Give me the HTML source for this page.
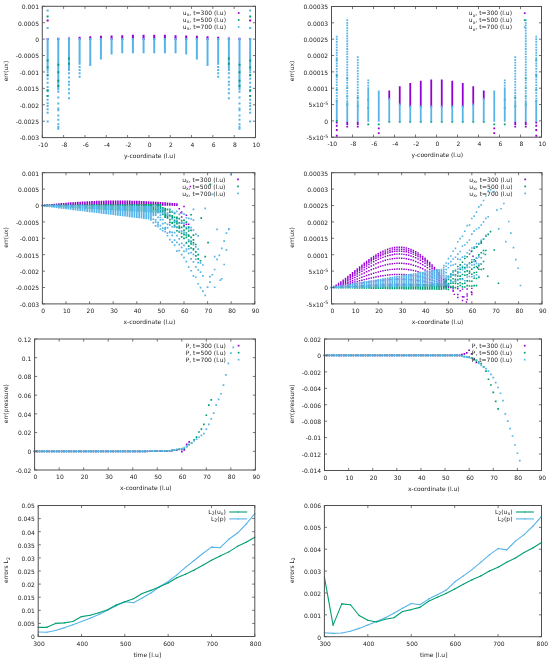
<!DOCTYPE html>
<html><head><meta charset="utf-8"><style>
html,body{margin:0;padding:0;background:#fff;}
svg{display:block;}
text{font-family:"DejaVu Sans","Liberation Sans",sans-serif;fill:#222;}
</style></head><body>
<svg width="550" height="659" viewBox="0 0 550 659">
<rect width="550" height="659" fill="#fff"/>
<path d="M38.20 632.05 L46.86 632.31 L55.53 630.47 L64.19 627.85 L72.86 624.71 L81.52 621.57 L90.18 618.16 L98.85 614.49 L107.51 610.30 L116.18 605.85 L124.84 601.65 L133.50 602.70 L142.17 597.99 L150.83 593.01 L159.50 586.72 L168.16 581.48 L176.82 574.93 L185.49 567.33 L194.15 560.52 L202.82 553.45 L211.48 547.16 L220.14 547.68 L228.81 539.30 L237.47 533.01 L246.14 524.10 L254.80 513.62" stroke="#56b4e9" stroke-width="1.1" fill="none" stroke-linejoin="round"/>
<path d="M37.65 631.50h1.10v1.10h-1.10zM46.31 631.76h1.10v1.10h-1.10zM54.98 629.92h1.10v1.10h-1.10zM63.64 627.30h1.10v1.10h-1.10zM72.31 624.16h1.10v1.10h-1.10zM80.97 621.02h1.10v1.10h-1.10zM89.63 617.61h1.10v1.10h-1.10zM98.30 613.94h1.10v1.10h-1.10zM106.96 609.75h1.10v1.10h-1.10zM115.63 605.30h1.10v1.10h-1.10zM124.29 601.10h1.10v1.10h-1.10zM132.95 602.15h1.10v1.10h-1.10zM141.62 597.44h1.10v1.10h-1.10zM150.28 592.46h1.10v1.10h-1.10zM158.95 586.17h1.10v1.10h-1.10zM167.61 580.93h1.10v1.10h-1.10zM176.27 574.38h1.10v1.10h-1.10zM184.94 566.78h1.10v1.10h-1.10zM193.60 559.97h1.10v1.10h-1.10zM202.27 552.90h1.10v1.10h-1.10zM210.93 546.61h1.10v1.10h-1.10zM219.59 547.13h1.10v1.10h-1.10zM228.26 538.75h1.10v1.10h-1.10zM236.92 532.46h1.10v1.10h-1.10zM245.59 523.55h1.10v1.10h-1.10zM254.25 513.07h1.10v1.10h-1.10z" fill="#56b4e9"/>
<path d="M38.20 627.33 L46.86 627.33 L55.53 623.40 L64.19 622.88 L72.86 621.57 L81.52 616.59 L90.18 615.28 L98.85 612.66 L107.51 609.78 L116.18 605.06 L124.84 601.65 L133.50 598.77 L142.17 593.53 L150.83 590.39 L159.50 586.72 L168.16 583.05 L176.82 577.81 L185.49 574.14 L194.15 569.95 L202.82 565.24 L211.48 560.26 L220.14 556.07 L228.81 551.87 L237.47 546.37 L246.14 542.18 L254.80 537.20" stroke="#009e73" stroke-width="1.1" fill="none" stroke-linejoin="round"/>
<path d="M37.65 626.78h1.10v1.10h-1.10zM46.31 626.78h1.10v1.10h-1.10zM54.98 622.85h1.10v1.10h-1.10zM63.64 622.33h1.10v1.10h-1.10zM72.31 621.02h1.10v1.10h-1.10zM80.97 616.04h1.10v1.10h-1.10zM89.63 614.73h1.10v1.10h-1.10zM98.30 612.11h1.10v1.10h-1.10zM106.96 609.23h1.10v1.10h-1.10zM115.63 604.51h1.10v1.10h-1.10zM124.29 601.10h1.10v1.10h-1.10zM132.95 598.22h1.10v1.10h-1.10zM141.62 592.98h1.10v1.10h-1.10zM150.28 589.84h1.10v1.10h-1.10zM158.95 586.17h1.10v1.10h-1.10zM167.61 582.50h1.10v1.10h-1.10zM176.27 577.26h1.10v1.10h-1.10zM184.94 573.59h1.10v1.10h-1.10zM193.60 569.40h1.10v1.10h-1.10zM202.27 564.69h1.10v1.10h-1.10zM210.93 559.71h1.10v1.10h-1.10zM219.59 555.52h1.10v1.10h-1.10zM228.26 551.32h1.10v1.10h-1.10zM236.92 545.82h1.10v1.10h-1.10zM245.59 541.63h1.10v1.10h-1.10zM254.25 536.65h1.10v1.10h-1.10z" fill="#009e73"/>
<path d="M324.40 632.76 L333.08 633.42 L341.77 632.98 L350.45 631.23 L359.14 628.39 L367.82 625.11 L376.50 621.39 L385.19 617.68 L393.87 613.30 L402.56 608.27 L411.24 603.46 L419.92 604.77 L428.61 599.09 L437.29 594.72 L445.98 590.34 L454.66 582.03 L463.34 575.91 L472.03 569.57 L480.71 562.35 L489.40 554.92 L498.08 548.58 L506.76 549.89 L515.45 541.14 L524.13 534.58 L532.82 526.27 L541.50 516.43" stroke="#56b4e9" stroke-width="1.1" fill="none" stroke-linejoin="round"/>
<path d="M323.85 632.21h1.10v1.10h-1.10zM332.53 632.87h1.10v1.10h-1.10zM341.22 632.43h1.10v1.10h-1.10zM349.90 630.68h1.10v1.10h-1.10zM358.59 627.84h1.10v1.10h-1.10zM367.27 624.56h1.10v1.10h-1.10zM375.95 620.84h1.10v1.10h-1.10zM384.64 617.13h1.10v1.10h-1.10zM393.32 612.75h1.10v1.10h-1.10zM402.01 607.72h1.10v1.10h-1.10zM410.69 602.91h1.10v1.10h-1.10zM419.37 604.22h1.10v1.10h-1.10zM428.06 598.54h1.10v1.10h-1.10zM436.74 594.17h1.10v1.10h-1.10zM445.43 589.79h1.10v1.10h-1.10zM454.11 581.48h1.10v1.10h-1.10zM462.79 575.36h1.10v1.10h-1.10zM471.48 569.02h1.10v1.10h-1.10zM480.16 561.80h1.10v1.10h-1.10zM488.85 554.37h1.10v1.10h-1.10zM497.53 548.03h1.10v1.10h-1.10zM506.21 549.34h1.10v1.10h-1.10zM514.90 540.59h1.10v1.10h-1.10zM523.58 534.03h1.10v1.10h-1.10zM532.27 525.72h1.10v1.10h-1.10zM540.95 515.88h1.10v1.10h-1.10z" fill="#56b4e9"/>
<path d="M324.40 577.22 L333.08 625.11 L341.77 603.90 L350.45 604.77 L359.14 615.49 L367.82 620.30 L376.50 622.05 L385.19 619.21 L393.87 617.68 L402.56 611.55 L411.24 609.59 L419.92 607.40 L428.61 601.28 L437.29 597.34 L445.98 593.40 L454.66 589.03 L463.34 584.22 L472.03 579.85 L480.71 575.91 L489.40 571.10 L498.08 567.16 L506.76 562.35 L515.45 557.98 L524.13 552.51 L532.82 547.92 L541.50 542.45" stroke="#009e73" stroke-width="1.1" fill="none" stroke-linejoin="round"/>
<path d="M323.85 576.67h1.10v1.10h-1.10zM332.53 624.56h1.10v1.10h-1.10zM341.22 603.35h1.10v1.10h-1.10zM349.90 604.22h1.10v1.10h-1.10zM358.59 614.94h1.10v1.10h-1.10zM367.27 619.75h1.10v1.10h-1.10zM375.95 621.50h1.10v1.10h-1.10zM384.64 618.66h1.10v1.10h-1.10zM393.32 617.13h1.10v1.10h-1.10zM402.01 611.00h1.10v1.10h-1.10zM410.69 609.04h1.10v1.10h-1.10zM419.37 606.85h1.10v1.10h-1.10zM428.06 600.73h1.10v1.10h-1.10zM436.74 596.79h1.10v1.10h-1.10zM445.43 592.85h1.10v1.10h-1.10zM454.11 588.48h1.10v1.10h-1.10zM462.79 583.67h1.10v1.10h-1.10zM471.48 579.30h1.10v1.10h-1.10zM480.16 575.36h1.10v1.10h-1.10zM488.85 570.55h1.10v1.10h-1.10zM497.53 566.61h1.10v1.10h-1.10zM506.21 561.80h1.10v1.10h-1.10zM514.90 557.43h1.10v1.10h-1.10zM523.58 551.96h1.10v1.10h-1.10zM532.27 547.37h1.10v1.10h-1.10zM540.95 541.90h1.10v1.10h-1.10z" fill="#009e73"/>
<path d="M33.75 450.44h1.70v1.70h-1.70zM36.20 450.44h1.70v1.70h-1.70zM38.66 450.44h1.70v1.70h-1.70zM41.11 450.44h1.70v1.70h-1.70zM43.56 450.44h1.70v1.70h-1.70zM46.02 450.44h1.70v1.70h-1.70zM48.47 450.44h1.70v1.70h-1.70zM50.92 450.44h1.70v1.70h-1.70zM53.38 450.44h1.70v1.70h-1.70zM55.83 450.44h1.70v1.70h-1.70zM58.28 450.44h1.70v1.70h-1.70zM60.74 450.44h1.70v1.70h-1.70zM63.19 450.44h1.70v1.70h-1.70zM65.64 450.44h1.70v1.70h-1.70zM68.10 450.44h1.70v1.70h-1.70zM70.55 450.44h1.70v1.70h-1.70zM73.00 450.44h1.70v1.70h-1.70zM75.46 450.44h1.70v1.70h-1.70zM77.91 450.44h1.70v1.70h-1.70zM80.36 450.44h1.70v1.70h-1.70zM82.82 450.44h1.70v1.70h-1.70zM85.27 450.44h1.70v1.70h-1.70zM87.72 450.44h1.70v1.70h-1.70zM90.18 450.44h1.70v1.70h-1.70zM92.63 450.44h1.70v1.70h-1.70zM95.08 450.44h1.70v1.70h-1.70zM97.54 450.44h1.70v1.70h-1.70zM99.99 450.44h1.70v1.70h-1.70zM102.44 450.44h1.70v1.70h-1.70zM104.90 450.44h1.70v1.70h-1.70zM107.35 450.44h1.70v1.70h-1.70zM109.80 450.44h1.70v1.70h-1.70zM112.26 450.44h1.70v1.70h-1.70zM114.71 450.44h1.70v1.70h-1.70zM117.16 450.44h1.70v1.70h-1.70zM119.62 450.44h1.70v1.70h-1.70zM122.07 450.44h1.70v1.70h-1.70zM124.52 450.44h1.70v1.70h-1.70zM126.98 450.44h1.70v1.70h-1.70zM129.43 450.44h1.70v1.70h-1.70zM131.88 450.44h1.70v1.70h-1.70zM134.34 450.44h1.70v1.70h-1.70zM136.79 450.44h1.70v1.70h-1.70zM139.24 450.44h1.70v1.70h-1.70zM141.70 450.44h1.70v1.70h-1.70zM144.15 450.44h1.70v1.70h-1.70zM146.60 450.43h1.70v1.70h-1.70zM149.06 450.41h1.70v1.70h-1.70zM151.51 450.39h1.70v1.70h-1.70zM153.96 450.36h1.70v1.70h-1.70zM156.42 450.33h1.70v1.70h-1.70zM158.87 450.30h1.70v1.70h-1.70zM161.32 450.26h1.70v1.70h-1.70zM163.78 450.22h1.70v1.70h-1.70zM166.23 450.18h1.70v1.70h-1.70zM168.68 450.14h1.70v1.70h-1.70zM171.14 449.76h1.70v1.70h-1.70zM173.59 449.39h1.70v1.70h-1.70zM176.04 449.01h1.70v1.70h-1.70zM178.50 448.64h1.70v1.70h-1.70zM180.95 450.72h1.70v1.70h-1.70zM183.40 448.94h1.70v1.70h-1.70zM185.86 443.51h1.70v1.70h-1.70zM188.31 441.08h1.70v1.70h-1.70z" fill="#9400d3"/>
<path d="M33.75 450.44h1.70v1.70h-1.70zM36.20 450.44h1.70v1.70h-1.70zM38.66 450.44h1.70v1.70h-1.70zM41.11 450.44h1.70v1.70h-1.70zM43.56 450.44h1.70v1.70h-1.70zM46.02 450.44h1.70v1.70h-1.70zM48.47 450.44h1.70v1.70h-1.70zM50.92 450.44h1.70v1.70h-1.70zM53.38 450.44h1.70v1.70h-1.70zM55.83 450.44h1.70v1.70h-1.70zM58.28 450.44h1.70v1.70h-1.70zM60.74 450.44h1.70v1.70h-1.70zM63.19 450.44h1.70v1.70h-1.70zM65.64 450.44h1.70v1.70h-1.70zM68.10 450.44h1.70v1.70h-1.70zM70.55 450.44h1.70v1.70h-1.70zM73.00 450.44h1.70v1.70h-1.70zM75.46 450.44h1.70v1.70h-1.70zM77.91 450.44h1.70v1.70h-1.70zM80.36 450.44h1.70v1.70h-1.70zM82.82 450.44h1.70v1.70h-1.70zM85.27 450.44h1.70v1.70h-1.70zM87.72 450.44h1.70v1.70h-1.70zM90.18 450.44h1.70v1.70h-1.70zM92.63 450.44h1.70v1.70h-1.70zM95.08 450.44h1.70v1.70h-1.70zM97.54 450.44h1.70v1.70h-1.70zM99.99 450.44h1.70v1.70h-1.70zM102.44 450.44h1.70v1.70h-1.70zM104.90 450.44h1.70v1.70h-1.70zM107.35 450.44h1.70v1.70h-1.70zM109.80 450.44h1.70v1.70h-1.70zM112.26 450.44h1.70v1.70h-1.70zM114.71 450.44h1.70v1.70h-1.70zM117.16 450.44h1.70v1.70h-1.70zM119.62 450.44h1.70v1.70h-1.70zM122.07 450.44h1.70v1.70h-1.70zM124.52 450.44h1.70v1.70h-1.70zM126.98 450.44h1.70v1.70h-1.70zM129.43 450.44h1.70v1.70h-1.70zM131.88 450.44h1.70v1.70h-1.70zM134.34 450.44h1.70v1.70h-1.70zM136.79 450.44h1.70v1.70h-1.70zM139.24 450.44h1.70v1.70h-1.70zM141.70 450.44h1.70v1.70h-1.70zM144.15 450.44h1.70v1.70h-1.70zM146.60 450.42h1.70v1.70h-1.70zM149.06 450.40h1.70v1.70h-1.70zM151.51 450.37h1.70v1.70h-1.70zM153.96 450.34h1.70v1.70h-1.70zM156.42 450.30h1.70v1.70h-1.70zM158.87 450.26h1.70v1.70h-1.70zM161.32 450.22h1.70v1.70h-1.70zM163.78 450.17h1.70v1.70h-1.70zM166.23 450.12h1.70v1.70h-1.70zM168.68 450.06h1.70v1.70h-1.70zM171.14 449.59h1.70v1.70h-1.70zM173.59 449.13h1.70v1.70h-1.70zM176.04 448.66h1.70v1.70h-1.70zM178.50 448.19h1.70v1.70h-1.70zM180.95 448.56h1.70v1.70h-1.70zM183.40 447.63h1.70v1.70h-1.70zM185.86 445.76h1.70v1.70h-1.70zM188.31 443.89h1.70v1.70h-1.70zM190.76 442.01h1.70v1.70h-1.70zM193.22 439.11h1.70v1.70h-1.70zM195.67 436.21h1.70v1.70h-1.70zM198.12 431.16h1.70v1.70h-1.70zM200.58 428.26h1.70v1.70h-1.70zM203.03 423.58h1.70v1.70h-1.70zM205.48 414.41h1.70v1.70h-1.70zM207.94 404.21h1.70v1.70h-1.70zM210.39 398.97h1.70v1.70h-1.70z" fill="#009e73"/>
<path d="M33.75 450.44h1.70v1.70h-1.70zM36.20 450.44h1.70v1.70h-1.70zM38.66 450.44h1.70v1.70h-1.70zM41.11 450.44h1.70v1.70h-1.70zM43.56 450.44h1.70v1.70h-1.70zM46.02 450.44h1.70v1.70h-1.70zM48.47 450.44h1.70v1.70h-1.70zM50.92 450.44h1.70v1.70h-1.70zM53.38 450.44h1.70v1.70h-1.70zM55.83 450.44h1.70v1.70h-1.70zM58.28 450.44h1.70v1.70h-1.70zM60.74 450.44h1.70v1.70h-1.70zM63.19 450.44h1.70v1.70h-1.70zM65.64 450.44h1.70v1.70h-1.70zM68.10 450.44h1.70v1.70h-1.70zM70.55 450.44h1.70v1.70h-1.70zM73.00 450.44h1.70v1.70h-1.70zM75.46 450.44h1.70v1.70h-1.70zM77.91 450.44h1.70v1.70h-1.70zM80.36 450.44h1.70v1.70h-1.70zM82.82 450.44h1.70v1.70h-1.70zM85.27 450.44h1.70v1.70h-1.70zM87.72 450.44h1.70v1.70h-1.70zM90.18 450.44h1.70v1.70h-1.70zM92.63 450.44h1.70v1.70h-1.70zM95.08 450.44h1.70v1.70h-1.70zM97.54 450.44h1.70v1.70h-1.70zM99.99 450.44h1.70v1.70h-1.70zM102.44 450.44h1.70v1.70h-1.70zM104.90 450.44h1.70v1.70h-1.70zM107.35 450.44h1.70v1.70h-1.70zM109.80 450.44h1.70v1.70h-1.70zM112.26 450.44h1.70v1.70h-1.70zM114.71 450.44h1.70v1.70h-1.70zM117.16 450.44h1.70v1.70h-1.70zM119.62 450.44h1.70v1.70h-1.70zM122.07 450.44h1.70v1.70h-1.70zM124.52 450.44h1.70v1.70h-1.70zM126.98 450.44h1.70v1.70h-1.70zM129.43 450.44h1.70v1.70h-1.70zM131.88 450.44h1.70v1.70h-1.70zM134.34 450.44h1.70v1.70h-1.70zM136.79 450.44h1.70v1.70h-1.70zM139.24 450.44h1.70v1.70h-1.70zM141.70 450.44h1.70v1.70h-1.70zM144.15 450.44h1.70v1.70h-1.70zM146.60 450.42h1.70v1.70h-1.70zM149.06 450.40h1.70v1.70h-1.70zM151.51 450.37h1.70v1.70h-1.70zM153.96 450.34h1.70v1.70h-1.70zM156.42 450.30h1.70v1.70h-1.70zM158.87 450.26h1.70v1.70h-1.70zM161.32 450.22h1.70v1.70h-1.70zM163.78 450.17h1.70v1.70h-1.70zM166.23 450.12h1.70v1.70h-1.70zM168.68 450.06h1.70v1.70h-1.70zM171.14 449.59h1.70v1.70h-1.70zM173.59 449.13h1.70v1.70h-1.70zM176.04 448.66h1.70v1.70h-1.70zM178.50 448.19h1.70v1.70h-1.70zM180.95 447.82h1.70v1.70h-1.70zM183.40 446.69h1.70v1.70h-1.70zM185.86 445.29h1.70v1.70h-1.70zM188.31 443.51h1.70v1.70h-1.70zM190.76 442.01h1.70v1.70h-1.70zM193.22 440.14h1.70v1.70h-1.70zM195.67 438.18h1.70v1.70h-1.70zM198.12 436.40h1.70v1.70h-1.70zM200.58 434.53h1.70v1.70h-1.70zM203.03 432.84h1.70v1.70h-1.70zM205.48 428.26h1.70v1.70h-1.70zM207.94 423.58h1.70v1.70h-1.70zM210.39 418.06h1.70v1.70h-1.70zM212.84 412.26h1.70v1.70h-1.70zM215.30 404.21h1.70v1.70h-1.70zM217.75 398.60h1.70v1.70h-1.70zM220.20 392.89h1.70v1.70h-1.70zM222.66 384.28h1.70v1.70h-1.70zM225.11 373.99h1.70v1.70h-1.70zM227.56 362.48h1.70v1.70h-1.70zM230.02 352.19h1.70v1.70h-1.70zM232.47 346.57h1.70v1.70h-1.70z" fill="#56b4e9"/>
<path d="M323.65 354.59h1.70v1.70h-1.70zM326.06 354.59h1.70v1.70h-1.70zM328.47 354.59h1.70v1.70h-1.70zM330.88 354.59h1.70v1.70h-1.70zM333.29 354.59h1.70v1.70h-1.70zM335.71 354.59h1.70v1.70h-1.70zM338.12 354.59h1.70v1.70h-1.70zM340.53 354.59h1.70v1.70h-1.70zM342.94 354.59h1.70v1.70h-1.70zM345.35 354.59h1.70v1.70h-1.70zM347.76 354.59h1.70v1.70h-1.70zM350.17 354.59h1.70v1.70h-1.70zM352.58 354.59h1.70v1.70h-1.70zM354.99 354.59h1.70v1.70h-1.70zM357.41 354.59h1.70v1.70h-1.70zM359.82 354.59h1.70v1.70h-1.70zM362.23 354.59h1.70v1.70h-1.70zM364.64 354.59h1.70v1.70h-1.70zM367.05 354.59h1.70v1.70h-1.70zM369.46 354.59h1.70v1.70h-1.70zM371.87 354.59h1.70v1.70h-1.70zM374.28 354.59h1.70v1.70h-1.70zM376.69 354.59h1.70v1.70h-1.70zM379.11 354.59h1.70v1.70h-1.70zM381.52 354.59h1.70v1.70h-1.70zM383.93 354.59h1.70v1.70h-1.70zM386.34 354.59h1.70v1.70h-1.70zM388.75 354.59h1.70v1.70h-1.70zM391.16 354.59h1.70v1.70h-1.70zM393.57 354.59h1.70v1.70h-1.70zM395.98 354.59h1.70v1.70h-1.70zM398.39 354.59h1.70v1.70h-1.70zM400.81 354.59h1.70v1.70h-1.70zM403.22 354.59h1.70v1.70h-1.70zM405.63 354.59h1.70v1.70h-1.70zM408.04 354.59h1.70v1.70h-1.70zM410.45 354.59h1.70v1.70h-1.70zM412.86 354.59h1.70v1.70h-1.70zM415.27 354.59h1.70v1.70h-1.70zM417.68 354.59h1.70v1.70h-1.70zM420.09 354.59h1.70v1.70h-1.70zM422.51 354.59h1.70v1.70h-1.70zM424.92 354.59h1.70v1.70h-1.70zM427.33 354.59h1.70v1.70h-1.70zM429.74 354.59h1.70v1.70h-1.70zM432.15 354.59h1.70v1.70h-1.70zM434.56 354.59h1.70v1.70h-1.70zM436.97 354.59h1.70v1.70h-1.70zM439.38 354.59h1.70v1.70h-1.70zM441.79 354.59h1.70v1.70h-1.70zM444.21 354.59h1.70v1.70h-1.70zM446.62 354.59h1.70v1.70h-1.70zM449.03 354.59h1.70v1.70h-1.70zM451.44 354.59h1.70v1.70h-1.70zM453.85 354.59h1.70v1.70h-1.70zM456.26 354.59h1.70v1.70h-1.70zM458.67 354.59h1.70v1.70h-1.70zM461.08 353.77h1.70v1.70h-1.70zM463.49 352.94h1.70v1.70h-1.70zM465.91 352.12h1.70v1.70h-1.70zM468.32 349.41h1.70v1.70h-1.70zM470.73 352.94h1.70v1.70h-1.70zM473.14 357.88h1.70v1.70h-1.70zM475.55 361.66h1.70v1.70h-1.70z" fill="#9400d3"/>
<path d="M323.65 354.59h1.70v1.70h-1.70zM326.06 354.59h1.70v1.70h-1.70zM328.47 354.59h1.70v1.70h-1.70zM330.88 354.59h1.70v1.70h-1.70zM333.29 354.59h1.70v1.70h-1.70zM335.71 354.59h1.70v1.70h-1.70zM338.12 354.59h1.70v1.70h-1.70zM340.53 354.59h1.70v1.70h-1.70zM342.94 354.59h1.70v1.70h-1.70zM345.35 354.59h1.70v1.70h-1.70zM347.76 354.59h1.70v1.70h-1.70zM350.17 354.59h1.70v1.70h-1.70zM352.58 354.59h1.70v1.70h-1.70zM354.99 354.59h1.70v1.70h-1.70zM357.41 354.59h1.70v1.70h-1.70zM359.82 354.59h1.70v1.70h-1.70zM362.23 354.59h1.70v1.70h-1.70zM364.64 354.59h1.70v1.70h-1.70zM367.05 354.59h1.70v1.70h-1.70zM369.46 354.59h1.70v1.70h-1.70zM371.87 354.59h1.70v1.70h-1.70zM374.28 354.59h1.70v1.70h-1.70zM376.69 354.59h1.70v1.70h-1.70zM379.11 354.59h1.70v1.70h-1.70zM381.52 354.59h1.70v1.70h-1.70zM383.93 354.59h1.70v1.70h-1.70zM386.34 354.59h1.70v1.70h-1.70zM388.75 354.59h1.70v1.70h-1.70zM391.16 354.59h1.70v1.70h-1.70zM393.57 354.59h1.70v1.70h-1.70zM395.98 354.59h1.70v1.70h-1.70zM398.39 354.59h1.70v1.70h-1.70zM400.81 354.59h1.70v1.70h-1.70zM403.22 354.59h1.70v1.70h-1.70zM405.63 354.59h1.70v1.70h-1.70zM408.04 354.59h1.70v1.70h-1.70zM410.45 354.59h1.70v1.70h-1.70zM412.86 354.59h1.70v1.70h-1.70zM415.27 354.59h1.70v1.70h-1.70zM417.68 354.59h1.70v1.70h-1.70zM420.09 354.59h1.70v1.70h-1.70zM422.51 354.59h1.70v1.70h-1.70zM424.92 354.59h1.70v1.70h-1.70zM427.33 354.59h1.70v1.70h-1.70zM429.74 354.59h1.70v1.70h-1.70zM432.15 354.59h1.70v1.70h-1.70zM434.56 354.59h1.70v1.70h-1.70zM436.97 354.59h1.70v1.70h-1.70zM439.38 354.59h1.70v1.70h-1.70zM441.79 354.59h1.70v1.70h-1.70zM444.21 354.59h1.70v1.70h-1.70zM446.62 354.59h1.70v1.70h-1.70zM449.03 354.59h1.70v1.70h-1.70zM451.44 354.59h1.70v1.70h-1.70zM453.85 354.59h1.70v1.70h-1.70zM456.26 354.59h1.70v1.70h-1.70zM458.67 354.59h1.70v1.70h-1.70zM461.08 355.16h1.70v1.70h-1.70zM463.49 355.74h1.70v1.70h-1.70zM465.91 356.31h1.70v1.70h-1.70zM468.32 356.23h1.70v1.70h-1.70zM470.73 357.05h1.70v1.70h-1.70zM473.14 358.70h1.70v1.70h-1.70zM475.55 359.52h1.70v1.70h-1.70zM477.96 361.16h1.70v1.70h-1.70zM480.37 362.81h1.70v1.70h-1.70zM482.78 366.09h1.70v1.70h-1.70zM485.19 370.20h1.70v1.70h-1.70zM487.61 378.42h1.70v1.70h-1.70zM490.02 384.17h1.70v1.70h-1.70zM492.43 391.57h1.70v1.70h-1.70zM494.84 400.61h1.70v1.70h-1.70zM497.25 408.01h1.70v1.70h-1.70z" fill="#009e73"/>
<path d="M323.65 354.59h1.70v1.70h-1.70zM326.06 354.59h1.70v1.70h-1.70zM328.47 354.59h1.70v1.70h-1.70zM330.88 354.59h1.70v1.70h-1.70zM333.29 354.59h1.70v1.70h-1.70zM335.71 354.59h1.70v1.70h-1.70zM338.12 354.59h1.70v1.70h-1.70zM340.53 354.59h1.70v1.70h-1.70zM342.94 354.59h1.70v1.70h-1.70zM345.35 354.59h1.70v1.70h-1.70zM347.76 354.59h1.70v1.70h-1.70zM350.17 354.59h1.70v1.70h-1.70zM352.58 354.59h1.70v1.70h-1.70zM354.99 354.59h1.70v1.70h-1.70zM357.41 354.59h1.70v1.70h-1.70zM359.82 354.59h1.70v1.70h-1.70zM362.23 354.59h1.70v1.70h-1.70zM364.64 354.59h1.70v1.70h-1.70zM367.05 354.59h1.70v1.70h-1.70zM369.46 354.59h1.70v1.70h-1.70zM371.87 354.59h1.70v1.70h-1.70zM374.28 354.59h1.70v1.70h-1.70zM376.69 354.59h1.70v1.70h-1.70zM379.11 354.59h1.70v1.70h-1.70zM381.52 354.59h1.70v1.70h-1.70zM383.93 354.59h1.70v1.70h-1.70zM386.34 354.59h1.70v1.70h-1.70zM388.75 354.59h1.70v1.70h-1.70zM391.16 354.59h1.70v1.70h-1.70zM393.57 354.59h1.70v1.70h-1.70zM395.98 354.59h1.70v1.70h-1.70zM398.39 354.59h1.70v1.70h-1.70zM400.81 354.59h1.70v1.70h-1.70zM403.22 354.59h1.70v1.70h-1.70zM405.63 354.59h1.70v1.70h-1.70zM408.04 354.59h1.70v1.70h-1.70zM410.45 354.59h1.70v1.70h-1.70zM412.86 354.59h1.70v1.70h-1.70zM415.27 354.59h1.70v1.70h-1.70zM417.68 354.59h1.70v1.70h-1.70zM420.09 354.59h1.70v1.70h-1.70zM422.51 354.59h1.70v1.70h-1.70zM424.92 354.59h1.70v1.70h-1.70zM427.33 354.59h1.70v1.70h-1.70zM429.74 354.59h1.70v1.70h-1.70zM432.15 354.59h1.70v1.70h-1.70zM434.56 354.59h1.70v1.70h-1.70zM436.97 354.59h1.70v1.70h-1.70zM439.38 354.59h1.70v1.70h-1.70zM441.79 354.59h1.70v1.70h-1.70zM444.21 354.59h1.70v1.70h-1.70zM446.62 354.59h1.70v1.70h-1.70zM449.03 354.59h1.70v1.70h-1.70zM451.44 354.59h1.70v1.70h-1.70zM453.85 354.59h1.70v1.70h-1.70zM456.26 354.59h1.70v1.70h-1.70zM458.67 354.59h1.70v1.70h-1.70zM461.08 355.16h1.70v1.70h-1.70zM463.49 355.74h1.70v1.70h-1.70zM465.91 356.31h1.70v1.70h-1.70zM468.32 356.89h1.70v1.70h-1.70zM470.73 357.46h1.70v1.70h-1.70zM473.14 357.88h1.70v1.70h-1.70zM475.55 359.52h1.70v1.70h-1.70zM477.96 362.48h1.70v1.70h-1.70zM480.37 364.45h1.70v1.70h-1.70zM482.78 366.09h1.70v1.70h-1.70zM485.19 367.74h1.70v1.70h-1.70zM487.61 370.20h1.70v1.70h-1.70zM490.02 373.49h1.70v1.70h-1.70zM492.43 376.78h1.70v1.70h-1.70zM494.84 381.71h1.70v1.70h-1.70zM497.25 386.64h1.70v1.70h-1.70zM499.66 392.39h1.70v1.70h-1.70zM502.07 399.79h1.70v1.70h-1.70zM504.48 412.94h1.70v1.70h-1.70zM506.89 420.34h1.70v1.70h-1.70zM509.31 427.73h1.70v1.70h-1.70zM511.72 435.13h1.70v1.70h-1.70zM514.13 444.17h1.70v1.70h-1.70zM516.54 452.39h1.70v1.70h-1.70zM518.95 459.79h1.70v1.70h-1.70z" fill="#56b4e9"/>
<path d="M41.62 204.72h1.56v1.56h-1.56zM43.98 204.51h1.56v1.56h-1.56zM46.34 204.30h1.56v1.56h-1.56zM48.70 204.09h1.56v1.56h-1.56zM51.06 203.89h1.56v1.56h-1.56zM53.42 203.68h1.56v1.56h-1.56zM55.78 203.48h1.56v1.56h-1.56zM58.14 203.28h1.56v1.56h-1.56zM60.50 203.09h1.56v1.56h-1.56zM62.86 202.90h1.56v1.56h-1.56zM65.22 202.71h1.56v1.56h-1.56zM67.58 202.53h1.56v1.56h-1.56zM69.94 202.35h1.56v1.56h-1.56zM72.30 202.18h1.56v1.56h-1.56zM74.66 202.01h1.56v1.56h-1.56zM77.02 201.86h1.56v1.56h-1.56zM79.38 201.70h1.56v1.56h-1.56zM81.74 201.56h1.56v1.56h-1.56zM84.10 201.42h1.56v1.56h-1.56zM86.46 201.30h1.56v1.56h-1.56zM88.82 201.17h1.56v1.56h-1.56zM91.18 201.06h1.56v1.56h-1.56zM93.54 200.96h1.56v1.56h-1.56zM95.90 200.87h1.56v1.56h-1.56zM98.26 200.78h1.56v1.56h-1.56zM100.62 200.71h1.56v1.56h-1.56zM102.98 200.64h1.56v1.56h-1.56zM105.34 200.58h1.56v1.56h-1.56zM107.70 200.54h1.56v1.56h-1.56zM110.06 200.50h1.56v1.56h-1.56zM112.42 200.48h1.56v1.56h-1.56zM114.78 200.46h1.56v1.56h-1.56zM117.14 200.46h1.56v1.56h-1.56zM119.50 200.46h1.56v1.56h-1.56zM121.86 200.48h1.56v1.56h-1.56zM124.22 200.50h1.56v1.56h-1.56zM126.58 200.54h1.56v1.56h-1.56zM128.94 200.58h1.56v1.56h-1.56zM131.30 200.64h1.56v1.56h-1.56zM133.66 200.71h1.56v1.56h-1.56zM136.02 200.78h1.56v1.56h-1.56zM138.38 200.87h1.56v1.56h-1.56zM140.74 200.96h1.56v1.56h-1.56zM143.10 201.06h1.56v1.56h-1.56zM145.46 201.17h1.56v1.56h-1.56zM147.82 201.30h1.56v1.56h-1.56zM150.18 201.42h1.56v1.56h-1.56zM152.54 201.56h1.56v1.56h-1.56zM154.90 201.70h1.56v1.56h-1.56zM157.26 201.86h1.56v1.56h-1.56zM159.62 202.01h1.56v1.56h-1.56zM161.98 202.18h1.56v1.56h-1.56zM164.34 202.35h1.56v1.56h-1.56zM166.70 202.53h1.56v1.56h-1.56zM169.06 202.71h1.56v1.56h-1.56zM171.42 202.90h1.56v1.56h-1.56zM173.78 203.09h1.56v1.56h-1.56zM176.14 203.28h1.56v1.56h-1.56zM41.62 204.72h1.56v1.56h-1.56zM43.98 204.52h1.56v1.56h-1.56zM46.34 204.33h1.56v1.56h-1.56zM48.70 204.13h1.56v1.56h-1.56zM51.06 203.94h1.56v1.56h-1.56zM53.42 203.75h1.56v1.56h-1.56zM55.78 203.56h1.56v1.56h-1.56zM58.14 203.37h1.56v1.56h-1.56zM60.50 203.19h1.56v1.56h-1.56zM62.86 203.01h1.56v1.56h-1.56zM65.22 202.83h1.56v1.56h-1.56zM67.58 202.66h1.56v1.56h-1.56zM69.94 202.50h1.56v1.56h-1.56zM72.30 202.34h1.56v1.56h-1.56zM74.66 202.18h1.56v1.56h-1.56zM77.02 202.03h1.56v1.56h-1.56zM79.38 201.89h1.56v1.56h-1.56zM81.74 201.76h1.56v1.56h-1.56zM84.10 201.63h1.56v1.56h-1.56zM86.46 201.51h1.56v1.56h-1.56zM88.82 201.39h1.56v1.56h-1.56zM91.18 201.29h1.56v1.56h-1.56zM93.54 201.19h1.56v1.56h-1.56zM95.90 201.10h1.56v1.56h-1.56zM98.26 201.02h1.56v1.56h-1.56zM100.62 200.95h1.56v1.56h-1.56zM102.98 200.89h1.56v1.56h-1.56zM105.34 200.84h1.56v1.56h-1.56zM107.70 200.80h1.56v1.56h-1.56zM110.06 200.76h1.56v1.56h-1.56zM112.42 200.74h1.56v1.56h-1.56zM114.78 200.72h1.56v1.56h-1.56zM117.14 200.72h1.56v1.56h-1.56zM119.50 200.72h1.56v1.56h-1.56zM121.86 200.74h1.56v1.56h-1.56zM124.22 200.76h1.56v1.56h-1.56zM126.58 200.80h1.56v1.56h-1.56zM128.94 200.84h1.56v1.56h-1.56zM131.30 200.89h1.56v1.56h-1.56zM133.66 200.95h1.56v1.56h-1.56zM136.02 201.02h1.56v1.56h-1.56zM138.38 201.10h1.56v1.56h-1.56zM140.74 201.19h1.56v1.56h-1.56zM143.10 201.29h1.56v1.56h-1.56zM145.46 201.39h1.56v1.56h-1.56zM147.82 201.51h1.56v1.56h-1.56zM150.18 201.63h1.56v1.56h-1.56zM152.54 201.76h1.56v1.56h-1.56zM154.90 201.89h1.56v1.56h-1.56zM157.26 202.03h1.56v1.56h-1.56zM159.62 202.18h1.56v1.56h-1.56zM161.98 202.34h1.56v1.56h-1.56zM164.34 202.50h1.56v1.56h-1.56zM166.70 202.66h1.56v1.56h-1.56zM169.06 202.83h1.56v1.56h-1.56zM171.42 203.01h1.56v1.56h-1.56zM173.78 203.19h1.56v1.56h-1.56zM176.14 203.37h1.56v1.56h-1.56zM41.62 204.72h1.56v1.56h-1.56zM43.98 204.54h1.56v1.56h-1.56zM46.34 204.35h1.56v1.56h-1.56zM48.70 204.17h1.56v1.56h-1.56zM51.06 203.99h1.56v1.56h-1.56zM53.42 203.81h1.56v1.56h-1.56zM55.78 203.63h1.56v1.56h-1.56zM58.14 203.46h1.56v1.56h-1.56zM60.50 203.29h1.56v1.56h-1.56zM62.86 203.12h1.56v1.56h-1.56zM65.22 202.96h1.56v1.56h-1.56zM67.58 202.80h1.56v1.56h-1.56zM69.94 202.64h1.56v1.56h-1.56zM72.30 202.49h1.56v1.56h-1.56zM74.66 202.35h1.56v1.56h-1.56zM77.02 202.21h1.56v1.56h-1.56zM79.38 202.08h1.56v1.56h-1.56zM81.74 201.95h1.56v1.56h-1.56zM84.10 201.83h1.56v1.56h-1.56zM86.46 201.72h1.56v1.56h-1.56zM88.82 201.61h1.56v1.56h-1.56zM91.18 201.51h1.56v1.56h-1.56zM93.54 201.42h1.56v1.56h-1.56zM95.90 201.34h1.56v1.56h-1.56zM98.26 201.27h1.56v1.56h-1.56zM100.62 201.20h1.56v1.56h-1.56zM102.98 201.14h1.56v1.56h-1.56zM105.34 201.09h1.56v1.56h-1.56zM107.70 201.05h1.56v1.56h-1.56zM110.06 201.02h1.56v1.56h-1.56zM112.42 201.00h1.56v1.56h-1.56zM114.78 200.99h1.56v1.56h-1.56zM117.14 200.98h1.56v1.56h-1.56zM119.50 200.99h1.56v1.56h-1.56zM121.86 201.00h1.56v1.56h-1.56zM124.22 201.02h1.56v1.56h-1.56zM126.58 201.05h1.56v1.56h-1.56zM128.94 201.09h1.56v1.56h-1.56zM131.30 201.14h1.56v1.56h-1.56zM133.66 201.20h1.56v1.56h-1.56zM136.02 201.27h1.56v1.56h-1.56zM138.38 201.34h1.56v1.56h-1.56zM140.74 201.42h1.56v1.56h-1.56zM143.10 201.51h1.56v1.56h-1.56zM145.46 201.61h1.56v1.56h-1.56zM147.82 201.72h1.56v1.56h-1.56zM150.18 201.83h1.56v1.56h-1.56zM152.54 201.95h1.56v1.56h-1.56zM154.90 202.08h1.56v1.56h-1.56zM157.26 202.21h1.56v1.56h-1.56zM159.62 202.35h1.56v1.56h-1.56zM161.98 202.49h1.56v1.56h-1.56zM164.34 202.64h1.56v1.56h-1.56zM166.70 202.80h1.56v1.56h-1.56zM169.06 202.96h1.56v1.56h-1.56zM171.42 203.12h1.56v1.56h-1.56zM173.78 203.29h1.56v1.56h-1.56zM176.14 203.46h1.56v1.56h-1.56zM41.62 204.72h1.56v1.56h-1.56zM43.98 204.55h1.56v1.56h-1.56zM46.34 204.38h1.56v1.56h-1.56zM48.70 204.21h1.56v1.56h-1.56zM51.06 204.05h1.56v1.56h-1.56zM53.42 203.88h1.56v1.56h-1.56zM55.78 203.72h1.56v1.56h-1.56zM58.14 203.56h1.56v1.56h-1.56zM60.50 203.40h1.56v1.56h-1.56zM62.86 203.25h1.56v1.56h-1.56zM65.22 203.10h1.56v1.56h-1.56zM67.58 202.95h1.56v1.56h-1.56zM69.94 202.81h1.56v1.56h-1.56zM72.30 202.67h1.56v1.56h-1.56zM74.66 202.54h1.56v1.56h-1.56zM77.02 202.41h1.56v1.56h-1.56zM79.38 202.28h1.56v1.56h-1.56zM81.74 202.17h1.56v1.56h-1.56zM84.10 202.06h1.56v1.56h-1.56zM86.46 201.95h1.56v1.56h-1.56zM88.82 201.86h1.56v1.56h-1.56zM91.18 201.77h1.56v1.56h-1.56zM93.54 201.68h1.56v1.56h-1.56zM95.90 201.61h1.56v1.56h-1.56zM98.26 201.54h1.56v1.56h-1.56zM100.62 201.48h1.56v1.56h-1.56zM102.98 201.42h1.56v1.56h-1.56zM105.34 201.38h1.56v1.56h-1.56zM107.70 201.34h1.56v1.56h-1.56zM110.06 201.31h1.56v1.56h-1.56zM112.42 201.29h1.56v1.56h-1.56zM114.78 201.28h1.56v1.56h-1.56zM117.14 201.28h1.56v1.56h-1.56zM119.50 201.28h1.56v1.56h-1.56zM121.86 201.29h1.56v1.56h-1.56zM124.22 201.31h1.56v1.56h-1.56zM126.58 201.34h1.56v1.56h-1.56zM128.94 201.38h1.56v1.56h-1.56zM131.30 201.42h1.56v1.56h-1.56zM133.66 201.48h1.56v1.56h-1.56zM136.02 201.54h1.56v1.56h-1.56zM138.38 201.61h1.56v1.56h-1.56zM140.74 201.68h1.56v1.56h-1.56zM143.10 201.77h1.56v1.56h-1.56zM145.46 201.86h1.56v1.56h-1.56zM147.82 201.95h1.56v1.56h-1.56zM150.18 202.06h1.56v1.56h-1.56zM152.54 202.17h1.56v1.56h-1.56zM154.90 202.28h1.56v1.56h-1.56zM157.26 202.41h1.56v1.56h-1.56zM159.62 202.54h1.56v1.56h-1.56zM161.98 202.67h1.56v1.56h-1.56zM164.34 202.81h1.56v1.56h-1.56zM166.70 202.95h1.56v1.56h-1.56zM169.06 203.10h1.56v1.56h-1.56zM171.42 203.25h1.56v1.56h-1.56zM173.78 203.40h1.56v1.56h-1.56zM176.14 203.56h1.56v1.56h-1.56zM41.62 204.72h1.56v1.56h-1.56zM43.98 204.57h1.56v1.56h-1.56zM46.34 204.41h1.56v1.56h-1.56zM48.70 204.26h1.56v1.56h-1.56zM51.06 204.11h1.56v1.56h-1.56zM53.42 203.96h1.56v1.56h-1.56zM55.78 203.82h1.56v1.56h-1.56zM58.14 203.67h1.56v1.56h-1.56zM60.50 203.53h1.56v1.56h-1.56zM62.86 203.39h1.56v1.56h-1.56zM65.22 203.25h1.56v1.56h-1.56zM67.58 203.12h1.56v1.56h-1.56zM69.94 202.99h1.56v1.56h-1.56zM72.30 202.86h1.56v1.56h-1.56zM74.66 202.74h1.56v1.56h-1.56zM77.02 202.63h1.56v1.56h-1.56zM79.38 202.52h1.56v1.56h-1.56zM81.74 202.41h1.56v1.56h-1.56zM84.10 202.31h1.56v1.56h-1.56zM86.46 202.22h1.56v1.56h-1.56zM88.82 202.13h1.56v1.56h-1.56zM91.18 202.05h1.56v1.56h-1.56zM93.54 201.97h1.56v1.56h-1.56zM95.90 201.90h1.56v1.56h-1.56zM98.26 201.84h1.56v1.56h-1.56zM100.62 201.79h1.56v1.56h-1.56zM102.98 201.74h1.56v1.56h-1.56zM105.34 201.70h1.56v1.56h-1.56zM107.70 201.66h1.56v1.56h-1.56zM110.06 201.64h1.56v1.56h-1.56zM112.42 201.62h1.56v1.56h-1.56zM114.78 201.61h1.56v1.56h-1.56zM117.14 201.60h1.56v1.56h-1.56zM119.50 201.61h1.56v1.56h-1.56zM121.86 201.62h1.56v1.56h-1.56zM124.22 201.64h1.56v1.56h-1.56zM126.58 201.66h1.56v1.56h-1.56zM128.94 201.70h1.56v1.56h-1.56zM131.30 201.74h1.56v1.56h-1.56zM133.66 201.79h1.56v1.56h-1.56zM136.02 201.84h1.56v1.56h-1.56zM138.38 201.90h1.56v1.56h-1.56zM140.74 201.97h1.56v1.56h-1.56zM143.10 202.05h1.56v1.56h-1.56zM145.46 202.13h1.56v1.56h-1.56zM147.82 202.22h1.56v1.56h-1.56zM150.18 202.31h1.56v1.56h-1.56zM152.54 202.41h1.56v1.56h-1.56zM154.90 202.52h1.56v1.56h-1.56zM157.26 202.63h1.56v1.56h-1.56zM159.62 202.74h1.56v1.56h-1.56zM161.98 202.86h1.56v1.56h-1.56zM164.34 202.99h1.56v1.56h-1.56zM166.70 203.12h1.56v1.56h-1.56zM169.06 203.25h1.56v1.56h-1.56zM171.42 203.39h1.56v1.56h-1.56zM173.78 203.53h1.56v1.56h-1.56zM176.14 203.67h1.56v1.56h-1.56zM41.62 204.72h1.56v1.56h-1.56zM43.98 204.58h1.56v1.56h-1.56zM46.34 204.45h1.56v1.56h-1.56zM48.70 204.31h1.56v1.56h-1.56zM51.06 204.18h1.56v1.56h-1.56zM53.42 204.04h1.56v1.56h-1.56zM55.78 203.91h1.56v1.56h-1.56zM58.14 203.78h1.56v1.56h-1.56zM60.50 203.65h1.56v1.56h-1.56zM62.86 203.53h1.56v1.56h-1.56zM65.22 203.41h1.56v1.56h-1.56zM67.58 203.29h1.56v1.56h-1.56zM69.94 203.17h1.56v1.56h-1.56zM72.30 203.06h1.56v1.56h-1.56zM74.66 202.95h1.56v1.56h-1.56zM77.02 202.85h1.56v1.56h-1.56zM79.38 202.75h1.56v1.56h-1.56zM81.74 202.65h1.56v1.56h-1.56zM84.10 202.56h1.56v1.56h-1.56zM86.46 202.48h1.56v1.56h-1.56zM88.82 202.40h1.56v1.56h-1.56zM91.18 202.33h1.56v1.56h-1.56zM93.54 202.26h1.56v1.56h-1.56zM95.90 202.20h1.56v1.56h-1.56zM98.26 202.14h1.56v1.56h-1.56zM100.62 202.09h1.56v1.56h-1.56zM102.98 202.05h1.56v1.56h-1.56zM105.34 202.02h1.56v1.56h-1.56zM107.70 201.99h1.56v1.56h-1.56zM110.06 201.96h1.56v1.56h-1.56zM112.42 201.95h1.56v1.56h-1.56zM114.78 201.94h1.56v1.56h-1.56zM117.14 201.93h1.56v1.56h-1.56zM119.50 201.94h1.56v1.56h-1.56zM121.86 201.95h1.56v1.56h-1.56zM124.22 201.96h1.56v1.56h-1.56zM126.58 201.99h1.56v1.56h-1.56zM128.94 202.02h1.56v1.56h-1.56zM131.30 202.05h1.56v1.56h-1.56zM133.66 202.09h1.56v1.56h-1.56zM136.02 202.14h1.56v1.56h-1.56zM138.38 202.20h1.56v1.56h-1.56zM140.74 202.26h1.56v1.56h-1.56zM143.10 202.33h1.56v1.56h-1.56zM145.46 202.40h1.56v1.56h-1.56zM147.82 202.48h1.56v1.56h-1.56zM150.18 202.56h1.56v1.56h-1.56zM152.54 202.65h1.56v1.56h-1.56zM154.90 202.75h1.56v1.56h-1.56zM157.26 202.85h1.56v1.56h-1.56zM159.62 202.95h1.56v1.56h-1.56zM161.98 203.06h1.56v1.56h-1.56zM164.34 203.17h1.56v1.56h-1.56zM166.70 203.29h1.56v1.56h-1.56zM169.06 203.41h1.56v1.56h-1.56zM171.42 203.53h1.56v1.56h-1.56zM173.78 203.65h1.56v1.56h-1.56zM176.14 203.78h1.56v1.56h-1.56zM41.62 204.72h1.56v1.56h-1.56zM43.98 204.60h1.56v1.56h-1.56zM46.34 204.49h1.56v1.56h-1.56zM48.70 204.37h1.56v1.56h-1.56zM51.06 204.26h1.56v1.56h-1.56zM53.42 204.15h1.56v1.56h-1.56zM55.78 204.03h1.56v1.56h-1.56zM58.14 203.92h1.56v1.56h-1.56zM60.50 203.82h1.56v1.56h-1.56zM62.86 203.71h1.56v1.56h-1.56zM65.22 203.61h1.56v1.56h-1.56zM67.58 203.51h1.56v1.56h-1.56zM69.94 203.41h1.56v1.56h-1.56zM72.30 203.31h1.56v1.56h-1.56zM74.66 203.22h1.56v1.56h-1.56zM77.02 203.13h1.56v1.56h-1.56zM79.38 203.05h1.56v1.56h-1.56zM81.74 202.97h1.56v1.56h-1.56zM84.10 202.89h1.56v1.56h-1.56zM86.46 202.82h1.56v1.56h-1.56zM88.82 202.76h1.56v1.56h-1.56zM91.18 202.69h1.56v1.56h-1.56zM93.54 202.64h1.56v1.56h-1.56zM95.90 202.59h1.56v1.56h-1.56zM98.26 202.54h1.56v1.56h-1.56zM100.62 202.50h1.56v1.56h-1.56zM102.98 202.46h1.56v1.56h-1.56zM105.34 202.43h1.56v1.56h-1.56zM107.70 202.40h1.56v1.56h-1.56zM110.06 202.38h1.56v1.56h-1.56zM112.42 202.37h1.56v1.56h-1.56zM114.78 202.36h1.56v1.56h-1.56zM117.14 202.36h1.56v1.56h-1.56zM119.50 202.36h1.56v1.56h-1.56zM121.86 202.37h1.56v1.56h-1.56zM124.22 202.38h1.56v1.56h-1.56zM126.58 202.40h1.56v1.56h-1.56zM128.94 202.43h1.56v1.56h-1.56zM131.30 202.46h1.56v1.56h-1.56zM133.66 202.50h1.56v1.56h-1.56zM136.02 202.54h1.56v1.56h-1.56zM138.38 202.59h1.56v1.56h-1.56zM140.74 202.64h1.56v1.56h-1.56zM143.10 202.69h1.56v1.56h-1.56zM145.46 202.76h1.56v1.56h-1.56zM147.82 202.82h1.56v1.56h-1.56zM150.18 202.89h1.56v1.56h-1.56zM152.54 202.97h1.56v1.56h-1.56zM154.90 203.05h1.56v1.56h-1.56zM157.26 203.13h1.56v1.56h-1.56zM159.62 203.22h1.56v1.56h-1.56zM161.98 203.31h1.56v1.56h-1.56zM164.34 203.41h1.56v1.56h-1.56zM166.70 203.51h1.56v1.56h-1.56zM169.06 203.61h1.56v1.56h-1.56zM171.42 203.71h1.56v1.56h-1.56zM173.78 203.82h1.56v1.56h-1.56zM176.14 203.92h1.56v1.56h-1.56zM41.62 204.72h1.56v1.56h-1.56zM43.98 204.62h1.56v1.56h-1.56zM46.34 204.53h1.56v1.56h-1.56zM48.70 204.43h1.56v1.56h-1.56zM51.06 204.34h1.56v1.56h-1.56zM53.42 204.24h1.56v1.56h-1.56zM55.78 204.15h1.56v1.56h-1.56zM58.14 204.06h1.56v1.56h-1.56zM60.50 203.97h1.56v1.56h-1.56zM62.86 203.88h1.56v1.56h-1.56zM65.22 203.79h1.56v1.56h-1.56zM67.58 203.71h1.56v1.56h-1.56zM69.94 203.63h1.56v1.56h-1.56zM72.30 203.55h1.56v1.56h-1.56zM74.66 203.47h1.56v1.56h-1.56zM77.02 203.40h1.56v1.56h-1.56zM79.38 203.33h1.56v1.56h-1.56zM81.74 203.26h1.56v1.56h-1.56zM84.10 203.20h1.56v1.56h-1.56zM86.46 203.14h1.56v1.56h-1.56zM88.82 203.08h1.56v1.56h-1.56zM91.18 203.03h1.56v1.56h-1.56zM93.54 202.98h1.56v1.56h-1.56zM95.90 202.94h1.56v1.56h-1.56zM98.26 202.90h1.56v1.56h-1.56zM100.62 202.87h1.56v1.56h-1.56zM102.98 202.84h1.56v1.56h-1.56zM105.34 202.81h1.56v1.56h-1.56zM107.70 202.79h1.56v1.56h-1.56zM110.06 202.77h1.56v1.56h-1.56zM112.42 202.76h1.56v1.56h-1.56zM114.78 202.75h1.56v1.56h-1.56zM117.14 202.75h1.56v1.56h-1.56zM119.50 202.75h1.56v1.56h-1.56zM121.86 202.76h1.56v1.56h-1.56zM124.22 202.77h1.56v1.56h-1.56zM126.58 202.79h1.56v1.56h-1.56zM128.94 202.81h1.56v1.56h-1.56zM131.30 202.84h1.56v1.56h-1.56zM133.66 202.87h1.56v1.56h-1.56zM136.02 202.90h1.56v1.56h-1.56zM138.38 202.94h1.56v1.56h-1.56zM140.74 202.98h1.56v1.56h-1.56zM143.10 203.03h1.56v1.56h-1.56zM145.46 203.08h1.56v1.56h-1.56zM147.82 203.14h1.56v1.56h-1.56zM150.18 203.20h1.56v1.56h-1.56zM152.54 203.26h1.56v1.56h-1.56zM154.90 203.33h1.56v1.56h-1.56zM157.26 203.40h1.56v1.56h-1.56zM159.62 203.47h1.56v1.56h-1.56zM161.98 203.55h1.56v1.56h-1.56zM164.34 203.63h1.56v1.56h-1.56zM166.70 203.71h1.56v1.56h-1.56zM169.06 203.79h1.56v1.56h-1.56zM171.42 203.88h1.56v1.56h-1.56zM173.78 203.97h1.56v1.56h-1.56zM176.14 204.06h1.56v1.56h-1.56zM41.62 204.72h1.56v1.56h-1.56zM43.98 204.65h1.56v1.56h-1.56zM46.34 204.58h1.56v1.56h-1.56zM48.70 204.50h1.56v1.56h-1.56zM51.06 204.43h1.56v1.56h-1.56zM53.42 204.36h1.56v1.56h-1.56zM55.78 204.29h1.56v1.56h-1.56zM58.14 204.22h1.56v1.56h-1.56zM60.50 204.16h1.56v1.56h-1.56zM62.86 204.09h1.56v1.56h-1.56zM65.22 204.02h1.56v1.56h-1.56zM67.58 203.96h1.56v1.56h-1.56zM69.94 203.90h1.56v1.56h-1.56zM72.30 203.84h1.56v1.56h-1.56zM74.66 203.78h1.56v1.56h-1.56zM77.02 203.73h1.56v1.56h-1.56zM79.38 203.68h1.56v1.56h-1.56zM81.74 203.63h1.56v1.56h-1.56zM84.10 203.58h1.56v1.56h-1.56zM86.46 203.53h1.56v1.56h-1.56zM88.82 203.49h1.56v1.56h-1.56zM91.18 203.45h1.56v1.56h-1.56zM93.54 203.42h1.56v1.56h-1.56zM95.90 203.39h1.56v1.56h-1.56zM98.26 203.36h1.56v1.56h-1.56zM100.62 203.33h1.56v1.56h-1.56zM102.98 203.31h1.56v1.56h-1.56zM105.34 203.29h1.56v1.56h-1.56zM107.70 203.27h1.56v1.56h-1.56zM110.06 203.26h1.56v1.56h-1.56zM112.42 203.25h1.56v1.56h-1.56zM114.78 203.25h1.56v1.56h-1.56zM117.14 203.24h1.56v1.56h-1.56zM119.50 203.25h1.56v1.56h-1.56zM121.86 203.25h1.56v1.56h-1.56zM124.22 203.26h1.56v1.56h-1.56zM126.58 203.27h1.56v1.56h-1.56zM128.94 203.29h1.56v1.56h-1.56zM131.30 203.31h1.56v1.56h-1.56zM133.66 203.33h1.56v1.56h-1.56zM136.02 203.36h1.56v1.56h-1.56zM138.38 203.39h1.56v1.56h-1.56zM140.74 203.42h1.56v1.56h-1.56zM143.10 203.45h1.56v1.56h-1.56zM145.46 203.49h1.56v1.56h-1.56zM147.82 203.53h1.56v1.56h-1.56zM150.18 203.58h1.56v1.56h-1.56zM152.54 203.63h1.56v1.56h-1.56zM154.90 203.68h1.56v1.56h-1.56zM157.26 203.73h1.56v1.56h-1.56zM159.62 203.78h1.56v1.56h-1.56zM161.98 203.84h1.56v1.56h-1.56zM164.34 203.90h1.56v1.56h-1.56zM166.70 203.96h1.56v1.56h-1.56zM169.06 204.02h1.56v1.56h-1.56zM171.42 204.09h1.56v1.56h-1.56zM173.78 204.16h1.56v1.56h-1.56zM176.14 204.22h1.56v1.56h-1.56zM41.62 204.72h1.56v1.56h-1.56zM43.98 204.67h1.56v1.56h-1.56zM46.34 204.62h1.56v1.56h-1.56zM48.70 204.58h1.56v1.56h-1.56zM51.06 204.53h1.56v1.56h-1.56zM53.42 204.48h1.56v1.56h-1.56zM55.78 204.43h1.56v1.56h-1.56zM58.14 204.39h1.56v1.56h-1.56zM60.50 204.34h1.56v1.56h-1.56zM62.86 204.30h1.56v1.56h-1.56zM65.22 204.26h1.56v1.56h-1.56zM67.58 204.21h1.56v1.56h-1.56zM69.94 204.17h1.56v1.56h-1.56zM72.30 204.13h1.56v1.56h-1.56zM74.66 204.10h1.56v1.56h-1.56zM77.02 204.06h1.56v1.56h-1.56zM79.38 204.02h1.56v1.56h-1.56zM81.74 203.99h1.56v1.56h-1.56zM84.10 203.96h1.56v1.56h-1.56zM86.46 203.93h1.56v1.56h-1.56zM88.82 203.90h1.56v1.56h-1.56zM91.18 203.88h1.56v1.56h-1.56zM93.54 203.85h1.56v1.56h-1.56zM95.90 203.83h1.56v1.56h-1.56zM98.26 203.81h1.56v1.56h-1.56zM100.62 203.79h1.56v1.56h-1.56zM102.98 203.78h1.56v1.56h-1.56zM105.34 203.77h1.56v1.56h-1.56zM107.70 203.75h1.56v1.56h-1.56zM110.06 203.75h1.56v1.56h-1.56zM112.42 203.74h1.56v1.56h-1.56zM114.78 203.74h1.56v1.56h-1.56zM117.14 203.74h1.56v1.56h-1.56zM119.50 203.74h1.56v1.56h-1.56zM121.86 203.74h1.56v1.56h-1.56zM124.22 203.75h1.56v1.56h-1.56zM126.58 203.75h1.56v1.56h-1.56zM128.94 203.77h1.56v1.56h-1.56zM131.30 203.78h1.56v1.56h-1.56zM133.66 203.79h1.56v1.56h-1.56zM136.02 203.81h1.56v1.56h-1.56zM138.38 203.83h1.56v1.56h-1.56zM140.74 203.85h1.56v1.56h-1.56zM143.10 203.88h1.56v1.56h-1.56zM145.46 203.90h1.56v1.56h-1.56zM147.82 203.93h1.56v1.56h-1.56zM150.18 203.96h1.56v1.56h-1.56zM152.54 203.99h1.56v1.56h-1.56zM154.90 204.02h1.56v1.56h-1.56zM157.26 204.06h1.56v1.56h-1.56zM159.62 204.10h1.56v1.56h-1.56zM161.98 204.13h1.56v1.56h-1.56zM164.34 204.17h1.56v1.56h-1.56zM166.70 204.21h1.56v1.56h-1.56zM169.06 204.26h1.56v1.56h-1.56zM171.42 204.30h1.56v1.56h-1.56zM173.78 204.34h1.56v1.56h-1.56zM176.14 204.39h1.56v1.56h-1.56zM178.50 208.00h1.56v1.56h-1.56zM180.86 211.28h1.56v1.56h-1.56zM180.15 211.94h1.56v1.56h-1.56zM183.22 224.40h1.56v1.56h-1.56zM185.58 223.42h1.56v1.56h-1.56zM187.94 223.42h1.56v1.56h-1.56zM183.22 205.70h1.56v1.56h-1.56zM189.59 185.70h1.56v1.56h-1.56zM180.86 216.20h1.56v1.56h-1.56zM185.58 214.56h1.56v1.56h-1.56z" fill="#9400d3"/>
<path d="M41.55 204.65h1.70v1.70h-1.70zM43.91 204.64h1.70v1.70h-1.70zM46.27 204.62h1.70v1.70h-1.70zM48.63 204.61h1.70v1.70h-1.70zM50.99 204.60h1.70v1.70h-1.70zM53.35 204.58h1.70v1.70h-1.70zM55.71 204.57h1.70v1.70h-1.70zM58.07 204.56h1.70v1.70h-1.70zM60.43 204.55h1.70v1.70h-1.70zM62.79 204.53h1.70v1.70h-1.70zM65.15 204.52h1.70v1.70h-1.70zM67.51 204.51h1.70v1.70h-1.70zM69.87 204.49h1.70v1.70h-1.70zM72.23 204.48h1.70v1.70h-1.70zM74.59 204.47h1.70v1.70h-1.70zM76.95 204.45h1.70v1.70h-1.70zM79.31 204.44h1.70v1.70h-1.70zM81.67 204.43h1.70v1.70h-1.70zM84.03 204.41h1.70v1.70h-1.70zM86.39 204.40h1.70v1.70h-1.70zM88.75 204.39h1.70v1.70h-1.70zM91.11 204.37h1.70v1.70h-1.70zM93.47 204.36h1.70v1.70h-1.70zM95.83 204.35h1.70v1.70h-1.70zM98.19 204.34h1.70v1.70h-1.70zM100.55 204.32h1.70v1.70h-1.70zM102.91 204.31h1.70v1.70h-1.70zM105.27 204.30h1.70v1.70h-1.70zM107.63 204.28h1.70v1.70h-1.70zM109.99 204.27h1.70v1.70h-1.70zM112.35 204.26h1.70v1.70h-1.70zM114.71 204.24h1.70v1.70h-1.70zM117.07 204.23h1.70v1.70h-1.70zM119.43 204.22h1.70v1.70h-1.70zM121.79 204.20h1.70v1.70h-1.70zM124.15 204.19h1.70v1.70h-1.70zM126.51 204.18h1.70v1.70h-1.70zM128.87 204.16h1.70v1.70h-1.70zM131.23 204.15h1.70v1.70h-1.70zM133.59 204.14h1.70v1.70h-1.70zM135.95 204.13h1.70v1.70h-1.70zM138.31 204.11h1.70v1.70h-1.70zM140.67 204.10h1.70v1.70h-1.70zM143.03 204.09h1.70v1.70h-1.70zM145.39 204.07h1.70v1.70h-1.70zM147.75 204.06h1.70v1.70h-1.70zM150.11 204.05h1.70v1.70h-1.70zM152.47 204.03h1.70v1.70h-1.70zM154.83 204.02h1.70v1.70h-1.70zM157.19 204.01h1.70v1.70h-1.70zM159.55 203.99h1.70v1.70h-1.70zM41.55 204.65h1.70v1.70h-1.70zM43.91 204.65h1.70v1.70h-1.70zM46.27 204.65h1.70v1.70h-1.70zM48.63 204.65h1.70v1.70h-1.70zM50.99 204.65h1.70v1.70h-1.70zM53.35 204.65h1.70v1.70h-1.70zM55.71 204.65h1.70v1.70h-1.70zM58.07 204.65h1.70v1.70h-1.70zM60.43 204.65h1.70v1.70h-1.70zM62.79 204.65h1.70v1.70h-1.70zM65.15 204.65h1.70v1.70h-1.70zM67.51 204.65h1.70v1.70h-1.70zM69.87 204.65h1.70v1.70h-1.70zM72.23 204.65h1.70v1.70h-1.70zM74.59 204.65h1.70v1.70h-1.70zM76.95 204.65h1.70v1.70h-1.70zM79.31 204.65h1.70v1.70h-1.70zM81.67 204.65h1.70v1.70h-1.70zM84.03 204.65h1.70v1.70h-1.70zM86.39 204.65h1.70v1.70h-1.70zM88.75 204.65h1.70v1.70h-1.70zM91.11 204.65h1.70v1.70h-1.70zM93.47 204.65h1.70v1.70h-1.70zM95.83 204.65h1.70v1.70h-1.70zM98.19 204.65h1.70v1.70h-1.70zM100.55 204.65h1.70v1.70h-1.70zM102.91 204.65h1.70v1.70h-1.70zM105.27 204.65h1.70v1.70h-1.70zM107.63 204.65h1.70v1.70h-1.70zM109.99 204.65h1.70v1.70h-1.70zM112.35 204.65h1.70v1.70h-1.70zM114.71 204.65h1.70v1.70h-1.70zM117.07 204.65h1.70v1.70h-1.70zM119.43 204.65h1.70v1.70h-1.70zM121.79 204.65h1.70v1.70h-1.70zM124.15 204.65h1.70v1.70h-1.70zM126.51 204.65h1.70v1.70h-1.70zM128.87 204.65h1.70v1.70h-1.70zM131.23 204.65h1.70v1.70h-1.70zM133.59 204.65h1.70v1.70h-1.70zM135.95 204.65h1.70v1.70h-1.70zM138.31 204.65h1.70v1.70h-1.70zM140.67 204.65h1.70v1.70h-1.70zM143.03 204.65h1.70v1.70h-1.70zM145.39 204.65h1.70v1.70h-1.70zM147.75 204.65h1.70v1.70h-1.70zM150.11 204.65h1.70v1.70h-1.70zM152.47 204.65h1.70v1.70h-1.70zM154.83 204.65h1.70v1.70h-1.70zM157.19 204.65h1.70v1.70h-1.70zM159.55 204.65h1.70v1.70h-1.70zM41.55 204.65h1.70v1.70h-1.70zM43.91 204.66h1.70v1.70h-1.70zM46.27 204.68h1.70v1.70h-1.70zM48.63 204.69h1.70v1.70h-1.70zM50.99 204.70h1.70v1.70h-1.70zM53.35 204.72h1.70v1.70h-1.70zM55.71 204.73h1.70v1.70h-1.70zM58.07 204.74h1.70v1.70h-1.70zM60.43 204.75h1.70v1.70h-1.70zM62.79 204.77h1.70v1.70h-1.70zM65.15 204.78h1.70v1.70h-1.70zM67.51 204.79h1.70v1.70h-1.70zM69.87 204.81h1.70v1.70h-1.70zM72.23 204.82h1.70v1.70h-1.70zM74.59 204.83h1.70v1.70h-1.70zM76.95 204.85h1.70v1.70h-1.70zM79.31 204.86h1.70v1.70h-1.70zM81.67 204.87h1.70v1.70h-1.70zM84.03 204.89h1.70v1.70h-1.70zM86.39 204.90h1.70v1.70h-1.70zM88.75 204.91h1.70v1.70h-1.70zM91.11 204.93h1.70v1.70h-1.70zM93.47 204.94h1.70v1.70h-1.70zM95.83 204.95h1.70v1.70h-1.70zM98.19 204.96h1.70v1.70h-1.70zM100.55 204.98h1.70v1.70h-1.70zM102.91 204.99h1.70v1.70h-1.70zM105.27 205.00h1.70v1.70h-1.70zM107.63 205.02h1.70v1.70h-1.70zM109.99 205.03h1.70v1.70h-1.70zM112.35 205.04h1.70v1.70h-1.70zM114.71 205.06h1.70v1.70h-1.70zM117.07 205.07h1.70v1.70h-1.70zM119.43 205.08h1.70v1.70h-1.70zM121.79 205.10h1.70v1.70h-1.70zM124.15 205.11h1.70v1.70h-1.70zM126.51 205.12h1.70v1.70h-1.70zM128.87 205.14h1.70v1.70h-1.70zM131.23 205.15h1.70v1.70h-1.70zM133.59 205.16h1.70v1.70h-1.70zM135.95 205.17h1.70v1.70h-1.70zM138.31 205.19h1.70v1.70h-1.70zM140.67 205.20h1.70v1.70h-1.70zM143.03 205.21h1.70v1.70h-1.70zM145.39 205.23h1.70v1.70h-1.70zM147.75 205.24h1.70v1.70h-1.70zM150.11 205.25h1.70v1.70h-1.70zM152.47 205.27h1.70v1.70h-1.70zM154.83 205.28h1.70v1.70h-1.70zM157.19 205.29h1.70v1.70h-1.70zM159.55 205.31h1.70v1.70h-1.70zM41.55 204.65h1.70v1.70h-1.70zM43.91 204.68h1.70v1.70h-1.70zM46.27 204.70h1.70v1.70h-1.70zM48.63 204.73h1.70v1.70h-1.70zM50.99 204.75h1.70v1.70h-1.70zM53.35 204.78h1.70v1.70h-1.70zM55.71 204.81h1.70v1.70h-1.70zM58.07 204.83h1.70v1.70h-1.70zM60.43 204.86h1.70v1.70h-1.70zM62.79 204.89h1.70v1.70h-1.70zM65.15 204.91h1.70v1.70h-1.70zM67.51 204.94h1.70v1.70h-1.70zM69.87 204.96h1.70v1.70h-1.70zM72.23 204.99h1.70v1.70h-1.70zM74.59 205.02h1.70v1.70h-1.70zM76.95 205.04h1.70v1.70h-1.70zM79.31 205.07h1.70v1.70h-1.70zM81.67 205.10h1.70v1.70h-1.70zM84.03 205.12h1.70v1.70h-1.70zM86.39 205.15h1.70v1.70h-1.70zM88.75 205.17h1.70v1.70h-1.70zM91.11 205.20h1.70v1.70h-1.70zM93.47 205.23h1.70v1.70h-1.70zM95.83 205.25h1.70v1.70h-1.70zM98.19 205.28h1.70v1.70h-1.70zM100.55 205.31h1.70v1.70h-1.70zM102.91 205.33h1.70v1.70h-1.70zM105.27 205.36h1.70v1.70h-1.70zM107.63 205.38h1.70v1.70h-1.70zM109.99 205.41h1.70v1.70h-1.70zM112.35 205.44h1.70v1.70h-1.70zM114.71 205.46h1.70v1.70h-1.70zM117.07 205.49h1.70v1.70h-1.70zM119.43 205.52h1.70v1.70h-1.70zM121.79 205.54h1.70v1.70h-1.70zM124.15 205.57h1.70v1.70h-1.70zM126.51 205.59h1.70v1.70h-1.70zM128.87 205.62h1.70v1.70h-1.70zM131.23 205.65h1.70v1.70h-1.70zM133.59 205.67h1.70v1.70h-1.70zM135.95 205.70h1.70v1.70h-1.70zM138.31 205.73h1.70v1.70h-1.70zM140.67 205.75h1.70v1.70h-1.70zM143.03 205.78h1.70v1.70h-1.70zM145.39 205.80h1.70v1.70h-1.70zM147.75 205.83h1.70v1.70h-1.70zM150.11 205.86h1.70v1.70h-1.70zM152.47 205.88h1.70v1.70h-1.70zM154.83 205.91h1.70v1.70h-1.70zM157.19 205.94h1.70v1.70h-1.70zM159.55 205.96h1.70v1.70h-1.70zM41.55 204.65h1.70v1.70h-1.70zM43.91 204.69h1.70v1.70h-1.70zM46.27 204.73h1.70v1.70h-1.70zM48.63 204.77h1.70v1.70h-1.70zM50.99 204.81h1.70v1.70h-1.70zM53.35 204.85h1.70v1.70h-1.70zM55.71 204.89h1.70v1.70h-1.70zM58.07 204.93h1.70v1.70h-1.70zM60.43 204.96h1.70v1.70h-1.70zM62.79 205.00h1.70v1.70h-1.70zM65.15 205.04h1.70v1.70h-1.70zM67.51 205.08h1.70v1.70h-1.70zM69.87 205.12h1.70v1.70h-1.70zM72.23 205.16h1.70v1.70h-1.70zM74.59 205.20h1.70v1.70h-1.70zM76.95 205.24h1.70v1.70h-1.70zM79.31 205.28h1.70v1.70h-1.70zM81.67 205.32h1.70v1.70h-1.70zM84.03 205.36h1.70v1.70h-1.70zM86.39 205.40h1.70v1.70h-1.70zM88.75 205.44h1.70v1.70h-1.70zM91.11 205.48h1.70v1.70h-1.70zM93.47 205.52h1.70v1.70h-1.70zM95.83 205.56h1.70v1.70h-1.70zM98.19 205.59h1.70v1.70h-1.70zM100.55 205.63h1.70v1.70h-1.70zM102.91 205.67h1.70v1.70h-1.70zM105.27 205.71h1.70v1.70h-1.70zM107.63 205.75h1.70v1.70h-1.70zM109.99 205.79h1.70v1.70h-1.70zM112.35 205.83h1.70v1.70h-1.70zM114.71 205.87h1.70v1.70h-1.70zM117.07 205.91h1.70v1.70h-1.70zM119.43 205.95h1.70v1.70h-1.70zM121.79 205.99h1.70v1.70h-1.70zM124.15 206.03h1.70v1.70h-1.70zM126.51 206.07h1.70v1.70h-1.70zM128.87 206.11h1.70v1.70h-1.70zM131.23 206.15h1.70v1.70h-1.70zM133.59 206.19h1.70v1.70h-1.70zM135.95 206.22h1.70v1.70h-1.70zM138.31 206.26h1.70v1.70h-1.70zM140.67 206.30h1.70v1.70h-1.70zM143.03 206.34h1.70v1.70h-1.70zM145.39 206.38h1.70v1.70h-1.70zM147.75 206.42h1.70v1.70h-1.70zM150.11 206.46h1.70v1.70h-1.70zM152.47 206.50h1.70v1.70h-1.70zM154.83 206.54h1.70v1.70h-1.70zM157.19 206.58h1.70v1.70h-1.70zM159.55 206.62h1.70v1.70h-1.70zM41.55 204.65h1.70v1.70h-1.70zM43.91 204.70h1.70v1.70h-1.70zM46.27 204.75h1.70v1.70h-1.70zM48.63 204.81h1.70v1.70h-1.70zM50.99 204.86h1.70v1.70h-1.70zM53.35 204.91h1.70v1.70h-1.70zM55.71 204.96h1.70v1.70h-1.70zM58.07 205.02h1.70v1.70h-1.70zM60.43 205.07h1.70v1.70h-1.70zM62.79 205.12h1.70v1.70h-1.70zM65.15 205.17h1.70v1.70h-1.70zM67.51 205.23h1.70v1.70h-1.70zM69.87 205.28h1.70v1.70h-1.70zM72.23 205.33h1.70v1.70h-1.70zM74.59 205.38h1.70v1.70h-1.70zM76.95 205.44h1.70v1.70h-1.70zM79.31 205.49h1.70v1.70h-1.70zM81.67 205.54h1.70v1.70h-1.70zM84.03 205.59h1.70v1.70h-1.70zM86.39 205.65h1.70v1.70h-1.70zM88.75 205.70h1.70v1.70h-1.70zM91.11 205.75h1.70v1.70h-1.70zM93.47 205.80h1.70v1.70h-1.70zM95.83 205.86h1.70v1.70h-1.70zM98.19 205.91h1.70v1.70h-1.70zM100.55 205.96h1.70v1.70h-1.70zM102.91 206.01h1.70v1.70h-1.70zM105.27 206.07h1.70v1.70h-1.70zM107.63 206.12h1.70v1.70h-1.70zM109.99 206.17h1.70v1.70h-1.70zM112.35 206.22h1.70v1.70h-1.70zM114.71 206.28h1.70v1.70h-1.70zM117.07 206.33h1.70v1.70h-1.70zM119.43 206.38h1.70v1.70h-1.70zM121.79 206.43h1.70v1.70h-1.70zM124.15 206.49h1.70v1.70h-1.70zM126.51 206.54h1.70v1.70h-1.70zM128.87 206.59h1.70v1.70h-1.70zM131.23 206.64h1.70v1.70h-1.70zM133.59 206.70h1.70v1.70h-1.70zM135.95 206.75h1.70v1.70h-1.70zM138.31 206.80h1.70v1.70h-1.70zM140.67 206.85h1.70v1.70h-1.70zM143.03 206.91h1.70v1.70h-1.70zM145.39 206.96h1.70v1.70h-1.70zM147.75 207.01h1.70v1.70h-1.70zM150.11 207.06h1.70v1.70h-1.70zM152.47 207.12h1.70v1.70h-1.70zM154.83 207.17h1.70v1.70h-1.70zM157.19 207.22h1.70v1.70h-1.70zM159.55 207.27h1.70v1.70h-1.70zM41.55 204.65h1.70v1.70h-1.70zM43.91 204.72h1.70v1.70h-1.70zM46.27 204.78h1.70v1.70h-1.70zM48.63 204.85h1.70v1.70h-1.70zM50.99 204.91h1.70v1.70h-1.70zM53.35 204.98h1.70v1.70h-1.70zM55.71 205.04h1.70v1.70h-1.70zM58.07 205.11h1.70v1.70h-1.70zM60.43 205.17h1.70v1.70h-1.70zM62.79 205.24h1.70v1.70h-1.70zM65.15 205.31h1.70v1.70h-1.70zM67.51 205.37h1.70v1.70h-1.70zM69.87 205.44h1.70v1.70h-1.70zM72.23 205.50h1.70v1.70h-1.70zM74.59 205.57h1.70v1.70h-1.70zM76.95 205.63h1.70v1.70h-1.70zM79.31 205.70h1.70v1.70h-1.70zM81.67 205.77h1.70v1.70h-1.70zM84.03 205.83h1.70v1.70h-1.70zM86.39 205.90h1.70v1.70h-1.70zM88.75 205.96h1.70v1.70h-1.70zM91.11 206.03h1.70v1.70h-1.70zM93.47 206.09h1.70v1.70h-1.70zM95.83 206.16h1.70v1.70h-1.70zM98.19 206.22h1.70v1.70h-1.70zM100.55 206.29h1.70v1.70h-1.70zM102.91 206.36h1.70v1.70h-1.70zM105.27 206.42h1.70v1.70h-1.70zM107.63 206.49h1.70v1.70h-1.70zM109.99 206.55h1.70v1.70h-1.70zM112.35 206.62h1.70v1.70h-1.70zM114.71 206.68h1.70v1.70h-1.70zM117.07 206.75h1.70v1.70h-1.70zM119.43 206.81h1.70v1.70h-1.70zM121.79 206.88h1.70v1.70h-1.70zM124.15 206.95h1.70v1.70h-1.70zM126.51 207.01h1.70v1.70h-1.70zM128.87 207.08h1.70v1.70h-1.70zM131.23 207.14h1.70v1.70h-1.70zM133.59 207.21h1.70v1.70h-1.70zM135.95 207.27h1.70v1.70h-1.70zM138.31 207.34h1.70v1.70h-1.70zM140.67 207.41h1.70v1.70h-1.70zM143.03 207.47h1.70v1.70h-1.70zM145.39 207.54h1.70v1.70h-1.70zM147.75 207.60h1.70v1.70h-1.70zM150.11 207.67h1.70v1.70h-1.70zM152.47 207.73h1.70v1.70h-1.70zM154.83 207.80h1.70v1.70h-1.70zM157.19 207.86h1.70v1.70h-1.70zM159.55 207.93h1.70v1.70h-1.70zM41.55 204.65h1.70v1.70h-1.70zM43.91 204.74h1.70v1.70h-1.70zM46.27 204.82h1.70v1.70h-1.70zM48.63 204.91h1.70v1.70h-1.70zM50.99 204.99h1.70v1.70h-1.70zM53.35 205.08h1.70v1.70h-1.70zM55.71 205.16h1.70v1.70h-1.70zM58.07 205.25h1.70v1.70h-1.70zM60.43 205.33h1.70v1.70h-1.70zM62.79 205.42h1.70v1.70h-1.70zM65.15 205.50h1.70v1.70h-1.70zM67.51 205.59h1.70v1.70h-1.70zM69.87 205.67h1.70v1.70h-1.70zM72.23 205.76h1.70v1.70h-1.70zM74.59 205.84h1.70v1.70h-1.70zM76.95 205.93h1.70v1.70h-1.70zM79.31 206.01h1.70v1.70h-1.70zM81.67 206.10h1.70v1.70h-1.70zM84.03 206.19h1.70v1.70h-1.70zM86.39 206.27h1.70v1.70h-1.70zM88.75 206.36h1.70v1.70h-1.70zM91.11 206.44h1.70v1.70h-1.70zM93.47 206.53h1.70v1.70h-1.70zM95.83 206.61h1.70v1.70h-1.70zM98.19 206.70h1.70v1.70h-1.70zM100.55 206.78h1.70v1.70h-1.70zM102.91 206.87h1.70v1.70h-1.70zM105.27 206.95h1.70v1.70h-1.70zM107.63 207.04h1.70v1.70h-1.70zM109.99 207.12h1.70v1.70h-1.70zM112.35 207.21h1.70v1.70h-1.70zM114.71 207.29h1.70v1.70h-1.70zM117.07 207.38h1.70v1.70h-1.70zM119.43 207.46h1.70v1.70h-1.70zM121.79 207.55h1.70v1.70h-1.70zM124.15 207.63h1.70v1.70h-1.70zM126.51 207.72h1.70v1.70h-1.70zM128.87 207.81h1.70v1.70h-1.70zM131.23 207.89h1.70v1.70h-1.70zM133.59 207.98h1.70v1.70h-1.70zM135.95 208.06h1.70v1.70h-1.70zM138.31 208.15h1.70v1.70h-1.70zM140.67 208.23h1.70v1.70h-1.70zM143.03 208.32h1.70v1.70h-1.70zM145.39 208.40h1.70v1.70h-1.70zM147.75 208.49h1.70v1.70h-1.70zM150.11 208.57h1.70v1.70h-1.70zM152.47 208.66h1.70v1.70h-1.70zM154.83 208.74h1.70v1.70h-1.70zM157.19 208.83h1.70v1.70h-1.70zM159.55 208.91h1.70v1.70h-1.70zM41.55 204.65h1.70v1.70h-1.70zM43.91 204.75h1.70v1.70h-1.70zM46.27 204.86h1.70v1.70h-1.70zM48.63 204.96h1.70v1.70h-1.70zM50.99 205.07h1.70v1.70h-1.70zM53.35 205.17h1.70v1.70h-1.70zM55.71 205.28h1.70v1.70h-1.70zM58.07 205.38h1.70v1.70h-1.70zM60.43 205.49h1.70v1.70h-1.70zM62.79 205.59h1.70v1.70h-1.70zM65.15 205.70h1.70v1.70h-1.70zM67.51 205.80h1.70v1.70h-1.70zM69.87 205.91h1.70v1.70h-1.70zM72.23 206.01h1.70v1.70h-1.70zM74.59 206.12h1.70v1.70h-1.70zM76.95 206.22h1.70v1.70h-1.70zM79.31 206.33h1.70v1.70h-1.70zM81.67 206.43h1.70v1.70h-1.70zM84.03 206.54h1.70v1.70h-1.70zM86.39 206.64h1.70v1.70h-1.70zM88.75 206.75h1.70v1.70h-1.70zM91.11 206.85h1.70v1.70h-1.70zM93.47 206.96h1.70v1.70h-1.70zM95.83 207.06h1.70v1.70h-1.70zM98.19 207.17h1.70v1.70h-1.70zM100.55 207.27h1.70v1.70h-1.70zM102.91 207.38h1.70v1.70h-1.70zM105.27 207.48h1.70v1.70h-1.70zM107.63 207.59h1.70v1.70h-1.70zM109.99 207.69h1.70v1.70h-1.70zM112.35 207.80h1.70v1.70h-1.70zM114.71 207.90h1.70v1.70h-1.70zM117.07 208.01h1.70v1.70h-1.70zM119.43 208.11h1.70v1.70h-1.70zM121.79 208.22h1.70v1.70h-1.70zM124.15 208.32h1.70v1.70h-1.70zM126.51 208.43h1.70v1.70h-1.70zM128.87 208.53h1.70v1.70h-1.70zM131.23 208.64h1.70v1.70h-1.70zM133.59 208.74h1.70v1.70h-1.70zM135.95 208.85h1.70v1.70h-1.70zM138.31 208.95h1.70v1.70h-1.70zM140.67 209.06h1.70v1.70h-1.70zM143.03 209.16h1.70v1.70h-1.70zM145.39 209.27h1.70v1.70h-1.70zM147.75 209.37h1.70v1.70h-1.70zM150.11 209.48h1.70v1.70h-1.70zM152.47 209.58h1.70v1.70h-1.70zM154.83 209.69h1.70v1.70h-1.70zM157.19 209.79h1.70v1.70h-1.70zM159.55 209.90h1.70v1.70h-1.70zM41.55 204.65h1.70v1.70h-1.70zM43.91 204.78h1.70v1.70h-1.70zM46.27 204.91h1.70v1.70h-1.70zM48.63 205.04h1.70v1.70h-1.70zM50.99 205.17h1.70v1.70h-1.70zM53.35 205.31h1.70v1.70h-1.70zM55.71 205.44h1.70v1.70h-1.70zM58.07 205.57h1.70v1.70h-1.70zM60.43 205.70h1.70v1.70h-1.70zM62.79 205.83h1.70v1.70h-1.70zM65.15 205.96h1.70v1.70h-1.70zM67.51 206.09h1.70v1.70h-1.70zM69.87 206.22h1.70v1.70h-1.70zM72.23 206.36h1.70v1.70h-1.70zM74.59 206.49h1.70v1.70h-1.70zM76.95 206.62h1.70v1.70h-1.70zM79.31 206.75h1.70v1.70h-1.70zM81.67 206.88h1.70v1.70h-1.70zM84.03 207.01h1.70v1.70h-1.70zM86.39 207.14h1.70v1.70h-1.70zM88.75 207.27h1.70v1.70h-1.70zM91.11 207.41h1.70v1.70h-1.70zM93.47 207.54h1.70v1.70h-1.70zM95.83 207.67h1.70v1.70h-1.70zM98.19 207.80h1.70v1.70h-1.70zM100.55 207.93h1.70v1.70h-1.70zM102.91 208.06h1.70v1.70h-1.70zM105.27 208.19h1.70v1.70h-1.70zM107.63 208.32h1.70v1.70h-1.70zM109.99 208.45h1.70v1.70h-1.70zM112.35 208.59h1.70v1.70h-1.70zM114.71 208.72h1.70v1.70h-1.70zM117.07 208.85h1.70v1.70h-1.70zM119.43 208.98h1.70v1.70h-1.70zM121.79 209.11h1.70v1.70h-1.70zM124.15 209.24h1.70v1.70h-1.70zM126.51 209.37h1.70v1.70h-1.70zM128.87 209.50h1.70v1.70h-1.70zM131.23 209.64h1.70v1.70h-1.70zM133.59 209.77h1.70v1.70h-1.70zM135.95 209.90h1.70v1.70h-1.70zM138.31 210.03h1.70v1.70h-1.70zM140.67 210.16h1.70v1.70h-1.70zM143.03 210.29h1.70v1.70h-1.70zM145.39 210.42h1.70v1.70h-1.70zM147.75 210.55h1.70v1.70h-1.70zM150.11 210.69h1.70v1.70h-1.70zM152.47 210.82h1.70v1.70h-1.70zM154.83 210.95h1.70v1.70h-1.70zM157.19 211.08h1.70v1.70h-1.70zM159.55 211.21h1.70v1.70h-1.70zM161.91 213.55h1.70v1.70h-1.70zM164.27 216.36h1.70v1.70h-1.70zM166.63 216.75h1.70v1.70h-1.70zM168.99 221.56h1.70v1.70h-1.70zM171.35 222.40h1.70v1.70h-1.70zM173.71 225.84h1.70v1.70h-1.70zM176.07 229.91h1.70v1.70h-1.70zM178.43 231.09h1.70v1.70h-1.70zM180.79 235.97h1.70v1.70h-1.70zM183.15 237.50h1.70v1.70h-1.70zM185.51 242.08h1.70v1.70h-1.70zM187.87 245.21h1.70v1.70h-1.70zM190.23 247.17h1.70v1.70h-1.70zM192.59 248.90h1.70v1.70h-1.70zM194.95 255.03h1.70v1.70h-1.70zM197.31 258.05h1.70v1.70h-1.70zM199.67 259.91h1.70v1.70h-1.70zM161.91 210.44h1.70v1.70h-1.70zM164.27 214.04h1.70v1.70h-1.70zM166.63 217.12h1.70v1.70h-1.70zM161.91 209.55h1.70v1.70h-1.70zM164.27 215.20h1.70v1.70h-1.70zM166.63 214.21h1.70v1.70h-1.70zM168.99 218.80h1.70v1.70h-1.70zM171.35 221.86h1.70v1.70h-1.70zM173.71 224.54h1.70v1.70h-1.70zM176.07 226.46h1.70v1.70h-1.70zM178.43 227.21h1.70v1.70h-1.70zM180.79 232.53h1.70v1.70h-1.70zM183.15 233.84h1.70v1.70h-1.70zM185.51 236.55h1.70v1.70h-1.70zM187.87 240.59h1.70v1.70h-1.70zM190.23 242.95h1.70v1.70h-1.70zM192.59 247.95h1.70v1.70h-1.70zM194.95 251.09h1.70v1.70h-1.70zM197.31 253.70h1.70v1.70h-1.70zM161.91 209.94h1.70v1.70h-1.70zM164.27 212.77h1.70v1.70h-1.70zM166.63 215.25h1.70v1.70h-1.70zM161.91 209.65h1.70v1.70h-1.70zM164.27 211.99h1.70v1.70h-1.70zM166.63 214.60h1.70v1.70h-1.70zM168.99 214.81h1.70v1.70h-1.70zM171.35 217.46h1.70v1.70h-1.70zM173.71 221.61h1.70v1.70h-1.70zM176.07 222.75h1.70v1.70h-1.70zM178.43 225.46h1.70v1.70h-1.70zM180.79 226.66h1.70v1.70h-1.70zM183.15 229.86h1.70v1.70h-1.70zM185.51 234.29h1.70v1.70h-1.70zM187.87 234.30h1.70v1.70h-1.70zM190.23 240.48h1.70v1.70h-1.70zM192.59 242.12h1.70v1.70h-1.70zM194.95 243.65h1.70v1.70h-1.70zM161.91 210.68h1.70v1.70h-1.70zM164.27 211.15h1.70v1.70h-1.70zM166.63 214.91h1.70v1.70h-1.70zM168.99 214.56h1.70v1.70h-1.70zM171.35 216.42h1.70v1.70h-1.70zM173.71 219.51h1.70v1.70h-1.70zM176.07 220.73h1.70v1.70h-1.70zM178.43 225.42h1.70v1.70h-1.70zM180.79 226.46h1.70v1.70h-1.70zM183.15 229.46h1.70v1.70h-1.70zM185.51 232.17h1.70v1.70h-1.70zM187.87 235.36h1.70v1.70h-1.70zM190.23 236.60h1.70v1.70h-1.70zM192.59 238.98h1.70v1.70h-1.70zM161.91 208.62h1.70v1.70h-1.70zM164.27 209.49h1.70v1.70h-1.70zM166.63 213.65h1.70v1.70h-1.70zM161.91 206.93h1.70v1.70h-1.70zM164.27 208.58h1.70v1.70h-1.70zM166.63 208.81h1.70v1.70h-1.70zM168.99 211.19h1.70v1.70h-1.70zM171.35 215.09h1.70v1.70h-1.70zM173.71 216.56h1.70v1.70h-1.70zM176.07 217.38h1.70v1.70h-1.70zM178.43 221.90h1.70v1.70h-1.70zM180.79 222.21h1.70v1.70h-1.70zM183.15 225.45h1.70v1.70h-1.70zM185.51 227.77h1.70v1.70h-1.70zM187.87 230.16h1.70v1.70h-1.70zM190.23 229.57h1.70v1.70h-1.70zM192.59 234.32h1.70v1.70h-1.70zM161.91 208.01h1.70v1.70h-1.70zM164.27 208.82h1.70v1.70h-1.70zM166.63 208.45h1.70v1.70h-1.70zM161.91 207.95h1.70v1.70h-1.70zM164.27 207.80h1.70v1.70h-1.70zM166.63 208.84h1.70v1.70h-1.70zM168.99 209.06h1.70v1.70h-1.70zM171.35 210.93h1.70v1.70h-1.70zM173.71 212.44h1.70v1.70h-1.70zM176.07 216.48h1.70v1.70h-1.70zM178.43 217.74h1.70v1.70h-1.70zM180.79 219.80h1.70v1.70h-1.70zM183.15 219.61h1.70v1.70h-1.70zM185.51 221.23h1.70v1.70h-1.70zM187.87 226.36h1.70v1.70h-1.70zM209.58 183.62h1.70v1.70h-1.70zM207.22 241.79h1.70v1.70h-1.70zM200.38 217.18h1.70v1.70h-1.70zM190.23 213.89h1.70v1.70h-1.70zM204.39 255.80h1.70v1.70h-1.70z" fill="#009e73"/>
<path d="M41.55 204.65h1.70v1.70h-1.70zM43.91 204.94h1.70v1.70h-1.70zM46.27 205.23h1.70v1.70h-1.70zM48.63 205.52h1.70v1.70h-1.70zM50.99 205.82h1.70v1.70h-1.70zM53.35 206.11h1.70v1.70h-1.70zM55.71 206.40h1.70v1.70h-1.70zM58.07 206.69h1.70v1.70h-1.70zM60.43 206.98h1.70v1.70h-1.70zM62.79 207.27h1.70v1.70h-1.70zM65.15 207.57h1.70v1.70h-1.70zM67.51 207.86h1.70v1.70h-1.70zM69.87 208.15h1.70v1.70h-1.70zM72.23 208.44h1.70v1.70h-1.70zM74.59 208.73h1.70v1.70h-1.70zM76.95 209.02h1.70v1.70h-1.70zM79.31 209.31h1.70v1.70h-1.70zM81.67 209.61h1.70v1.70h-1.70zM84.03 209.90h1.70v1.70h-1.70zM86.39 210.19h1.70v1.70h-1.70zM88.75 210.48h1.70v1.70h-1.70zM91.11 210.77h1.70v1.70h-1.70zM93.47 211.06h1.70v1.70h-1.70zM95.83 211.36h1.70v1.70h-1.70zM98.19 211.65h1.70v1.70h-1.70zM100.55 211.94h1.70v1.70h-1.70zM102.91 212.23h1.70v1.70h-1.70zM105.27 212.52h1.70v1.70h-1.70zM107.63 212.81h1.70v1.70h-1.70zM109.99 213.11h1.70v1.70h-1.70zM112.35 213.40h1.70v1.70h-1.70zM114.71 213.69h1.70v1.70h-1.70zM117.07 213.98h1.70v1.70h-1.70zM119.43 214.27h1.70v1.70h-1.70zM121.79 214.56h1.70v1.70h-1.70zM124.15 214.85h1.70v1.70h-1.70zM126.51 215.15h1.70v1.70h-1.70zM128.87 215.44h1.70v1.70h-1.70zM131.23 215.73h1.70v1.70h-1.70zM133.59 216.02h1.70v1.70h-1.70zM135.95 216.31h1.70v1.70h-1.70zM138.31 216.60h1.70v1.70h-1.70zM140.67 216.90h1.70v1.70h-1.70zM143.03 217.19h1.70v1.70h-1.70zM145.39 217.48h1.70v1.70h-1.70zM147.75 217.77h1.70v1.70h-1.70zM41.55 204.65h1.70v1.70h-1.70zM43.91 204.91h1.70v1.70h-1.70zM46.27 205.17h1.70v1.70h-1.70zM48.63 205.44h1.70v1.70h-1.70zM50.99 205.70h1.70v1.70h-1.70zM53.35 205.96h1.70v1.70h-1.70zM55.71 206.22h1.70v1.70h-1.70zM58.07 206.49h1.70v1.70h-1.70zM60.43 206.75h1.70v1.70h-1.70zM62.79 207.01h1.70v1.70h-1.70zM65.15 207.27h1.70v1.70h-1.70zM67.51 207.54h1.70v1.70h-1.70zM69.87 207.80h1.70v1.70h-1.70zM72.23 208.06h1.70v1.70h-1.70zM74.59 208.32h1.70v1.70h-1.70zM76.95 208.59h1.70v1.70h-1.70zM79.31 208.85h1.70v1.70h-1.70zM81.67 209.11h1.70v1.70h-1.70zM84.03 209.37h1.70v1.70h-1.70zM86.39 209.64h1.70v1.70h-1.70zM88.75 209.90h1.70v1.70h-1.70zM91.11 210.16h1.70v1.70h-1.70zM93.47 210.42h1.70v1.70h-1.70zM95.83 210.69h1.70v1.70h-1.70zM98.19 210.95h1.70v1.70h-1.70zM100.55 211.21h1.70v1.70h-1.70zM102.91 211.47h1.70v1.70h-1.70zM105.27 211.73h1.70v1.70h-1.70zM107.63 212.00h1.70v1.70h-1.70zM109.99 212.26h1.70v1.70h-1.70zM112.35 212.52h1.70v1.70h-1.70zM114.71 212.78h1.70v1.70h-1.70zM117.07 213.05h1.70v1.70h-1.70zM119.43 213.31h1.70v1.70h-1.70zM121.79 213.57h1.70v1.70h-1.70zM124.15 213.83h1.70v1.70h-1.70zM126.51 214.10h1.70v1.70h-1.70zM128.87 214.36h1.70v1.70h-1.70zM131.23 214.62h1.70v1.70h-1.70zM133.59 214.88h1.70v1.70h-1.70zM135.95 215.15h1.70v1.70h-1.70zM138.31 215.41h1.70v1.70h-1.70zM140.67 215.67h1.70v1.70h-1.70zM143.03 215.93h1.70v1.70h-1.70zM145.39 216.20h1.70v1.70h-1.70zM147.75 216.46h1.70v1.70h-1.70zM41.55 204.65h1.70v1.70h-1.70zM43.91 204.88h1.70v1.70h-1.70zM46.27 205.12h1.70v1.70h-1.70zM48.63 205.35h1.70v1.70h-1.70zM50.99 205.58h1.70v1.70h-1.70zM53.35 205.82h1.70v1.70h-1.70zM55.71 206.05h1.70v1.70h-1.70zM58.07 206.28h1.70v1.70h-1.70zM60.43 206.52h1.70v1.70h-1.70zM62.79 206.75h1.70v1.70h-1.70zM65.15 206.98h1.70v1.70h-1.70zM67.51 207.22h1.70v1.70h-1.70zM69.87 207.45h1.70v1.70h-1.70zM72.23 207.68h1.70v1.70h-1.70zM74.59 207.92h1.70v1.70h-1.70zM76.95 208.15h1.70v1.70h-1.70zM79.31 208.38h1.70v1.70h-1.70zM81.67 208.62h1.70v1.70h-1.70zM84.03 208.85h1.70v1.70h-1.70zM86.39 209.08h1.70v1.70h-1.70zM88.75 209.31h1.70v1.70h-1.70zM91.11 209.55h1.70v1.70h-1.70zM93.47 209.78h1.70v1.70h-1.70zM95.83 210.01h1.70v1.70h-1.70zM98.19 210.25h1.70v1.70h-1.70zM100.55 210.48h1.70v1.70h-1.70zM102.91 210.71h1.70v1.70h-1.70zM105.27 210.95h1.70v1.70h-1.70zM107.63 211.18h1.70v1.70h-1.70zM109.99 211.41h1.70v1.70h-1.70zM112.35 211.65h1.70v1.70h-1.70zM114.71 211.88h1.70v1.70h-1.70zM117.07 212.11h1.70v1.70h-1.70zM119.43 212.35h1.70v1.70h-1.70zM121.79 212.58h1.70v1.70h-1.70zM124.15 212.81h1.70v1.70h-1.70zM126.51 213.05h1.70v1.70h-1.70zM128.87 213.28h1.70v1.70h-1.70zM131.23 213.51h1.70v1.70h-1.70zM133.59 213.75h1.70v1.70h-1.70zM135.95 213.98h1.70v1.70h-1.70zM138.31 214.21h1.70v1.70h-1.70zM140.67 214.45h1.70v1.70h-1.70zM143.03 214.68h1.70v1.70h-1.70zM145.39 214.91h1.70v1.70h-1.70zM147.75 215.15h1.70v1.70h-1.70zM41.55 204.65h1.70v1.70h-1.70zM43.91 204.85h1.70v1.70h-1.70zM46.27 205.06h1.70v1.70h-1.70zM48.63 205.26h1.70v1.70h-1.70zM50.99 205.47h1.70v1.70h-1.70zM53.35 205.67h1.70v1.70h-1.70zM55.71 205.87h1.70v1.70h-1.70zM58.07 206.08h1.70v1.70h-1.70zM60.43 206.28h1.70v1.70h-1.70zM62.79 206.49h1.70v1.70h-1.70zM65.15 206.69h1.70v1.70h-1.70zM67.51 206.89h1.70v1.70h-1.70zM69.87 207.10h1.70v1.70h-1.70zM72.23 207.30h1.70v1.70h-1.70zM74.59 207.51h1.70v1.70h-1.70zM76.95 207.71h1.70v1.70h-1.70zM79.31 207.92h1.70v1.70h-1.70zM81.67 208.12h1.70v1.70h-1.70zM84.03 208.32h1.70v1.70h-1.70zM86.39 208.53h1.70v1.70h-1.70zM88.75 208.73h1.70v1.70h-1.70zM91.11 208.94h1.70v1.70h-1.70zM93.47 209.14h1.70v1.70h-1.70zM95.83 209.34h1.70v1.70h-1.70zM98.19 209.55h1.70v1.70h-1.70zM100.55 209.75h1.70v1.70h-1.70zM102.91 209.96h1.70v1.70h-1.70zM105.27 210.16h1.70v1.70h-1.70zM107.63 210.36h1.70v1.70h-1.70zM109.99 210.57h1.70v1.70h-1.70zM112.35 210.77h1.70v1.70h-1.70zM114.71 210.98h1.70v1.70h-1.70zM117.07 211.18h1.70v1.70h-1.70zM119.43 211.38h1.70v1.70h-1.70zM121.79 211.59h1.70v1.70h-1.70zM124.15 211.79h1.70v1.70h-1.70zM126.51 212.00h1.70v1.70h-1.70zM128.87 212.20h1.70v1.70h-1.70zM131.23 212.41h1.70v1.70h-1.70zM133.59 212.61h1.70v1.70h-1.70zM135.95 212.81h1.70v1.70h-1.70zM138.31 213.02h1.70v1.70h-1.70zM140.67 213.22h1.70v1.70h-1.70zM143.03 213.43h1.70v1.70h-1.70zM145.39 213.63h1.70v1.70h-1.70zM147.75 213.83h1.70v1.70h-1.70zM41.55 204.65h1.70v1.70h-1.70zM43.91 204.82h1.70v1.70h-1.70zM46.27 205.00h1.70v1.70h-1.70zM48.63 205.17h1.70v1.70h-1.70zM50.99 205.35h1.70v1.70h-1.70zM53.35 205.52h1.70v1.70h-1.70zM55.71 205.70h1.70v1.70h-1.70zM58.07 205.87h1.70v1.70h-1.70zM60.43 206.05h1.70v1.70h-1.70zM62.79 206.22h1.70v1.70h-1.70zM65.15 206.40h1.70v1.70h-1.70zM67.51 206.57h1.70v1.70h-1.70zM69.87 206.75h1.70v1.70h-1.70zM72.23 206.92h1.70v1.70h-1.70zM74.59 207.10h1.70v1.70h-1.70zM76.95 207.27h1.70v1.70h-1.70zM79.31 207.45h1.70v1.70h-1.70zM81.67 207.62h1.70v1.70h-1.70zM84.03 207.80h1.70v1.70h-1.70zM86.39 207.97h1.70v1.70h-1.70zM88.75 208.15h1.70v1.70h-1.70zM91.11 208.32h1.70v1.70h-1.70zM93.47 208.50h1.70v1.70h-1.70zM95.83 208.67h1.70v1.70h-1.70zM98.19 208.85h1.70v1.70h-1.70zM100.55 209.02h1.70v1.70h-1.70zM102.91 209.20h1.70v1.70h-1.70zM105.27 209.37h1.70v1.70h-1.70zM107.63 209.55h1.70v1.70h-1.70zM109.99 209.72h1.70v1.70h-1.70zM112.35 209.90h1.70v1.70h-1.70zM114.71 210.07h1.70v1.70h-1.70zM117.07 210.25h1.70v1.70h-1.70zM119.43 210.42h1.70v1.70h-1.70zM121.79 210.60h1.70v1.70h-1.70zM124.15 210.77h1.70v1.70h-1.70zM126.51 210.95h1.70v1.70h-1.70zM128.87 211.12h1.70v1.70h-1.70zM131.23 211.30h1.70v1.70h-1.70zM133.59 211.47h1.70v1.70h-1.70zM135.95 211.65h1.70v1.70h-1.70zM138.31 211.82h1.70v1.70h-1.70zM140.67 212.00h1.70v1.70h-1.70zM143.03 212.17h1.70v1.70h-1.70zM145.39 212.35h1.70v1.70h-1.70zM147.75 212.52h1.70v1.70h-1.70zM41.55 204.65h1.70v1.70h-1.70zM43.91 204.80h1.70v1.70h-1.70zM46.27 204.94h1.70v1.70h-1.70zM48.63 205.09h1.70v1.70h-1.70zM50.99 205.23h1.70v1.70h-1.70zM53.35 205.38h1.70v1.70h-1.70zM55.71 205.52h1.70v1.70h-1.70zM58.07 205.67h1.70v1.70h-1.70zM60.43 205.82h1.70v1.70h-1.70zM62.79 205.96h1.70v1.70h-1.70zM65.15 206.11h1.70v1.70h-1.70zM67.51 206.25h1.70v1.70h-1.70zM69.87 206.40h1.70v1.70h-1.70zM72.23 206.55h1.70v1.70h-1.70zM74.59 206.69h1.70v1.70h-1.70zM76.95 206.84h1.70v1.70h-1.70zM79.31 206.98h1.70v1.70h-1.70zM81.67 207.13h1.70v1.70h-1.70zM84.03 207.27h1.70v1.70h-1.70zM86.39 207.42h1.70v1.70h-1.70zM88.75 207.57h1.70v1.70h-1.70zM91.11 207.71h1.70v1.70h-1.70zM93.47 207.86h1.70v1.70h-1.70zM95.83 208.00h1.70v1.70h-1.70zM98.19 208.15h1.70v1.70h-1.70zM100.55 208.29h1.70v1.70h-1.70zM102.91 208.44h1.70v1.70h-1.70zM105.27 208.59h1.70v1.70h-1.70zM107.63 208.73h1.70v1.70h-1.70zM109.99 208.88h1.70v1.70h-1.70zM112.35 209.02h1.70v1.70h-1.70zM114.71 209.17h1.70v1.70h-1.70zM117.07 209.31h1.70v1.70h-1.70zM119.43 209.46h1.70v1.70h-1.70zM121.79 209.61h1.70v1.70h-1.70zM124.15 209.75h1.70v1.70h-1.70zM126.51 209.90h1.70v1.70h-1.70zM128.87 210.04h1.70v1.70h-1.70zM131.23 210.19h1.70v1.70h-1.70zM133.59 210.34h1.70v1.70h-1.70zM135.95 210.48h1.70v1.70h-1.70zM138.31 210.63h1.70v1.70h-1.70zM140.67 210.77h1.70v1.70h-1.70zM143.03 210.92h1.70v1.70h-1.70zM145.39 211.06h1.70v1.70h-1.70zM147.75 211.21h1.70v1.70h-1.70zM41.55 204.65h1.70v1.70h-1.70zM43.91 204.77h1.70v1.70h-1.70zM46.27 204.88h1.70v1.70h-1.70zM48.63 205.00h1.70v1.70h-1.70zM50.99 205.12h1.70v1.70h-1.70zM53.35 205.23h1.70v1.70h-1.70zM55.71 205.35h1.70v1.70h-1.70zM58.07 205.47h1.70v1.70h-1.70zM60.43 205.58h1.70v1.70h-1.70zM62.79 205.70h1.70v1.70h-1.70zM65.15 205.82h1.70v1.70h-1.70zM67.51 205.93h1.70v1.70h-1.70zM69.87 206.05h1.70v1.70h-1.70zM72.23 206.17h1.70v1.70h-1.70zM74.59 206.28h1.70v1.70h-1.70zM76.95 206.40h1.70v1.70h-1.70zM79.31 206.52h1.70v1.70h-1.70zM81.67 206.63h1.70v1.70h-1.70zM84.03 206.75h1.70v1.70h-1.70zM86.39 206.87h1.70v1.70h-1.70zM88.75 206.98h1.70v1.70h-1.70zM91.11 207.10h1.70v1.70h-1.70zM93.47 207.22h1.70v1.70h-1.70zM95.83 207.33h1.70v1.70h-1.70zM98.19 207.45h1.70v1.70h-1.70zM100.55 207.57h1.70v1.70h-1.70zM102.91 207.68h1.70v1.70h-1.70zM105.27 207.80h1.70v1.70h-1.70zM107.63 207.92h1.70v1.70h-1.70zM109.99 208.03h1.70v1.70h-1.70zM112.35 208.15h1.70v1.70h-1.70zM114.71 208.27h1.70v1.70h-1.70zM117.07 208.38h1.70v1.70h-1.70zM119.43 208.50h1.70v1.70h-1.70zM121.79 208.62h1.70v1.70h-1.70zM124.15 208.73h1.70v1.70h-1.70zM126.51 208.85h1.70v1.70h-1.70zM128.87 208.97h1.70v1.70h-1.70zM131.23 209.08h1.70v1.70h-1.70zM133.59 209.20h1.70v1.70h-1.70zM135.95 209.31h1.70v1.70h-1.70zM138.31 209.43h1.70v1.70h-1.70zM140.67 209.55h1.70v1.70h-1.70zM143.03 209.66h1.70v1.70h-1.70zM145.39 209.78h1.70v1.70h-1.70zM147.75 209.90h1.70v1.70h-1.70zM41.55 204.65h1.70v1.70h-1.70zM43.91 204.74h1.70v1.70h-1.70zM46.27 204.82h1.70v1.70h-1.70zM48.63 204.91h1.70v1.70h-1.70zM50.99 205.00h1.70v1.70h-1.70zM53.35 205.09h1.70v1.70h-1.70zM55.71 205.17h1.70v1.70h-1.70zM58.07 205.26h1.70v1.70h-1.70zM60.43 205.35h1.70v1.70h-1.70zM62.79 205.44h1.70v1.70h-1.70zM65.15 205.52h1.70v1.70h-1.70zM67.51 205.61h1.70v1.70h-1.70zM69.87 205.70h1.70v1.70h-1.70zM72.23 205.79h1.70v1.70h-1.70zM74.59 205.87h1.70v1.70h-1.70zM76.95 205.96h1.70v1.70h-1.70zM79.31 206.05h1.70v1.70h-1.70zM81.67 206.14h1.70v1.70h-1.70zM84.03 206.22h1.70v1.70h-1.70zM86.39 206.31h1.70v1.70h-1.70zM88.75 206.40h1.70v1.70h-1.70zM91.11 206.49h1.70v1.70h-1.70zM93.47 206.57h1.70v1.70h-1.70zM95.83 206.66h1.70v1.70h-1.70zM98.19 206.75h1.70v1.70h-1.70zM100.55 206.84h1.70v1.70h-1.70zM102.91 206.92h1.70v1.70h-1.70zM105.27 207.01h1.70v1.70h-1.70zM107.63 207.10h1.70v1.70h-1.70zM109.99 207.19h1.70v1.70h-1.70zM112.35 207.27h1.70v1.70h-1.70zM114.71 207.36h1.70v1.70h-1.70zM117.07 207.45h1.70v1.70h-1.70zM119.43 207.54h1.70v1.70h-1.70zM121.79 207.62h1.70v1.70h-1.70zM124.15 207.71h1.70v1.70h-1.70zM126.51 207.80h1.70v1.70h-1.70zM128.87 207.89h1.70v1.70h-1.70zM131.23 207.97h1.70v1.70h-1.70zM133.59 208.06h1.70v1.70h-1.70zM135.95 208.15h1.70v1.70h-1.70zM138.31 208.24h1.70v1.70h-1.70zM140.67 208.32h1.70v1.70h-1.70zM143.03 208.41h1.70v1.70h-1.70zM145.39 208.50h1.70v1.70h-1.70zM147.75 208.59h1.70v1.70h-1.70zM41.55 204.65h1.70v1.70h-1.70zM43.91 204.71h1.70v1.70h-1.70zM46.27 204.77h1.70v1.70h-1.70zM48.63 204.82h1.70v1.70h-1.70zM50.99 204.88h1.70v1.70h-1.70zM53.35 204.94h1.70v1.70h-1.70zM55.71 205.00h1.70v1.70h-1.70zM58.07 205.06h1.70v1.70h-1.70zM60.43 205.12h1.70v1.70h-1.70zM62.79 205.17h1.70v1.70h-1.70zM65.15 205.23h1.70v1.70h-1.70zM67.51 205.29h1.70v1.70h-1.70zM69.87 205.35h1.70v1.70h-1.70zM72.23 205.41h1.70v1.70h-1.70zM74.59 205.47h1.70v1.70h-1.70zM76.95 205.52h1.70v1.70h-1.70zM79.31 205.58h1.70v1.70h-1.70zM81.67 205.64h1.70v1.70h-1.70zM84.03 205.70h1.70v1.70h-1.70zM86.39 205.76h1.70v1.70h-1.70zM88.75 205.82h1.70v1.70h-1.70zM91.11 205.87h1.70v1.70h-1.70zM93.47 205.93h1.70v1.70h-1.70zM95.83 205.99h1.70v1.70h-1.70zM98.19 206.05h1.70v1.70h-1.70zM100.55 206.11h1.70v1.70h-1.70zM102.91 206.17h1.70v1.70h-1.70zM105.27 206.22h1.70v1.70h-1.70zM107.63 206.28h1.70v1.70h-1.70zM109.99 206.34h1.70v1.70h-1.70zM112.35 206.40h1.70v1.70h-1.70zM114.71 206.46h1.70v1.70h-1.70zM117.07 206.52h1.70v1.70h-1.70zM119.43 206.57h1.70v1.70h-1.70zM121.79 206.63h1.70v1.70h-1.70zM124.15 206.69h1.70v1.70h-1.70zM126.51 206.75h1.70v1.70h-1.70zM128.87 206.81h1.70v1.70h-1.70zM131.23 206.87h1.70v1.70h-1.70zM133.59 206.92h1.70v1.70h-1.70zM135.95 206.98h1.70v1.70h-1.70zM138.31 207.04h1.70v1.70h-1.70zM140.67 207.10h1.70v1.70h-1.70zM143.03 207.16h1.70v1.70h-1.70zM145.39 207.22h1.70v1.70h-1.70zM147.75 207.27h1.70v1.70h-1.70zM41.55 204.65h1.70v1.70h-1.70zM43.91 204.68h1.70v1.70h-1.70zM46.27 204.71h1.70v1.70h-1.70zM48.63 204.74h1.70v1.70h-1.70zM50.99 204.77h1.70v1.70h-1.70zM53.35 204.80h1.70v1.70h-1.70zM55.71 204.82h1.70v1.70h-1.70zM58.07 204.85h1.70v1.70h-1.70zM60.43 204.88h1.70v1.70h-1.70zM62.79 204.91h1.70v1.70h-1.70zM65.15 204.94h1.70v1.70h-1.70zM67.51 204.97h1.70v1.70h-1.70zM69.87 205.00h1.70v1.70h-1.70zM72.23 205.03h1.70v1.70h-1.70zM74.59 205.06h1.70v1.70h-1.70zM76.95 205.09h1.70v1.70h-1.70zM79.31 205.12h1.70v1.70h-1.70zM81.67 205.15h1.70v1.70h-1.70zM84.03 205.17h1.70v1.70h-1.70zM86.39 205.20h1.70v1.70h-1.70zM88.75 205.23h1.70v1.70h-1.70zM91.11 205.26h1.70v1.70h-1.70zM93.47 205.29h1.70v1.70h-1.70zM95.83 205.32h1.70v1.70h-1.70zM98.19 205.35h1.70v1.70h-1.70zM100.55 205.38h1.70v1.70h-1.70zM102.91 205.41h1.70v1.70h-1.70zM105.27 205.44h1.70v1.70h-1.70zM107.63 205.47h1.70v1.70h-1.70zM109.99 205.50h1.70v1.70h-1.70zM112.35 205.52h1.70v1.70h-1.70zM114.71 205.55h1.70v1.70h-1.70zM117.07 205.58h1.70v1.70h-1.70zM119.43 205.61h1.70v1.70h-1.70zM121.79 205.64h1.70v1.70h-1.70zM124.15 205.67h1.70v1.70h-1.70zM126.51 205.70h1.70v1.70h-1.70zM128.87 205.73h1.70v1.70h-1.70zM131.23 205.76h1.70v1.70h-1.70zM133.59 205.79h1.70v1.70h-1.70zM135.95 205.82h1.70v1.70h-1.70zM138.31 205.85h1.70v1.70h-1.70zM140.67 205.87h1.70v1.70h-1.70zM143.03 205.90h1.70v1.70h-1.70zM145.39 205.93h1.70v1.70h-1.70zM147.75 205.96h1.70v1.70h-1.70zM150.11 218.98h1.70v1.70h-1.70zM152.47 221.83h1.70v1.70h-1.70zM154.83 225.08h1.70v1.70h-1.70zM157.19 225.46h1.70v1.70h-1.70zM159.55 228.14h1.70v1.70h-1.70zM161.91 229.85h1.70v1.70h-1.70zM164.27 230.83h1.70v1.70h-1.70zM166.63 234.90h1.70v1.70h-1.70zM168.99 238.69h1.70v1.70h-1.70zM171.35 241.30h1.70v1.70h-1.70zM173.71 244.20h1.70v1.70h-1.70zM176.07 250.32h1.70v1.70h-1.70zM178.43 249.79h1.70v1.70h-1.70zM180.79 253.76h1.70v1.70h-1.70zM183.15 256.82h1.70v1.70h-1.70zM185.51 260.74h1.70v1.70h-1.70zM187.87 266.24h1.70v1.70h-1.70zM190.23 269.91h1.70v1.70h-1.70zM192.59 275.03h1.70v1.70h-1.70zM194.95 276.41h1.70v1.70h-1.70zM197.31 282.92h1.70v1.70h-1.70zM199.67 286.84h1.70v1.70h-1.70zM202.03 290.18h1.70v1.70h-1.70zM204.39 294.43h1.70v1.70h-1.70zM150.11 217.56h1.70v1.70h-1.70zM150.11 216.14h1.70v1.70h-1.70zM152.47 218.33h1.70v1.70h-1.70zM154.83 221.36h1.70v1.70h-1.70zM157.19 223.48h1.70v1.70h-1.70zM159.55 224.82h1.70v1.70h-1.70zM161.91 227.21h1.70v1.70h-1.70zM164.27 228.28h1.70v1.70h-1.70zM166.63 232.20h1.70v1.70h-1.70zM168.99 230.76h1.70v1.70h-1.70zM171.35 234.50h1.70v1.70h-1.70zM173.71 239.26h1.70v1.70h-1.70zM176.07 241.48h1.70v1.70h-1.70zM178.43 243.81h1.70v1.70h-1.70zM180.79 246.56h1.70v1.70h-1.70zM183.15 250.55h1.70v1.70h-1.70zM185.51 250.17h1.70v1.70h-1.70zM187.87 252.51h1.70v1.70h-1.70zM190.23 257.99h1.70v1.70h-1.70zM192.59 261.01h1.70v1.70h-1.70zM194.95 266.00h1.70v1.70h-1.70zM197.31 269.13h1.70v1.70h-1.70zM199.67 271.28h1.70v1.70h-1.70zM202.03 274.93h1.70v1.70h-1.70zM150.11 214.73h1.70v1.70h-1.70zM152.47 214.52h1.70v1.70h-1.70zM154.83 219.11h1.70v1.70h-1.70zM157.19 221.43h1.70v1.70h-1.70zM159.55 218.99h1.70v1.70h-1.70zM161.91 222.86h1.70v1.70h-1.70zM164.27 226.64h1.70v1.70h-1.70zM166.63 226.94h1.70v1.70h-1.70zM168.99 231.52h1.70v1.70h-1.70zM171.35 231.49h1.70v1.70h-1.70zM173.71 231.77h1.70v1.70h-1.70zM176.07 234.71h1.70v1.70h-1.70zM178.43 237.95h1.70v1.70h-1.70zM180.79 242.48h1.70v1.70h-1.70zM183.15 244.58h1.70v1.70h-1.70zM185.51 248.13h1.70v1.70h-1.70zM187.87 248.04h1.70v1.70h-1.70zM190.23 251.87h1.70v1.70h-1.70zM192.59 253.52h1.70v1.70h-1.70zM194.95 258.41h1.70v1.70h-1.70zM197.31 261.77h1.70v1.70h-1.70zM199.67 261.97h1.70v1.70h-1.70zM202.03 264.13h1.70v1.70h-1.70zM150.11 213.31h1.70v1.70h-1.70zM152.47 212.84h1.70v1.70h-1.70zM154.83 214.40h1.70v1.70h-1.70zM150.11 211.89h1.70v1.70h-1.70zM152.47 211.43h1.70v1.70h-1.70zM154.83 212.95h1.70v1.70h-1.70zM157.19 216.60h1.70v1.70h-1.70zM159.55 216.65h1.70v1.70h-1.70zM161.91 218.87h1.70v1.70h-1.70zM164.27 221.93h1.70v1.70h-1.70zM166.63 223.55h1.70v1.70h-1.70zM168.99 224.08h1.70v1.70h-1.70zM171.35 225.91h1.70v1.70h-1.70zM173.71 225.72h1.70v1.70h-1.70zM176.07 226.35h1.70v1.70h-1.70zM178.43 230.58h1.70v1.70h-1.70zM180.79 230.26h1.70v1.70h-1.70zM183.15 232.00h1.70v1.70h-1.70zM185.51 234.17h1.70v1.70h-1.70zM187.87 238.94h1.70v1.70h-1.70zM190.23 241.69h1.70v1.70h-1.70zM192.59 243.79h1.70v1.70h-1.70zM194.95 246.09h1.70v1.70h-1.70zM197.31 248.24h1.70v1.70h-1.70zM150.11 210.47h1.70v1.70h-1.70zM152.47 210.75h1.70v1.70h-1.70zM154.83 210.46h1.70v1.70h-1.70zM157.19 211.83h1.70v1.70h-1.70zM150.11 209.06h1.70v1.70h-1.70zM152.47 209.84h1.70v1.70h-1.70zM154.83 209.85h1.70v1.70h-1.70zM157.19 210.07h1.70v1.70h-1.70zM159.55 214.31h1.70v1.70h-1.70zM161.91 212.69h1.70v1.70h-1.70zM164.27 212.62h1.70v1.70h-1.70zM166.63 214.33h1.70v1.70h-1.70zM168.99 215.64h1.70v1.70h-1.70zM171.35 218.10h1.70v1.70h-1.70zM173.71 220.71h1.70v1.70h-1.70zM176.07 219.19h1.70v1.70h-1.70zM178.43 222.59h1.70v1.70h-1.70zM180.79 221.78h1.70v1.70h-1.70zM183.15 222.36h1.70v1.70h-1.70zM185.51 226.40h1.70v1.70h-1.70zM187.87 227.80h1.70v1.70h-1.70zM190.23 226.74h1.70v1.70h-1.70zM192.59 229.23h1.70v1.70h-1.70zM194.95 233.27h1.70v1.70h-1.70zM197.31 234.99h1.70v1.70h-1.70zM150.11 207.64h1.70v1.70h-1.70zM152.47 209.78h1.70v1.70h-1.70zM154.83 206.94h1.70v1.70h-1.70zM157.19 208.09h1.70v1.70h-1.70zM159.55 211.87h1.70v1.70h-1.70zM150.11 206.22h1.70v1.70h-1.70zM152.47 205.11h1.70v1.70h-1.70zM154.83 204.85h1.70v1.70h-1.70zM157.19 206.83h1.70v1.70h-1.70zM159.55 208.77h1.70v1.70h-1.70zM161.91 208.43h1.70v1.70h-1.70zM164.27 210.94h1.70v1.70h-1.70zM166.63 212.10h1.70v1.70h-1.70zM168.99 208.35h1.70v1.70h-1.70zM171.35 210.50h1.70v1.70h-1.70zM173.71 211.75h1.70v1.70h-1.70zM176.07 210.59h1.70v1.70h-1.70zM178.43 213.61h1.70v1.70h-1.70zM180.79 212.34h1.70v1.70h-1.70zM183.15 213.31h1.70v1.70h-1.70zM185.51 216.91h1.70v1.70h-1.70zM187.87 217.51h1.70v1.70h-1.70zM190.23 218.13h1.70v1.70h-1.70zM192.59 219.18h1.70v1.70h-1.70zM206.75 286.25h1.70v1.70h-1.70zM209.11 281.19h1.70v1.70h-1.70zM211.47 273.90h1.70v1.70h-1.70zM213.83 268.66h1.70v1.70h-1.70zM216.19 258.53h1.70v1.70h-1.70zM218.55 254.52h1.70v1.70h-1.70zM220.91 247.48h1.70v1.70h-1.70zM223.27 240.35h1.70v1.70h-1.70zM225.63 232.31h1.70v1.70h-1.70zM227.99 227.97h1.70v1.70h-1.70zM230.35 173.87h1.70v1.70h-1.70zM211.47 193.49h1.70v1.70h-1.70zM192.59 208.44h1.70v1.70h-1.70zM204.39 207.49h1.70v1.70h-1.70zM216.19 228.51h1.70v1.70h-1.70zM227.99 228.54h1.70v1.70h-1.70zM225.63 249.07h1.70v1.70h-1.70zM213.83 255.80h1.70v1.70h-1.70zM223.27 263.63h1.70v1.70h-1.70zM219.49 279.30h1.70v1.70h-1.70zM220.91 277.92h1.70v1.70h-1.70zM209.11 275.78h1.70v1.70h-1.70zM213.83 286.39h1.70v1.70h-1.70z" fill="#56b4e9"/>
<path d="M142.57 34.84h2.00v2.00h-2.00zM142.57 35.94h2.00v2.00h-2.00zM142.57 37.03h2.00v2.00h-2.00zM142.57 38.12h2.00v2.00h-2.00zM153.23 34.84h2.00v2.00h-2.00zM153.23 35.94h2.00v2.00h-2.00zM153.23 37.03h2.00v2.00h-2.00zM153.23 38.12h2.00v2.00h-2.00zM131.91 34.84h2.00v2.00h-2.00zM131.91 35.94h2.00v2.00h-2.00zM131.91 37.03h2.00v2.00h-2.00zM131.91 38.12h2.00v2.00h-2.00zM163.89 34.84h2.00v2.00h-2.00zM163.89 35.94h2.00v2.00h-2.00zM163.89 37.03h2.00v2.00h-2.00zM163.89 38.12h2.00v2.00h-2.00zM121.25 35.17h2.00v2.00h-2.00zM121.25 36.65h2.00v2.00h-2.00zM121.25 38.12h2.00v2.00h-2.00zM174.55 35.17h2.00v2.00h-2.00zM174.55 36.65h2.00v2.00h-2.00zM174.55 38.12h2.00v2.00h-2.00zM110.59 35.50h2.00v2.00h-2.00zM110.59 36.81h2.00v2.00h-2.00zM110.59 38.12h2.00v2.00h-2.00zM185.21 35.50h2.00v2.00h-2.00zM185.21 36.81h2.00v2.00h-2.00zM185.21 38.12h2.00v2.00h-2.00zM99.93 35.83h2.00v2.00h-2.00zM99.93 36.98h2.00v2.00h-2.00zM99.93 38.12h2.00v2.00h-2.00zM195.87 35.83h2.00v2.00h-2.00zM195.87 36.98h2.00v2.00h-2.00zM195.87 38.12h2.00v2.00h-2.00zM89.27 36.16h2.00v2.00h-2.00zM89.27 38.12h2.00v2.00h-2.00zM206.53 36.16h2.00v2.00h-2.00zM206.53 38.12h2.00v2.00h-2.00zM78.61 36.81h2.00v2.00h-2.00zM78.61 38.12h2.00v2.00h-2.00zM217.19 36.81h2.00v2.00h-2.00zM217.19 38.12h2.00v2.00h-2.00zM67.95 37.47h2.00v2.00h-2.00zM67.95 38.12h2.00v2.00h-2.00zM227.85 37.47h2.00v2.00h-2.00zM227.85 38.12h2.00v2.00h-2.00zM57.29 37.80h2.00v2.00h-2.00zM57.29 38.12h2.00v2.00h-2.00zM238.51 37.80h2.00v2.00h-2.00zM238.51 38.12h2.00v2.00h-2.00zM46.63 38.12h2.00v2.00h-2.00zM46.63 38.12h2.00v2.00h-2.00zM249.17 38.12h2.00v2.00h-2.00zM249.17 38.12h2.00v2.00h-2.00zM46.63 19.41h2.00v2.00h-2.00zM249.17 19.41h2.00v2.00h-2.00z" fill="#9400d3"/>
<path d="M142.57 38.12h2.00v2.00h-2.00zM142.57 39.44h2.00v2.00h-2.00zM142.57 40.75h2.00v2.00h-2.00zM142.57 42.06h2.00v2.00h-2.00zM142.57 43.38h2.00v2.00h-2.00zM142.57 44.69h2.00v2.00h-2.00zM142.57 46.00h2.00v2.00h-2.00zM142.57 47.32h2.00v2.00h-2.00zM142.57 48.63h2.00v2.00h-2.00zM142.57 49.94h2.00v2.00h-2.00zM142.57 51.26h2.00v2.00h-2.00zM153.23 38.12h2.00v2.00h-2.00zM153.23 39.44h2.00v2.00h-2.00zM153.23 40.75h2.00v2.00h-2.00zM153.23 42.06h2.00v2.00h-2.00zM153.23 43.38h2.00v2.00h-2.00zM153.23 44.69h2.00v2.00h-2.00zM153.23 46.00h2.00v2.00h-2.00zM153.23 47.32h2.00v2.00h-2.00zM153.23 48.63h2.00v2.00h-2.00zM153.23 49.94h2.00v2.00h-2.00zM153.23 51.26h2.00v2.00h-2.00zM131.91 38.12h2.00v2.00h-2.00zM131.91 39.44h2.00v2.00h-2.00zM131.91 40.75h2.00v2.00h-2.00zM131.91 42.06h2.00v2.00h-2.00zM131.91 43.38h2.00v2.00h-2.00zM131.91 44.69h2.00v2.00h-2.00zM131.91 46.00h2.00v2.00h-2.00zM131.91 47.32h2.00v2.00h-2.00zM131.91 48.63h2.00v2.00h-2.00zM131.91 49.94h2.00v2.00h-2.00zM131.91 51.26h2.00v2.00h-2.00zM163.89 38.12h2.00v2.00h-2.00zM163.89 39.44h2.00v2.00h-2.00zM163.89 40.75h2.00v2.00h-2.00zM163.89 42.06h2.00v2.00h-2.00zM163.89 43.38h2.00v2.00h-2.00zM163.89 44.69h2.00v2.00h-2.00zM163.89 46.00h2.00v2.00h-2.00zM163.89 47.32h2.00v2.00h-2.00zM163.89 48.63h2.00v2.00h-2.00zM163.89 49.94h2.00v2.00h-2.00zM163.89 51.26h2.00v2.00h-2.00zM121.25 38.12h2.00v2.00h-2.00zM121.25 39.44h2.00v2.00h-2.00zM121.25 40.75h2.00v2.00h-2.00zM121.25 42.06h2.00v2.00h-2.00zM121.25 43.38h2.00v2.00h-2.00zM121.25 44.69h2.00v2.00h-2.00zM121.25 46.00h2.00v2.00h-2.00zM121.25 47.32h2.00v2.00h-2.00zM121.25 48.63h2.00v2.00h-2.00zM121.25 49.94h2.00v2.00h-2.00zM121.25 51.26h2.00v2.00h-2.00zM174.55 38.12h2.00v2.00h-2.00zM174.55 39.44h2.00v2.00h-2.00zM174.55 40.75h2.00v2.00h-2.00zM174.55 42.06h2.00v2.00h-2.00zM174.55 43.38h2.00v2.00h-2.00zM174.55 44.69h2.00v2.00h-2.00zM174.55 46.00h2.00v2.00h-2.00zM174.55 47.32h2.00v2.00h-2.00zM174.55 48.63h2.00v2.00h-2.00zM174.55 49.94h2.00v2.00h-2.00zM174.55 51.26h2.00v2.00h-2.00zM110.59 38.12h2.00v2.00h-2.00zM110.59 39.33h2.00v2.00h-2.00zM110.59 40.53h2.00v2.00h-2.00zM110.59 41.74h2.00v2.00h-2.00zM110.59 42.94h2.00v2.00h-2.00zM110.59 44.14h2.00v2.00h-2.00zM110.59 45.35h2.00v2.00h-2.00zM110.59 46.55h2.00v2.00h-2.00zM110.59 47.75h2.00v2.00h-2.00zM110.59 48.96h2.00v2.00h-2.00zM110.59 50.16h2.00v2.00h-2.00zM110.59 51.36h2.00v2.00h-2.00zM110.59 52.57h2.00v2.00h-2.00zM185.21 38.12h2.00v2.00h-2.00zM185.21 39.33h2.00v2.00h-2.00zM185.21 40.53h2.00v2.00h-2.00zM185.21 41.74h2.00v2.00h-2.00zM185.21 42.94h2.00v2.00h-2.00zM185.21 44.14h2.00v2.00h-2.00zM185.21 45.35h2.00v2.00h-2.00zM185.21 46.55h2.00v2.00h-2.00zM185.21 47.75h2.00v2.00h-2.00zM185.21 48.96h2.00v2.00h-2.00zM185.21 50.16h2.00v2.00h-2.00zM185.21 51.36h2.00v2.00h-2.00zM185.21 52.57h2.00v2.00h-2.00zM99.93 38.12h2.00v2.00h-2.00zM99.93 39.34h2.00v2.00h-2.00zM99.93 40.55h2.00v2.00h-2.00zM99.93 41.76h2.00v2.00h-2.00zM99.93 42.97h2.00v2.00h-2.00zM99.93 44.18h2.00v2.00h-2.00zM99.93 45.39h2.00v2.00h-2.00zM99.93 46.60h2.00v2.00h-2.00zM99.93 47.81h2.00v2.00h-2.00zM99.93 49.02h2.00v2.00h-2.00zM99.93 50.23h2.00v2.00h-2.00zM99.93 51.44h2.00v2.00h-2.00zM99.93 52.65h2.00v2.00h-2.00zM99.93 53.86h2.00v2.00h-2.00zM99.93 55.07h2.00v2.00h-2.00zM99.93 56.28h2.00v2.00h-2.00zM99.93 57.49h2.00v2.00h-2.00zM195.87 38.12h2.00v2.00h-2.00zM195.87 39.34h2.00v2.00h-2.00zM195.87 40.55h2.00v2.00h-2.00zM195.87 41.76h2.00v2.00h-2.00zM195.87 42.97h2.00v2.00h-2.00zM195.87 44.18h2.00v2.00h-2.00zM195.87 45.39h2.00v2.00h-2.00zM195.87 46.60h2.00v2.00h-2.00zM195.87 47.81h2.00v2.00h-2.00zM195.87 49.02h2.00v2.00h-2.00zM195.87 50.23h2.00v2.00h-2.00zM195.87 51.44h2.00v2.00h-2.00zM195.87 52.65h2.00v2.00h-2.00zM195.87 53.86h2.00v2.00h-2.00zM195.87 55.07h2.00v2.00h-2.00zM195.87 56.28h2.00v2.00h-2.00zM195.87 57.49h2.00v2.00h-2.00zM89.27 38.12h2.00v2.00h-2.00zM89.27 39.36h2.00v2.00h-2.00zM89.27 40.59h2.00v2.00h-2.00zM89.27 41.83h2.00v2.00h-2.00zM89.27 43.06h2.00v2.00h-2.00zM89.27 44.30h2.00v2.00h-2.00zM89.27 45.53h2.00v2.00h-2.00zM89.27 46.77h2.00v2.00h-2.00zM89.27 48.00h2.00v2.00h-2.00zM89.27 49.24h2.00v2.00h-2.00zM89.27 50.47h2.00v2.00h-2.00zM89.27 51.71h2.00v2.00h-2.00zM89.27 52.94h2.00v2.00h-2.00zM89.27 54.18h2.00v2.00h-2.00zM89.27 55.41h2.00v2.00h-2.00zM89.27 56.65h2.00v2.00h-2.00zM89.27 57.88h2.00v2.00h-2.00zM89.27 59.12h2.00v2.00h-2.00zM89.27 60.35h2.00v2.00h-2.00zM89.27 61.59h2.00v2.00h-2.00zM89.27 62.82h2.00v2.00h-2.00zM89.27 64.06h2.00v2.00h-2.00zM206.53 38.12h2.00v2.00h-2.00zM206.53 39.36h2.00v2.00h-2.00zM206.53 40.59h2.00v2.00h-2.00zM206.53 41.83h2.00v2.00h-2.00zM206.53 43.06h2.00v2.00h-2.00zM206.53 44.30h2.00v2.00h-2.00zM206.53 45.53h2.00v2.00h-2.00zM206.53 46.77h2.00v2.00h-2.00zM206.53 48.00h2.00v2.00h-2.00zM206.53 49.24h2.00v2.00h-2.00zM206.53 50.47h2.00v2.00h-2.00zM206.53 51.71h2.00v2.00h-2.00zM206.53 52.94h2.00v2.00h-2.00zM206.53 54.18h2.00v2.00h-2.00zM206.53 55.41h2.00v2.00h-2.00zM206.53 56.65h2.00v2.00h-2.00zM206.53 57.88h2.00v2.00h-2.00zM206.53 59.12h2.00v2.00h-2.00zM206.53 60.35h2.00v2.00h-2.00zM206.53 61.59h2.00v2.00h-2.00zM206.53 62.82h2.00v2.00h-2.00zM206.53 64.06h2.00v2.00h-2.00zM78.61 38.12h2.00v2.00h-2.00zM78.61 39.36h2.00v2.00h-2.00zM78.61 40.59h2.00v2.00h-2.00zM78.61 41.82h2.00v2.00h-2.00zM78.61 43.05h2.00v2.00h-2.00zM78.61 44.28h2.00v2.00h-2.00zM78.61 45.51h2.00v2.00h-2.00zM78.61 46.74h2.00v2.00h-2.00zM78.61 47.97h2.00v2.00h-2.00zM78.61 49.20h2.00v2.00h-2.00zM78.61 50.43h2.00v2.00h-2.00zM78.61 51.67h2.00v2.00h-2.00zM78.61 52.90h2.00v2.00h-2.00zM78.61 54.13h2.00v2.00h-2.00zM78.61 55.36h2.00v2.00h-2.00zM78.61 56.59h2.00v2.00h-2.00zM78.61 57.82h2.00v2.00h-2.00zM78.61 59.05h2.00v2.00h-2.00zM78.61 60.28h2.00v2.00h-2.00zM78.61 61.51h2.00v2.00h-2.00zM78.61 62.74h2.00v2.00h-2.00zM78.61 66.03h2.00v2.00h-2.00zM78.61 68.98h2.00v2.00h-2.00zM78.61 72.26h2.00v2.00h-2.00zM78.61 75.87h2.00v2.00h-2.00zM217.19 38.12h2.00v2.00h-2.00zM217.19 39.36h2.00v2.00h-2.00zM217.19 40.59h2.00v2.00h-2.00zM217.19 41.82h2.00v2.00h-2.00zM217.19 43.05h2.00v2.00h-2.00zM217.19 44.28h2.00v2.00h-2.00zM217.19 45.51h2.00v2.00h-2.00zM217.19 46.74h2.00v2.00h-2.00zM217.19 47.97h2.00v2.00h-2.00zM217.19 49.20h2.00v2.00h-2.00zM217.19 50.43h2.00v2.00h-2.00zM217.19 51.67h2.00v2.00h-2.00zM217.19 52.90h2.00v2.00h-2.00zM217.19 54.13h2.00v2.00h-2.00zM217.19 55.36h2.00v2.00h-2.00zM217.19 56.59h2.00v2.00h-2.00zM217.19 57.82h2.00v2.00h-2.00zM217.19 59.05h2.00v2.00h-2.00zM217.19 60.28h2.00v2.00h-2.00zM217.19 61.51h2.00v2.00h-2.00zM217.19 62.74h2.00v2.00h-2.00zM217.19 66.03h2.00v2.00h-2.00zM217.19 68.98h2.00v2.00h-2.00zM217.19 72.26h2.00v2.00h-2.00zM217.19 75.87h2.00v2.00h-2.00zM67.95 38.12h2.00v2.00h-2.00zM67.95 39.36h2.00v2.00h-2.00zM67.95 40.59h2.00v2.00h-2.00zM67.95 41.83h2.00v2.00h-2.00zM67.95 43.06h2.00v2.00h-2.00zM67.95 44.30h2.00v2.00h-2.00zM67.95 45.53h2.00v2.00h-2.00zM67.95 46.76h2.00v2.00h-2.00zM67.95 48.00h2.00v2.00h-2.00zM67.95 49.23h2.00v2.00h-2.00zM67.95 50.47h2.00v2.00h-2.00zM67.95 51.70h2.00v2.00h-2.00zM67.95 52.94h2.00v2.00h-2.00zM67.95 54.17h2.00v2.00h-2.00zM67.95 55.40h2.00v2.00h-2.00zM67.95 56.64h2.00v2.00h-2.00zM67.95 57.87h2.00v2.00h-2.00zM67.95 59.11h2.00v2.00h-2.00zM67.95 60.34h2.00v2.00h-2.00zM67.95 61.58h2.00v2.00h-2.00zM67.95 62.81h2.00v2.00h-2.00zM67.95 64.04h2.00v2.00h-2.00zM67.95 65.28h2.00v2.00h-2.00zM67.95 66.51h2.00v2.00h-2.00zM67.95 67.75h2.00v2.00h-2.00zM67.95 68.98h2.00v2.00h-2.00zM67.95 72.26h2.00v2.00h-2.00zM67.95 76.53h2.00v2.00h-2.00zM67.95 80.80h2.00v2.00h-2.00zM67.95 83.75h2.00v2.00h-2.00zM67.95 88.35h2.00v2.00h-2.00zM67.95 92.29h2.00v2.00h-2.00zM67.95 97.21h2.00v2.00h-2.00zM227.85 38.12h2.00v2.00h-2.00zM227.85 39.36h2.00v2.00h-2.00zM227.85 40.59h2.00v2.00h-2.00zM227.85 41.83h2.00v2.00h-2.00zM227.85 43.06h2.00v2.00h-2.00zM227.85 44.30h2.00v2.00h-2.00zM227.85 45.53h2.00v2.00h-2.00zM227.85 46.76h2.00v2.00h-2.00zM227.85 48.00h2.00v2.00h-2.00zM227.85 49.23h2.00v2.00h-2.00zM227.85 50.47h2.00v2.00h-2.00zM227.85 51.70h2.00v2.00h-2.00zM227.85 52.94h2.00v2.00h-2.00zM227.85 54.17h2.00v2.00h-2.00zM227.85 55.40h2.00v2.00h-2.00zM227.85 56.64h2.00v2.00h-2.00zM227.85 57.87h2.00v2.00h-2.00zM227.85 59.11h2.00v2.00h-2.00zM227.85 60.34h2.00v2.00h-2.00zM227.85 61.58h2.00v2.00h-2.00zM227.85 62.81h2.00v2.00h-2.00zM227.85 64.04h2.00v2.00h-2.00zM227.85 65.28h2.00v2.00h-2.00zM227.85 66.51h2.00v2.00h-2.00zM227.85 67.75h2.00v2.00h-2.00zM227.85 68.98h2.00v2.00h-2.00zM227.85 72.26h2.00v2.00h-2.00zM227.85 76.53h2.00v2.00h-2.00zM227.85 80.80h2.00v2.00h-2.00zM227.85 83.75h2.00v2.00h-2.00zM227.85 88.35h2.00v2.00h-2.00zM227.85 92.29h2.00v2.00h-2.00zM227.85 97.21h2.00v2.00h-2.00zM57.29 38.12h2.00v2.00h-2.00zM57.29 39.35h2.00v2.00h-2.00zM57.29 40.57h2.00v2.00h-2.00zM57.29 41.80h2.00v2.00h-2.00zM57.29 43.02h2.00v2.00h-2.00zM57.29 44.25h2.00v2.00h-2.00zM57.29 45.47h2.00v2.00h-2.00zM57.29 46.70h2.00v2.00h-2.00zM57.29 47.92h2.00v2.00h-2.00zM57.29 49.15h2.00v2.00h-2.00zM57.29 50.37h2.00v2.00h-2.00zM57.29 51.60h2.00v2.00h-2.00zM57.29 52.82h2.00v2.00h-2.00zM57.29 54.05h2.00v2.00h-2.00zM57.29 55.27h2.00v2.00h-2.00zM57.29 56.50h2.00v2.00h-2.00zM57.29 57.72h2.00v2.00h-2.00zM57.29 58.95h2.00v2.00h-2.00zM57.29 60.17h2.00v2.00h-2.00zM57.29 61.40h2.00v2.00h-2.00zM57.29 62.62h2.00v2.00h-2.00zM57.29 63.85h2.00v2.00h-2.00zM57.29 65.07h2.00v2.00h-2.00zM57.29 66.30h2.00v2.00h-2.00zM57.29 67.52h2.00v2.00h-2.00zM57.29 68.75h2.00v2.00h-2.00zM57.29 69.97h2.00v2.00h-2.00zM57.29 71.20h2.00v2.00h-2.00zM57.29 72.42h2.00v2.00h-2.00zM57.29 73.65h2.00v2.00h-2.00zM57.29 74.87h2.00v2.00h-2.00zM57.29 76.10h2.00v2.00h-2.00zM57.29 77.32h2.00v2.00h-2.00zM57.29 78.55h2.00v2.00h-2.00zM57.29 79.77h2.00v2.00h-2.00zM57.29 81.00h2.00v2.00h-2.00zM57.29 82.22h2.00v2.00h-2.00zM57.29 83.45h2.00v2.00h-2.00zM57.29 84.67h2.00v2.00h-2.00zM57.29 85.90h2.00v2.00h-2.00zM57.29 87.12h2.00v2.00h-2.00zM57.29 88.35h2.00v2.00h-2.00zM57.29 90.65h2.00v2.00h-2.00zM57.29 96.55h2.00v2.00h-2.00zM57.29 102.46h2.00v2.00h-2.00zM57.29 107.39h2.00v2.00h-2.00zM57.29 109.36h2.00v2.00h-2.00zM57.29 114.61h2.00v2.00h-2.00zM57.29 118.87h2.00v2.00h-2.00zM57.29 123.14h2.00v2.00h-2.00zM57.29 126.10h2.00v2.00h-2.00zM57.29 127.74h2.00v2.00h-2.00zM238.51 38.12h2.00v2.00h-2.00zM238.51 39.35h2.00v2.00h-2.00zM238.51 40.57h2.00v2.00h-2.00zM238.51 41.80h2.00v2.00h-2.00zM238.51 43.02h2.00v2.00h-2.00zM238.51 44.25h2.00v2.00h-2.00zM238.51 45.47h2.00v2.00h-2.00zM238.51 46.70h2.00v2.00h-2.00zM238.51 47.92h2.00v2.00h-2.00zM238.51 49.15h2.00v2.00h-2.00zM238.51 50.37h2.00v2.00h-2.00zM238.51 51.60h2.00v2.00h-2.00zM238.51 52.82h2.00v2.00h-2.00zM238.51 54.05h2.00v2.00h-2.00zM238.51 55.27h2.00v2.00h-2.00zM238.51 56.50h2.00v2.00h-2.00zM238.51 57.72h2.00v2.00h-2.00zM238.51 58.95h2.00v2.00h-2.00zM238.51 60.17h2.00v2.00h-2.00zM238.51 61.40h2.00v2.00h-2.00zM238.51 62.62h2.00v2.00h-2.00zM238.51 63.85h2.00v2.00h-2.00zM238.51 65.07h2.00v2.00h-2.00zM238.51 66.30h2.00v2.00h-2.00zM238.51 67.52h2.00v2.00h-2.00zM238.51 68.75h2.00v2.00h-2.00zM238.51 69.97h2.00v2.00h-2.00zM238.51 71.20h2.00v2.00h-2.00zM238.51 72.42h2.00v2.00h-2.00zM238.51 73.65h2.00v2.00h-2.00zM238.51 74.87h2.00v2.00h-2.00zM238.51 76.10h2.00v2.00h-2.00zM238.51 77.32h2.00v2.00h-2.00zM238.51 78.55h2.00v2.00h-2.00zM238.51 79.77h2.00v2.00h-2.00zM238.51 81.00h2.00v2.00h-2.00zM238.51 82.22h2.00v2.00h-2.00zM238.51 83.45h2.00v2.00h-2.00zM238.51 84.67h2.00v2.00h-2.00zM238.51 85.90h2.00v2.00h-2.00zM238.51 87.12h2.00v2.00h-2.00zM238.51 88.35h2.00v2.00h-2.00zM238.51 90.65h2.00v2.00h-2.00zM238.51 96.55h2.00v2.00h-2.00zM238.51 102.46h2.00v2.00h-2.00zM238.51 107.39h2.00v2.00h-2.00zM238.51 109.36h2.00v2.00h-2.00zM238.51 114.61h2.00v2.00h-2.00zM238.51 118.87h2.00v2.00h-2.00zM238.51 123.14h2.00v2.00h-2.00zM238.51 126.10h2.00v2.00h-2.00zM238.51 127.74h2.00v2.00h-2.00zM46.63 38.12h2.00v2.00h-2.00zM46.63 39.36h2.00v2.00h-2.00zM46.63 40.59h2.00v2.00h-2.00zM46.63 41.83h2.00v2.00h-2.00zM46.63 43.06h2.00v2.00h-2.00zM46.63 44.30h2.00v2.00h-2.00zM46.63 45.53h2.00v2.00h-2.00zM46.63 46.76h2.00v2.00h-2.00zM46.63 48.00h2.00v2.00h-2.00zM46.63 49.23h2.00v2.00h-2.00zM46.63 50.47h2.00v2.00h-2.00zM46.63 51.70h2.00v2.00h-2.00zM46.63 52.94h2.00v2.00h-2.00zM46.63 54.17h2.00v2.00h-2.00zM46.63 55.40h2.00v2.00h-2.00zM46.63 56.64h2.00v2.00h-2.00zM46.63 57.87h2.00v2.00h-2.00zM46.63 59.11h2.00v2.00h-2.00zM46.63 60.34h2.00v2.00h-2.00zM46.63 61.58h2.00v2.00h-2.00zM46.63 62.81h2.00v2.00h-2.00zM46.63 64.04h2.00v2.00h-2.00zM46.63 65.28h2.00v2.00h-2.00zM46.63 66.51h2.00v2.00h-2.00zM46.63 67.75h2.00v2.00h-2.00zM46.63 68.98h2.00v2.00h-2.00zM46.63 71.28h2.00v2.00h-2.00zM46.63 74.23h2.00v2.00h-2.00zM46.63 77.84h2.00v2.00h-2.00zM46.63 81.78h2.00v2.00h-2.00zM46.63 86.05h2.00v2.00h-2.00zM46.63 89.33h2.00v2.00h-2.00zM46.63 90.32h2.00v2.00h-2.00zM46.63 94.91h2.00v2.00h-2.00zM46.63 98.85h2.00v2.00h-2.00zM46.63 102.13h2.00v2.00h-2.00zM46.63 105.09h2.00v2.00h-2.00zM46.63 108.37h2.00v2.00h-2.00zM46.63 111.65h2.00v2.00h-2.00zM46.63 120.52h2.00v2.00h-2.00zM46.63 9.57h2.00v2.00h-2.00zM46.63 26.96h2.00v2.00h-2.00zM249.17 38.12h2.00v2.00h-2.00zM249.17 39.36h2.00v2.00h-2.00zM249.17 40.59h2.00v2.00h-2.00zM249.17 41.83h2.00v2.00h-2.00zM249.17 43.06h2.00v2.00h-2.00zM249.17 44.30h2.00v2.00h-2.00zM249.17 45.53h2.00v2.00h-2.00zM249.17 46.76h2.00v2.00h-2.00zM249.17 48.00h2.00v2.00h-2.00zM249.17 49.23h2.00v2.00h-2.00zM249.17 50.47h2.00v2.00h-2.00zM249.17 51.70h2.00v2.00h-2.00zM249.17 52.94h2.00v2.00h-2.00zM249.17 54.17h2.00v2.00h-2.00zM249.17 55.40h2.00v2.00h-2.00zM249.17 56.64h2.00v2.00h-2.00zM249.17 57.87h2.00v2.00h-2.00zM249.17 59.11h2.00v2.00h-2.00zM249.17 60.34h2.00v2.00h-2.00zM249.17 61.58h2.00v2.00h-2.00zM249.17 62.81h2.00v2.00h-2.00zM249.17 64.04h2.00v2.00h-2.00zM249.17 65.28h2.00v2.00h-2.00zM249.17 66.51h2.00v2.00h-2.00zM249.17 67.75h2.00v2.00h-2.00zM249.17 68.98h2.00v2.00h-2.00zM249.17 71.28h2.00v2.00h-2.00zM249.17 74.23h2.00v2.00h-2.00zM249.17 77.84h2.00v2.00h-2.00zM249.17 81.78h2.00v2.00h-2.00zM249.17 86.05h2.00v2.00h-2.00zM249.17 89.33h2.00v2.00h-2.00zM249.17 90.32h2.00v2.00h-2.00zM249.17 94.91h2.00v2.00h-2.00zM249.17 98.85h2.00v2.00h-2.00zM249.17 102.13h2.00v2.00h-2.00zM249.17 105.09h2.00v2.00h-2.00zM249.17 108.37h2.00v2.00h-2.00zM249.17 111.65h2.00v2.00h-2.00zM249.17 120.52h2.00v2.00h-2.00zM249.17 9.57h2.00v2.00h-2.00zM249.17 26.96h2.00v2.00h-2.00z" fill="#56b4e9"/>
<path d="M68.00 57.54h1.90v1.90h-1.90zM68.00 62.79h1.90v1.90h-1.90zM227.90 57.54h1.90v1.90h-1.90zM227.90 62.79h1.90v1.90h-1.90zM57.34 63.78h1.90v1.90h-1.90zM57.34 71.33h1.90v1.90h-1.90zM57.34 79.86h1.90v1.90h-1.90zM57.34 85.11h1.90v1.90h-1.90zM238.56 63.78h1.90v1.90h-1.90zM238.56 71.33h1.90v1.90h-1.90zM238.56 79.86h1.90v1.90h-1.90zM238.56 85.11h1.90v1.90h-1.90zM46.68 59.51h1.90v1.90h-1.90zM46.68 66.40h1.90v1.90h-1.90zM46.68 74.28h1.90v1.90h-1.90zM46.68 89.38h1.90v1.90h-1.90zM46.68 94.96h1.90v1.90h-1.90zM46.68 15.53h1.90v1.90h-1.90zM249.22 59.51h1.90v1.90h-1.90zM249.22 66.40h1.90v1.90h-1.90zM249.22 74.28h1.90v1.90h-1.90zM249.22 89.38h1.90v1.90h-1.90zM249.22 94.96h1.90v1.90h-1.90zM249.22 15.53h1.90v1.90h-1.90z" fill="#009e73"/>
<path d="M430.35 79.45h1.80v1.80h-1.80zM430.35 80.58h1.80v1.80h-1.80zM430.35 81.72h1.80v1.80h-1.80zM430.35 82.86h1.80v1.80h-1.80zM430.35 83.99h1.80v1.80h-1.80zM430.35 85.13h1.80v1.80h-1.80zM430.35 86.26h1.80v1.80h-1.80zM430.35 87.40h1.80v1.80h-1.80zM430.35 88.54h1.80v1.80h-1.80zM430.35 89.67h1.80v1.80h-1.80zM430.35 90.81h1.80v1.80h-1.80zM430.35 91.95h1.80v1.80h-1.80zM430.35 93.08h1.80v1.80h-1.80zM430.35 94.22h1.80v1.80h-1.80zM430.35 95.36h1.80v1.80h-1.80zM430.35 96.49h1.80v1.80h-1.80zM430.35 97.63h1.80v1.80h-1.80zM430.35 98.77h1.80v1.80h-1.80zM430.35 99.90h1.80v1.80h-1.80zM430.35 101.04h1.80v1.80h-1.80zM430.35 102.18h1.80v1.80h-1.80zM430.35 103.31h1.80v1.80h-1.80zM430.35 104.45h1.80v1.80h-1.80zM430.35 105.59h1.80v1.80h-1.80zM440.85 79.45h1.80v1.80h-1.80zM440.85 80.58h1.80v1.80h-1.80zM440.85 81.72h1.80v1.80h-1.80zM440.85 82.86h1.80v1.80h-1.80zM440.85 83.99h1.80v1.80h-1.80zM440.85 85.13h1.80v1.80h-1.80zM440.85 86.26h1.80v1.80h-1.80zM440.85 87.40h1.80v1.80h-1.80zM440.85 88.54h1.80v1.80h-1.80zM440.85 89.67h1.80v1.80h-1.80zM440.85 90.81h1.80v1.80h-1.80zM440.85 91.95h1.80v1.80h-1.80zM440.85 93.08h1.80v1.80h-1.80zM440.85 94.22h1.80v1.80h-1.80zM440.85 95.36h1.80v1.80h-1.80zM440.85 96.49h1.80v1.80h-1.80zM440.85 97.63h1.80v1.80h-1.80zM440.85 98.77h1.80v1.80h-1.80zM440.85 99.90h1.80v1.80h-1.80zM440.85 101.04h1.80v1.80h-1.80zM440.85 102.18h1.80v1.80h-1.80zM440.85 103.31h1.80v1.80h-1.80zM440.85 104.45h1.80v1.80h-1.80zM440.85 105.59h1.80v1.80h-1.80zM419.85 80.75h1.80v1.80h-1.80zM419.85 81.88h1.80v1.80h-1.80zM419.85 83.01h1.80v1.80h-1.80zM419.85 84.14h1.80v1.80h-1.80zM419.85 85.27h1.80v1.80h-1.80zM419.85 86.40h1.80v1.80h-1.80zM419.85 87.53h1.80v1.80h-1.80zM419.85 88.65h1.80v1.80h-1.80zM419.85 89.78h1.80v1.80h-1.80zM419.85 90.91h1.80v1.80h-1.80zM419.85 92.04h1.80v1.80h-1.80zM419.85 93.17h1.80v1.80h-1.80zM419.85 94.30h1.80v1.80h-1.80zM419.85 95.43h1.80v1.80h-1.80zM419.85 96.56h1.80v1.80h-1.80zM419.85 97.68h1.80v1.80h-1.80zM419.85 98.81h1.80v1.80h-1.80zM419.85 99.94h1.80v1.80h-1.80zM419.85 101.07h1.80v1.80h-1.80zM419.85 102.20h1.80v1.80h-1.80zM419.85 103.33h1.80v1.80h-1.80zM419.85 104.46h1.80v1.80h-1.80zM419.85 105.59h1.80v1.80h-1.80zM451.35 80.75h1.80v1.80h-1.80zM451.35 81.88h1.80v1.80h-1.80zM451.35 83.01h1.80v1.80h-1.80zM451.35 84.14h1.80v1.80h-1.80zM451.35 85.27h1.80v1.80h-1.80zM451.35 86.40h1.80v1.80h-1.80zM451.35 87.53h1.80v1.80h-1.80zM451.35 88.65h1.80v1.80h-1.80zM451.35 89.78h1.80v1.80h-1.80zM451.35 90.91h1.80v1.80h-1.80zM451.35 92.04h1.80v1.80h-1.80zM451.35 93.17h1.80v1.80h-1.80zM451.35 94.30h1.80v1.80h-1.80zM451.35 95.43h1.80v1.80h-1.80zM451.35 96.56h1.80v1.80h-1.80zM451.35 97.68h1.80v1.80h-1.80zM451.35 98.81h1.80v1.80h-1.80zM451.35 99.94h1.80v1.80h-1.80zM451.35 101.07h1.80v1.80h-1.80zM451.35 102.20h1.80v1.80h-1.80zM451.35 103.33h1.80v1.80h-1.80zM451.35 104.46h1.80v1.80h-1.80zM451.35 105.59h1.80v1.80h-1.80zM409.35 83.04h1.80v1.80h-1.80zM409.35 84.17h1.80v1.80h-1.80zM409.35 85.29h1.80v1.80h-1.80zM409.35 86.42h1.80v1.80h-1.80zM409.35 87.55h1.80v1.80h-1.80zM409.35 88.68h1.80v1.80h-1.80zM409.35 89.80h1.80v1.80h-1.80zM409.35 90.93h1.80v1.80h-1.80zM409.35 92.06h1.80v1.80h-1.80zM409.35 93.19h1.80v1.80h-1.80zM409.35 94.31h1.80v1.80h-1.80zM409.35 95.44h1.80v1.80h-1.80zM409.35 96.57h1.80v1.80h-1.80zM409.35 97.69h1.80v1.80h-1.80zM409.35 98.82h1.80v1.80h-1.80zM409.35 99.95h1.80v1.80h-1.80zM409.35 101.08h1.80v1.80h-1.80zM409.35 102.20h1.80v1.80h-1.80zM409.35 103.33h1.80v1.80h-1.80zM409.35 104.46h1.80v1.80h-1.80zM409.35 105.59h1.80v1.80h-1.80zM461.85 83.04h1.80v1.80h-1.80zM461.85 84.17h1.80v1.80h-1.80zM461.85 85.29h1.80v1.80h-1.80zM461.85 86.42h1.80v1.80h-1.80zM461.85 87.55h1.80v1.80h-1.80zM461.85 88.68h1.80v1.80h-1.80zM461.85 89.80h1.80v1.80h-1.80zM461.85 90.93h1.80v1.80h-1.80zM461.85 92.06h1.80v1.80h-1.80zM461.85 93.19h1.80v1.80h-1.80zM461.85 94.31h1.80v1.80h-1.80zM461.85 95.44h1.80v1.80h-1.80zM461.85 96.57h1.80v1.80h-1.80zM461.85 97.69h1.80v1.80h-1.80zM461.85 98.82h1.80v1.80h-1.80zM461.85 99.95h1.80v1.80h-1.80zM461.85 101.08h1.80v1.80h-1.80zM461.85 102.20h1.80v1.80h-1.80zM461.85 103.33h1.80v1.80h-1.80zM461.85 104.46h1.80v1.80h-1.80zM461.85 105.59h1.80v1.80h-1.80zM398.85 86.31h1.80v1.80h-1.80zM398.85 87.46h1.80v1.80h-1.80zM398.85 88.62h1.80v1.80h-1.80zM398.85 89.77h1.80v1.80h-1.80zM398.85 90.93h1.80v1.80h-1.80zM398.85 92.08h1.80v1.80h-1.80zM398.85 93.23h1.80v1.80h-1.80zM398.85 94.39h1.80v1.80h-1.80zM398.85 95.54h1.80v1.80h-1.80zM398.85 96.70h1.80v1.80h-1.80zM398.85 97.85h1.80v1.80h-1.80zM398.85 99.01h1.80v1.80h-1.80zM398.85 100.16h1.80v1.80h-1.80zM398.85 101.32h1.80v1.80h-1.80zM398.85 102.47h1.80v1.80h-1.80zM398.85 103.62h1.80v1.80h-1.80zM472.35 86.31h1.80v1.80h-1.80zM472.35 87.46h1.80v1.80h-1.80zM472.35 88.62h1.80v1.80h-1.80zM472.35 89.77h1.80v1.80h-1.80zM472.35 90.93h1.80v1.80h-1.80zM472.35 92.08h1.80v1.80h-1.80zM472.35 93.23h1.80v1.80h-1.80zM472.35 94.39h1.80v1.80h-1.80zM472.35 95.54h1.80v1.80h-1.80zM472.35 96.70h1.80v1.80h-1.80zM472.35 97.85h1.80v1.80h-1.80zM472.35 99.01h1.80v1.80h-1.80zM472.35 100.16h1.80v1.80h-1.80zM472.35 101.32h1.80v1.80h-1.80zM472.35 102.47h1.80v1.80h-1.80zM472.35 103.62h1.80v1.80h-1.80zM388.35 90.55h1.80v1.80h-1.80zM388.35 91.81h1.80v1.80h-1.80zM388.35 93.06h1.80v1.80h-1.80zM388.35 94.31h1.80v1.80h-1.80zM388.35 95.57h1.80v1.80h-1.80zM388.35 96.82h1.80v1.80h-1.80zM388.35 98.07h1.80v1.80h-1.80zM482.85 90.55h1.80v1.80h-1.80zM482.85 91.81h1.80v1.80h-1.80zM482.85 93.06h1.80v1.80h-1.80zM482.85 94.31h1.80v1.80h-1.80zM482.85 95.57h1.80v1.80h-1.80zM482.85 96.82h1.80v1.80h-1.80zM482.85 98.07h1.80v1.80h-1.80zM377.85 127.38h1.80v1.80h-1.80zM377.85 132.22h1.80v1.80h-1.80zM493.35 127.38h1.80v1.80h-1.80zM493.35 132.22h1.80v1.80h-1.80zM356.85 121.60h1.80v1.80h-1.80zM356.85 123.23h1.80v1.80h-1.80zM356.85 125.68h1.80v1.80h-1.80zM514.35 121.60h1.80v1.80h-1.80zM514.35 123.23h1.80v1.80h-1.80zM514.35 125.68h1.80v1.80h-1.80zM346.35 121.60h1.80v1.80h-1.80zM346.35 123.23h1.80v1.80h-1.80zM346.35 125.68h1.80v1.80h-1.80zM524.85 121.60h1.80v1.80h-1.80zM524.85 123.23h1.80v1.80h-1.80zM524.85 125.68h1.80v1.80h-1.80zM335.85 121.60h1.80v1.80h-1.80zM335.85 124.86h1.80v1.80h-1.80zM335.85 129.11h1.80v1.80h-1.80zM335.85 134.83h1.80v1.80h-1.80zM535.35 121.60h1.80v1.80h-1.80zM535.35 124.86h1.80v1.80h-1.80zM535.35 129.11h1.80v1.80h-1.80zM535.35 134.83h1.80v1.80h-1.80z" fill="#9400d3"/>
<path d="M430.35 120.94h1.80v1.80h-1.80zM440.85 120.94h1.80v1.80h-1.80zM419.85 120.94h1.80v1.80h-1.80zM451.35 120.94h1.80v1.80h-1.80zM409.35 120.94h1.80v1.80h-1.80zM461.85 120.94h1.80v1.80h-1.80zM398.85 120.94h1.80v1.80h-1.80zM472.35 120.94h1.80v1.80h-1.80zM388.35 120.94h1.80v1.80h-1.80zM482.85 120.94h1.80v1.80h-1.80zM377.85 123.56h1.80v1.80h-1.80zM493.35 123.56h1.80v1.80h-1.80zM367.35 123.56h1.80v1.80h-1.80zM367.35 106.89h1.80v1.80h-1.80zM367.35 98.72h1.80v1.80h-1.80zM503.85 123.56h1.80v1.80h-1.80zM503.85 106.89h1.80v1.80h-1.80zM503.85 98.72h1.80v1.80h-1.80zM356.85 97.09h1.80v1.80h-1.80zM356.85 105.26h1.80v1.80h-1.80zM514.35 97.09h1.80v1.80h-1.80zM514.35 105.26h1.80v1.80h-1.80zM346.35 95.46h1.80v1.80h-1.80zM346.35 87.29h1.80v1.80h-1.80zM346.35 77.48h1.80v1.80h-1.80zM346.35 103.62h1.80v1.80h-1.80zM524.85 95.46h1.80v1.80h-1.80zM524.85 87.29h1.80v1.80h-1.80zM524.85 77.48h1.80v1.80h-1.80zM524.85 103.62h1.80v1.80h-1.80zM335.85 59.19h1.80v1.80h-1.80zM335.85 74.22h1.80v1.80h-1.80zM335.85 88.92h1.80v1.80h-1.80zM335.85 100.36h1.80v1.80h-1.80zM535.35 59.19h1.80v1.80h-1.80zM535.35 74.22h1.80v1.80h-1.80zM535.35 88.92h1.80v1.80h-1.80zM535.35 100.36h1.80v1.80h-1.80z" fill="#009e73"/>
<path d="M430.35 105.59h1.80v1.80h-1.80zM430.35 106.89h1.80v1.80h-1.80zM430.35 108.20h1.80v1.80h-1.80zM430.35 109.51h1.80v1.80h-1.80zM430.35 110.81h1.80v1.80h-1.80zM430.35 112.12h1.80v1.80h-1.80zM430.35 113.43h1.80v1.80h-1.80zM430.35 114.73h1.80v1.80h-1.80zM430.35 116.04h1.80v1.80h-1.80zM430.35 117.35h1.80v1.80h-1.80zM430.35 118.66h1.80v1.80h-1.80zM430.35 119.96h1.80v1.80h-1.80zM440.85 105.59h1.80v1.80h-1.80zM440.85 106.89h1.80v1.80h-1.80zM440.85 108.20h1.80v1.80h-1.80zM440.85 109.51h1.80v1.80h-1.80zM440.85 110.81h1.80v1.80h-1.80zM440.85 112.12h1.80v1.80h-1.80zM440.85 113.43h1.80v1.80h-1.80zM440.85 114.73h1.80v1.80h-1.80zM440.85 116.04h1.80v1.80h-1.80zM440.85 117.35h1.80v1.80h-1.80zM440.85 118.66h1.80v1.80h-1.80zM440.85 119.96h1.80v1.80h-1.80zM419.85 105.59h1.80v1.80h-1.80zM419.85 106.89h1.80v1.80h-1.80zM419.85 108.20h1.80v1.80h-1.80zM419.85 109.51h1.80v1.80h-1.80zM419.85 110.81h1.80v1.80h-1.80zM419.85 112.12h1.80v1.80h-1.80zM419.85 113.43h1.80v1.80h-1.80zM419.85 114.73h1.80v1.80h-1.80zM419.85 116.04h1.80v1.80h-1.80zM419.85 117.35h1.80v1.80h-1.80zM419.85 118.66h1.80v1.80h-1.80zM419.85 119.96h1.80v1.80h-1.80zM451.35 105.59h1.80v1.80h-1.80zM451.35 106.89h1.80v1.80h-1.80zM451.35 108.20h1.80v1.80h-1.80zM451.35 109.51h1.80v1.80h-1.80zM451.35 110.81h1.80v1.80h-1.80zM451.35 112.12h1.80v1.80h-1.80zM451.35 113.43h1.80v1.80h-1.80zM451.35 114.73h1.80v1.80h-1.80zM451.35 116.04h1.80v1.80h-1.80zM451.35 117.35h1.80v1.80h-1.80zM451.35 118.66h1.80v1.80h-1.80zM451.35 119.96h1.80v1.80h-1.80zM409.35 105.59h1.80v1.80h-1.80zM409.35 106.89h1.80v1.80h-1.80zM409.35 108.20h1.80v1.80h-1.80zM409.35 109.51h1.80v1.80h-1.80zM409.35 110.81h1.80v1.80h-1.80zM409.35 112.12h1.80v1.80h-1.80zM409.35 113.43h1.80v1.80h-1.80zM409.35 114.73h1.80v1.80h-1.80zM409.35 116.04h1.80v1.80h-1.80zM409.35 117.35h1.80v1.80h-1.80zM409.35 118.66h1.80v1.80h-1.80zM409.35 119.96h1.80v1.80h-1.80zM461.85 105.59h1.80v1.80h-1.80zM461.85 106.89h1.80v1.80h-1.80zM461.85 108.20h1.80v1.80h-1.80zM461.85 109.51h1.80v1.80h-1.80zM461.85 110.81h1.80v1.80h-1.80zM461.85 112.12h1.80v1.80h-1.80zM461.85 113.43h1.80v1.80h-1.80zM461.85 114.73h1.80v1.80h-1.80zM461.85 116.04h1.80v1.80h-1.80zM461.85 117.35h1.80v1.80h-1.80zM461.85 118.66h1.80v1.80h-1.80zM461.85 119.96h1.80v1.80h-1.80zM398.85 103.62h1.80v1.80h-1.80zM398.85 104.88h1.80v1.80h-1.80zM398.85 106.14h1.80v1.80h-1.80zM398.85 107.40h1.80v1.80h-1.80zM398.85 108.65h1.80v1.80h-1.80zM398.85 109.91h1.80v1.80h-1.80zM398.85 111.17h1.80v1.80h-1.80zM398.85 112.42h1.80v1.80h-1.80zM398.85 113.68h1.80v1.80h-1.80zM398.85 114.94h1.80v1.80h-1.80zM398.85 116.19h1.80v1.80h-1.80zM398.85 117.45h1.80v1.80h-1.80zM398.85 118.71h1.80v1.80h-1.80zM398.85 119.96h1.80v1.80h-1.80zM472.35 103.62h1.80v1.80h-1.80zM472.35 104.88h1.80v1.80h-1.80zM472.35 106.14h1.80v1.80h-1.80zM472.35 107.40h1.80v1.80h-1.80zM472.35 108.65h1.80v1.80h-1.80zM472.35 109.91h1.80v1.80h-1.80zM472.35 111.17h1.80v1.80h-1.80zM472.35 112.42h1.80v1.80h-1.80zM472.35 113.68h1.80v1.80h-1.80zM472.35 114.94h1.80v1.80h-1.80zM472.35 116.19h1.80v1.80h-1.80zM472.35 117.45h1.80v1.80h-1.80zM472.35 118.71h1.80v1.80h-1.80zM472.35 119.96h1.80v1.80h-1.80zM388.35 98.07h1.80v1.80h-1.80zM388.35 99.29h1.80v1.80h-1.80zM388.35 100.50h1.80v1.80h-1.80zM388.35 101.72h1.80v1.80h-1.80zM388.35 102.94h1.80v1.80h-1.80zM388.35 104.15h1.80v1.80h-1.80zM388.35 105.37h1.80v1.80h-1.80zM388.35 106.58h1.80v1.80h-1.80zM388.35 107.80h1.80v1.80h-1.80zM388.35 109.02h1.80v1.80h-1.80zM388.35 110.23h1.80v1.80h-1.80zM388.35 111.45h1.80v1.80h-1.80zM388.35 112.67h1.80v1.80h-1.80zM388.35 113.88h1.80v1.80h-1.80zM388.35 115.10h1.80v1.80h-1.80zM388.35 116.31h1.80v1.80h-1.80zM388.35 117.53h1.80v1.80h-1.80zM388.35 118.75h1.80v1.80h-1.80zM388.35 119.96h1.80v1.80h-1.80zM482.85 98.07h1.80v1.80h-1.80zM482.85 99.29h1.80v1.80h-1.80zM482.85 100.50h1.80v1.80h-1.80zM482.85 101.72h1.80v1.80h-1.80zM482.85 102.94h1.80v1.80h-1.80zM482.85 104.15h1.80v1.80h-1.80zM482.85 105.37h1.80v1.80h-1.80zM482.85 106.58h1.80v1.80h-1.80zM482.85 107.80h1.80v1.80h-1.80zM482.85 109.02h1.80v1.80h-1.80zM482.85 110.23h1.80v1.80h-1.80zM482.85 111.45h1.80v1.80h-1.80zM482.85 112.67h1.80v1.80h-1.80zM482.85 113.88h1.80v1.80h-1.80zM482.85 115.10h1.80v1.80h-1.80zM482.85 116.31h1.80v1.80h-1.80zM482.85 117.53h1.80v1.80h-1.80zM482.85 118.75h1.80v1.80h-1.80zM482.85 119.96h1.80v1.80h-1.80zM377.85 90.55h1.80v1.80h-1.80zM377.85 91.78h1.80v1.80h-1.80zM377.85 93.01h1.80v1.80h-1.80zM377.85 94.23h1.80v1.80h-1.80zM377.85 95.46h1.80v1.80h-1.80zM377.85 96.68h1.80v1.80h-1.80zM377.85 97.91h1.80v1.80h-1.80zM377.85 99.13h1.80v1.80h-1.80zM377.85 100.36h1.80v1.80h-1.80zM377.85 101.58h1.80v1.80h-1.80zM377.85 102.81h1.80v1.80h-1.80zM377.85 104.03h1.80v1.80h-1.80zM377.85 105.26h1.80v1.80h-1.80zM377.85 106.48h1.80v1.80h-1.80zM377.85 107.71h1.80v1.80h-1.80zM377.85 108.93h1.80v1.80h-1.80zM377.85 110.16h1.80v1.80h-1.80zM377.85 111.39h1.80v1.80h-1.80zM377.85 112.61h1.80v1.80h-1.80zM377.85 113.84h1.80v1.80h-1.80zM377.85 115.06h1.80v1.80h-1.80zM377.85 116.29h1.80v1.80h-1.80zM377.85 117.51h1.80v1.80h-1.80zM377.85 118.74h1.80v1.80h-1.80zM377.85 119.96h1.80v1.80h-1.80zM493.35 90.55h1.80v1.80h-1.80zM493.35 91.78h1.80v1.80h-1.80zM493.35 93.01h1.80v1.80h-1.80zM493.35 94.23h1.80v1.80h-1.80zM493.35 95.46h1.80v1.80h-1.80zM493.35 96.68h1.80v1.80h-1.80zM493.35 97.91h1.80v1.80h-1.80zM493.35 99.13h1.80v1.80h-1.80zM493.35 100.36h1.80v1.80h-1.80zM493.35 101.58h1.80v1.80h-1.80zM493.35 102.81h1.80v1.80h-1.80zM493.35 104.03h1.80v1.80h-1.80zM493.35 105.26h1.80v1.80h-1.80zM493.35 106.48h1.80v1.80h-1.80zM493.35 107.71h1.80v1.80h-1.80zM493.35 108.93h1.80v1.80h-1.80zM493.35 110.16h1.80v1.80h-1.80zM493.35 111.39h1.80v1.80h-1.80zM493.35 112.61h1.80v1.80h-1.80zM493.35 113.84h1.80v1.80h-1.80zM493.35 115.06h1.80v1.80h-1.80zM493.35 116.29h1.80v1.80h-1.80zM493.35 117.51h1.80v1.80h-1.80zM493.35 118.74h1.80v1.80h-1.80zM493.35 119.96h1.80v1.80h-1.80zM367.35 87.29h1.80v1.80h-1.80zM367.35 88.50h1.80v1.80h-1.80zM367.35 89.71h1.80v1.80h-1.80zM367.35 90.92h1.80v1.80h-1.80zM367.35 92.13h1.80v1.80h-1.80zM367.35 93.34h1.80v1.80h-1.80zM367.35 94.55h1.80v1.80h-1.80zM367.35 95.76h1.80v1.80h-1.80zM367.35 96.97h1.80v1.80h-1.80zM367.35 98.18h1.80v1.80h-1.80zM367.35 99.39h1.80v1.80h-1.80zM367.35 100.60h1.80v1.80h-1.80zM367.35 101.81h1.80v1.80h-1.80zM367.35 103.02h1.80v1.80h-1.80zM367.35 104.23h1.80v1.80h-1.80zM367.35 105.44h1.80v1.80h-1.80zM367.35 106.65h1.80v1.80h-1.80zM367.35 107.86h1.80v1.80h-1.80zM367.35 109.07h1.80v1.80h-1.80zM367.35 110.28h1.80v1.80h-1.80zM367.35 111.49h1.80v1.80h-1.80zM367.35 112.70h1.80v1.80h-1.80zM367.35 113.91h1.80v1.80h-1.80zM367.35 115.12h1.80v1.80h-1.80zM367.35 116.33h1.80v1.80h-1.80zM367.35 117.54h1.80v1.80h-1.80zM367.35 118.75h1.80v1.80h-1.80zM367.35 119.96h1.80v1.80h-1.80zM367.35 79.45h1.80v1.80h-1.80zM367.35 82.06h1.80v1.80h-1.80zM367.35 84.67h1.80v1.80h-1.80zM367.35 87.29h1.80v1.80h-1.80zM503.85 87.29h1.80v1.80h-1.80zM503.85 88.50h1.80v1.80h-1.80zM503.85 89.71h1.80v1.80h-1.80zM503.85 90.92h1.80v1.80h-1.80zM503.85 92.13h1.80v1.80h-1.80zM503.85 93.34h1.80v1.80h-1.80zM503.85 94.55h1.80v1.80h-1.80zM503.85 95.76h1.80v1.80h-1.80zM503.85 96.97h1.80v1.80h-1.80zM503.85 98.18h1.80v1.80h-1.80zM503.85 99.39h1.80v1.80h-1.80zM503.85 100.60h1.80v1.80h-1.80zM503.85 101.81h1.80v1.80h-1.80zM503.85 103.02h1.80v1.80h-1.80zM503.85 104.23h1.80v1.80h-1.80zM503.85 105.44h1.80v1.80h-1.80zM503.85 106.65h1.80v1.80h-1.80zM503.85 107.86h1.80v1.80h-1.80zM503.85 109.07h1.80v1.80h-1.80zM503.85 110.28h1.80v1.80h-1.80zM503.85 111.49h1.80v1.80h-1.80zM503.85 112.70h1.80v1.80h-1.80zM503.85 113.91h1.80v1.80h-1.80zM503.85 115.12h1.80v1.80h-1.80zM503.85 116.33h1.80v1.80h-1.80zM503.85 117.54h1.80v1.80h-1.80zM503.85 118.75h1.80v1.80h-1.80zM503.85 119.96h1.80v1.80h-1.80zM503.85 79.45h1.80v1.80h-1.80zM503.85 82.06h1.80v1.80h-1.80zM503.85 84.67h1.80v1.80h-1.80zM503.85 87.29h1.80v1.80h-1.80zM356.85 100.36h1.80v1.80h-1.80zM356.85 101.58h1.80v1.80h-1.80zM356.85 102.81h1.80v1.80h-1.80zM356.85 104.03h1.80v1.80h-1.80zM356.85 105.26h1.80v1.80h-1.80zM356.85 106.48h1.80v1.80h-1.80zM356.85 107.71h1.80v1.80h-1.80zM356.85 108.93h1.80v1.80h-1.80zM356.85 110.16h1.80v1.80h-1.80zM356.85 111.39h1.80v1.80h-1.80zM356.85 112.61h1.80v1.80h-1.80zM356.85 113.84h1.80v1.80h-1.80zM356.85 115.06h1.80v1.80h-1.80zM356.85 116.29h1.80v1.80h-1.80zM356.85 117.51h1.80v1.80h-1.80zM356.85 118.74h1.80v1.80h-1.80zM356.85 119.96h1.80v1.80h-1.80zM356.85 56.25h1.80v1.80h-1.80zM356.85 59.00h1.80v1.80h-1.80zM356.85 61.76h1.80v1.80h-1.80zM356.85 64.52h1.80v1.80h-1.80zM356.85 67.27h1.80v1.80h-1.80zM356.85 70.03h1.80v1.80h-1.80zM356.85 72.79h1.80v1.80h-1.80zM356.85 75.54h1.80v1.80h-1.80zM356.85 78.30h1.80v1.80h-1.80zM356.85 81.06h1.80v1.80h-1.80zM356.85 83.82h1.80v1.80h-1.80zM356.85 86.57h1.80v1.80h-1.80zM356.85 89.33h1.80v1.80h-1.80zM356.85 92.09h1.80v1.80h-1.80zM356.85 94.84h1.80v1.80h-1.80zM356.85 97.60h1.80v1.80h-1.80zM356.85 100.36h1.80v1.80h-1.80zM514.35 100.36h1.80v1.80h-1.80zM514.35 101.58h1.80v1.80h-1.80zM514.35 102.81h1.80v1.80h-1.80zM514.35 104.03h1.80v1.80h-1.80zM514.35 105.26h1.80v1.80h-1.80zM514.35 106.48h1.80v1.80h-1.80zM514.35 107.71h1.80v1.80h-1.80zM514.35 108.93h1.80v1.80h-1.80zM514.35 110.16h1.80v1.80h-1.80zM514.35 111.39h1.80v1.80h-1.80zM514.35 112.61h1.80v1.80h-1.80zM514.35 113.84h1.80v1.80h-1.80zM514.35 115.06h1.80v1.80h-1.80zM514.35 116.29h1.80v1.80h-1.80zM514.35 117.51h1.80v1.80h-1.80zM514.35 118.74h1.80v1.80h-1.80zM514.35 119.96h1.80v1.80h-1.80zM514.35 56.25h1.80v1.80h-1.80zM514.35 59.00h1.80v1.80h-1.80zM514.35 61.76h1.80v1.80h-1.80zM514.35 64.52h1.80v1.80h-1.80zM514.35 67.27h1.80v1.80h-1.80zM514.35 70.03h1.80v1.80h-1.80zM514.35 72.79h1.80v1.80h-1.80zM514.35 75.54h1.80v1.80h-1.80zM514.35 78.30h1.80v1.80h-1.80zM514.35 81.06h1.80v1.80h-1.80zM514.35 83.82h1.80v1.80h-1.80zM514.35 86.57h1.80v1.80h-1.80zM514.35 89.33h1.80v1.80h-1.80zM514.35 92.09h1.80v1.80h-1.80zM514.35 94.84h1.80v1.80h-1.80zM514.35 97.60h1.80v1.80h-1.80zM514.35 100.36h1.80v1.80h-1.80zM346.35 100.36h1.80v1.80h-1.80zM346.35 101.58h1.80v1.80h-1.80zM346.35 102.81h1.80v1.80h-1.80zM346.35 104.03h1.80v1.80h-1.80zM346.35 105.26h1.80v1.80h-1.80zM346.35 106.48h1.80v1.80h-1.80zM346.35 107.71h1.80v1.80h-1.80zM346.35 108.93h1.80v1.80h-1.80zM346.35 110.16h1.80v1.80h-1.80zM346.35 111.39h1.80v1.80h-1.80zM346.35 112.61h1.80v1.80h-1.80zM346.35 113.84h1.80v1.80h-1.80zM346.35 115.06h1.80v1.80h-1.80zM346.35 116.29h1.80v1.80h-1.80zM346.35 117.51h1.80v1.80h-1.80zM346.35 118.74h1.80v1.80h-1.80zM346.35 119.96h1.80v1.80h-1.80zM346.35 19.32h1.80v1.80h-1.80zM346.35 21.94h1.80v1.80h-1.80zM346.35 24.55h1.80v1.80h-1.80zM346.35 27.17h1.80v1.80h-1.80zM346.35 29.78h1.80v1.80h-1.80zM346.35 32.39h1.80v1.80h-1.80zM346.35 35.01h1.80v1.80h-1.80zM346.35 37.62h1.80v1.80h-1.80zM346.35 40.24h1.80v1.80h-1.80zM346.35 42.85h1.80v1.80h-1.80zM346.35 45.46h1.80v1.80h-1.80zM346.35 48.08h1.80v1.80h-1.80zM346.35 50.69h1.80v1.80h-1.80zM346.35 53.31h1.80v1.80h-1.80zM346.35 55.92h1.80v1.80h-1.80zM346.35 58.53h1.80v1.80h-1.80zM346.35 61.15h1.80v1.80h-1.80zM346.35 63.76h1.80v1.80h-1.80zM346.35 66.38h1.80v1.80h-1.80zM346.35 68.99h1.80v1.80h-1.80zM346.35 71.60h1.80v1.80h-1.80zM346.35 74.22h1.80v1.80h-1.80zM346.35 76.83h1.80v1.80h-1.80zM346.35 79.45h1.80v1.80h-1.80zM346.35 82.06h1.80v1.80h-1.80zM346.35 84.67h1.80v1.80h-1.80zM346.35 87.29h1.80v1.80h-1.80zM346.35 89.90h1.80v1.80h-1.80zM346.35 92.52h1.80v1.80h-1.80zM346.35 95.13h1.80v1.80h-1.80zM346.35 97.74h1.80v1.80h-1.80zM346.35 100.36h1.80v1.80h-1.80zM524.85 100.36h1.80v1.80h-1.80zM524.85 101.58h1.80v1.80h-1.80zM524.85 102.81h1.80v1.80h-1.80zM524.85 104.03h1.80v1.80h-1.80zM524.85 105.26h1.80v1.80h-1.80zM524.85 106.48h1.80v1.80h-1.80zM524.85 107.71h1.80v1.80h-1.80zM524.85 108.93h1.80v1.80h-1.80zM524.85 110.16h1.80v1.80h-1.80zM524.85 111.39h1.80v1.80h-1.80zM524.85 112.61h1.80v1.80h-1.80zM524.85 113.84h1.80v1.80h-1.80zM524.85 115.06h1.80v1.80h-1.80zM524.85 116.29h1.80v1.80h-1.80zM524.85 117.51h1.80v1.80h-1.80zM524.85 118.74h1.80v1.80h-1.80zM524.85 119.96h1.80v1.80h-1.80zM524.85 19.32h1.80v1.80h-1.80zM524.85 21.94h1.80v1.80h-1.80zM524.85 24.55h1.80v1.80h-1.80zM524.85 27.17h1.80v1.80h-1.80zM524.85 29.78h1.80v1.80h-1.80zM524.85 32.39h1.80v1.80h-1.80zM524.85 35.01h1.80v1.80h-1.80zM524.85 37.62h1.80v1.80h-1.80zM524.85 40.24h1.80v1.80h-1.80zM524.85 42.85h1.80v1.80h-1.80zM524.85 45.46h1.80v1.80h-1.80zM524.85 48.08h1.80v1.80h-1.80zM524.85 50.69h1.80v1.80h-1.80zM524.85 53.31h1.80v1.80h-1.80zM524.85 55.92h1.80v1.80h-1.80zM524.85 58.53h1.80v1.80h-1.80zM524.85 61.15h1.80v1.80h-1.80zM524.85 63.76h1.80v1.80h-1.80zM524.85 66.38h1.80v1.80h-1.80zM524.85 68.99h1.80v1.80h-1.80zM524.85 71.60h1.80v1.80h-1.80zM524.85 74.22h1.80v1.80h-1.80zM524.85 76.83h1.80v1.80h-1.80zM524.85 79.45h1.80v1.80h-1.80zM524.85 82.06h1.80v1.80h-1.80zM524.85 84.67h1.80v1.80h-1.80zM524.85 87.29h1.80v1.80h-1.80zM524.85 89.90h1.80v1.80h-1.80zM524.85 92.52h1.80v1.80h-1.80zM524.85 95.13h1.80v1.80h-1.80zM524.85 97.74h1.80v1.80h-1.80zM524.85 100.36h1.80v1.80h-1.80zM335.85 100.36h1.80v1.80h-1.80zM335.85 101.58h1.80v1.80h-1.80zM335.85 102.81h1.80v1.80h-1.80zM335.85 104.03h1.80v1.80h-1.80zM335.85 105.26h1.80v1.80h-1.80zM335.85 106.48h1.80v1.80h-1.80zM335.85 107.71h1.80v1.80h-1.80zM335.85 108.93h1.80v1.80h-1.80zM335.85 110.16h1.80v1.80h-1.80zM335.85 111.39h1.80v1.80h-1.80zM335.85 112.61h1.80v1.80h-1.80zM335.85 113.84h1.80v1.80h-1.80zM335.85 115.06h1.80v1.80h-1.80zM335.85 116.29h1.80v1.80h-1.80zM335.85 117.51h1.80v1.80h-1.80zM335.85 118.74h1.80v1.80h-1.80zM335.85 119.96h1.80v1.80h-1.80zM335.85 35.66h1.80v1.80h-1.80zM335.85 38.36h1.80v1.80h-1.80zM335.85 41.05h1.80v1.80h-1.80zM335.85 43.75h1.80v1.80h-1.80zM335.85 46.44h1.80v1.80h-1.80zM335.85 49.14h1.80v1.80h-1.80zM335.85 51.84h1.80v1.80h-1.80zM335.85 54.53h1.80v1.80h-1.80zM335.85 57.23h1.80v1.80h-1.80zM335.85 59.92h1.80v1.80h-1.80zM335.85 62.62h1.80v1.80h-1.80zM335.85 65.31h1.80v1.80h-1.80zM335.85 68.01h1.80v1.80h-1.80zM335.85 70.70h1.80v1.80h-1.80zM335.85 73.40h1.80v1.80h-1.80zM335.85 76.10h1.80v1.80h-1.80zM335.85 78.79h1.80v1.80h-1.80zM335.85 81.49h1.80v1.80h-1.80zM335.85 84.18h1.80v1.80h-1.80zM335.85 86.88h1.80v1.80h-1.80zM335.85 89.57h1.80v1.80h-1.80zM335.85 92.27h1.80v1.80h-1.80zM335.85 94.97h1.80v1.80h-1.80zM335.85 97.66h1.80v1.80h-1.80zM335.85 100.36h1.80v1.80h-1.80zM535.35 100.36h1.80v1.80h-1.80zM535.35 101.58h1.80v1.80h-1.80zM535.35 102.81h1.80v1.80h-1.80zM535.35 104.03h1.80v1.80h-1.80zM535.35 105.26h1.80v1.80h-1.80zM535.35 106.48h1.80v1.80h-1.80zM535.35 107.71h1.80v1.80h-1.80zM535.35 108.93h1.80v1.80h-1.80zM535.35 110.16h1.80v1.80h-1.80zM535.35 111.39h1.80v1.80h-1.80zM535.35 112.61h1.80v1.80h-1.80zM535.35 113.84h1.80v1.80h-1.80zM535.35 115.06h1.80v1.80h-1.80zM535.35 116.29h1.80v1.80h-1.80zM535.35 117.51h1.80v1.80h-1.80zM535.35 118.74h1.80v1.80h-1.80zM535.35 119.96h1.80v1.80h-1.80zM535.35 35.66h1.80v1.80h-1.80zM535.35 38.36h1.80v1.80h-1.80zM535.35 41.05h1.80v1.80h-1.80zM535.35 43.75h1.80v1.80h-1.80zM535.35 46.44h1.80v1.80h-1.80zM535.35 49.14h1.80v1.80h-1.80zM535.35 51.84h1.80v1.80h-1.80zM535.35 54.53h1.80v1.80h-1.80zM535.35 57.23h1.80v1.80h-1.80zM535.35 59.92h1.80v1.80h-1.80zM535.35 62.62h1.80v1.80h-1.80zM535.35 65.31h1.80v1.80h-1.80zM535.35 68.01h1.80v1.80h-1.80zM535.35 70.70h1.80v1.80h-1.80zM535.35 73.40h1.80v1.80h-1.80zM535.35 76.10h1.80v1.80h-1.80zM535.35 78.79h1.80v1.80h-1.80zM535.35 81.49h1.80v1.80h-1.80zM535.35 84.18h1.80v1.80h-1.80zM535.35 86.88h1.80v1.80h-1.80zM535.35 89.57h1.80v1.80h-1.80zM535.35 92.27h1.80v1.80h-1.80zM535.35 94.97h1.80v1.80h-1.80zM535.35 97.66h1.80v1.80h-1.80zM535.35 100.36h1.80v1.80h-1.80z" fill="#56b4e9"/>
<path d="M335.90 120.01h1.70v1.70h-1.70z" fill="#009e73"/>
<path d="M330.78 286.78h1.44v1.44h-1.44zM333.12 285.76h1.44v1.44h-1.44zM335.46 284.39h1.44v1.44h-1.44zM337.80 282.86h1.44v1.44h-1.44zM340.14 281.21h1.44v1.44h-1.44zM342.47 279.47h1.44v1.44h-1.44zM344.81 277.67h1.44v1.44h-1.44zM347.15 275.81h1.44v1.44h-1.44zM349.49 273.93h1.44v1.44h-1.44zM351.83 272.02h1.44v1.44h-1.44zM354.17 270.10h1.44v1.44h-1.44zM356.51 268.18h1.44v1.44h-1.44zM358.85 266.28h1.44v1.44h-1.44zM361.19 264.40h1.44v1.44h-1.44zM363.52 262.56h1.44v1.44h-1.44zM365.86 260.77h1.44v1.44h-1.44zM368.20 259.03h1.44v1.44h-1.44zM370.54 257.37h1.44v1.44h-1.44zM372.88 255.78h1.44v1.44h-1.44zM375.22 254.29h1.44v1.44h-1.44zM377.56 252.90h1.44v1.44h-1.44zM379.90 251.61h1.44v1.44h-1.44zM382.24 250.45h1.44v1.44h-1.44zM384.57 249.43h1.44v1.44h-1.44zM386.91 248.53h1.44v1.44h-1.44zM389.25 247.79h1.44v1.44h-1.44zM391.59 247.20h1.44v1.44h-1.44zM393.93 246.78h1.44v1.44h-1.44zM396.27 246.52h1.44v1.44h-1.44zM398.61 246.44h1.44v1.44h-1.44zM400.95 246.53h1.44v1.44h-1.44zM403.29 246.81h1.44v1.44h-1.44zM405.62 247.27h1.44v1.44h-1.44zM407.96 247.91h1.44v1.44h-1.44zM410.30 248.75h1.44v1.44h-1.44zM412.64 249.77h1.44v1.44h-1.44zM414.98 250.98h1.44v1.44h-1.44zM417.32 252.36h1.44v1.44h-1.44zM419.66 253.93h1.44v1.44h-1.44zM422.00 255.67h1.44v1.44h-1.44zM424.34 257.58h1.44v1.44h-1.44zM426.67 259.65h1.44v1.44h-1.44zM429.01 261.87h1.44v1.44h-1.44zM431.35 264.23h1.44v1.44h-1.44zM433.69 266.73h1.44v1.44h-1.44zM436.03 269.34h1.44v1.44h-1.44zM438.37 272.07h1.44v1.44h-1.44zM440.71 274.88h1.44v1.44h-1.44zM443.05 277.78h1.44v1.44h-1.44zM445.39 280.74h1.44v1.44h-1.44zM447.72 283.74h1.44v1.44h-1.44zM450.06 286.78h1.44v1.44h-1.44zM452.40 290.48h1.44v1.44h-1.44zM457.08 296.70h1.44v1.44h-1.44zM461.76 299.77h1.44v1.44h-1.44zM466.44 298.71h1.44v1.44h-1.44zM471.11 293.87h1.44v1.44h-1.44zM330.78 286.78h1.44v1.44h-1.44zM333.12 285.81h1.44v1.44h-1.44zM335.46 284.51h1.44v1.44h-1.44zM337.80 283.05h1.44v1.44h-1.44zM340.14 281.48h1.44v1.44h-1.44zM342.47 279.83h1.44v1.44h-1.44zM344.81 278.11h1.44v1.44h-1.44zM347.15 276.35h1.44v1.44h-1.44zM349.49 274.55h1.44v1.44h-1.44zM351.83 272.74h1.44v1.44h-1.44zM354.17 270.91h1.44v1.44h-1.44zM356.51 269.09h1.44v1.44h-1.44zM358.85 267.28h1.44v1.44h-1.44zM361.19 265.49h1.44v1.44h-1.44zM363.52 263.74h1.44v1.44h-1.44zM365.86 262.04h1.44v1.44h-1.44zM368.20 260.39h1.44v1.44h-1.44zM370.54 258.80h1.44v1.44h-1.44zM372.88 257.29h1.44v1.44h-1.44zM375.22 255.87h1.44v1.44h-1.44zM377.56 254.55h1.44v1.44h-1.44zM379.90 253.33h1.44v1.44h-1.44zM382.24 252.23h1.44v1.44h-1.44zM384.57 251.25h1.44v1.44h-1.44zM386.91 250.40h1.44v1.44h-1.44zM389.25 249.69h1.44v1.44h-1.44zM391.59 249.13h1.44v1.44h-1.44zM393.93 248.73h1.44v1.44h-1.44zM396.27 248.48h1.44v1.44h-1.44zM398.61 248.40h1.44v1.44h-1.44zM400.95 248.49h1.44v1.44h-1.44zM403.29 248.76h1.44v1.44h-1.44zM405.62 249.19h1.44v1.44h-1.44zM407.96 249.81h1.44v1.44h-1.44zM410.30 250.60h1.44v1.44h-1.44zM412.64 251.57h1.44v1.44h-1.44zM414.98 252.72h1.44v1.44h-1.44zM417.32 254.04h1.44v1.44h-1.44zM419.66 255.53h1.44v1.44h-1.44zM422.00 257.19h1.44v1.44h-1.44zM424.34 259.00h1.44v1.44h-1.44zM426.67 260.97h1.44v1.44h-1.44zM429.01 263.09h1.44v1.44h-1.44zM431.35 265.33h1.44v1.44h-1.44zM433.69 267.71h1.44v1.44h-1.44zM436.03 270.19h1.44v1.44h-1.44zM438.37 272.78h1.44v1.44h-1.44zM440.71 275.46h1.44v1.44h-1.44zM443.05 278.22h1.44v1.44h-1.44zM445.39 281.03h1.44v1.44h-1.44zM447.72 283.89h1.44v1.44h-1.44zM450.06 286.78h1.44v1.44h-1.44zM330.78 286.78h1.44v1.44h-1.44zM333.12 285.86h1.44v1.44h-1.44zM335.46 284.62h1.44v1.44h-1.44zM337.80 283.24h1.44v1.44h-1.44zM340.14 281.75h1.44v1.44h-1.44zM342.47 280.18h1.44v1.44h-1.44zM344.81 278.56h1.44v1.44h-1.44zM347.15 276.88h1.44v1.44h-1.44zM349.49 275.18h1.44v1.44h-1.44zM351.83 273.46h1.44v1.44h-1.44zM354.17 271.73h1.44v1.44h-1.44zM356.51 270.00h1.44v1.44h-1.44zM358.85 268.28h1.44v1.44h-1.44zM361.19 266.59h1.44v1.44h-1.44zM363.52 264.92h1.44v1.44h-1.44zM365.86 263.30h1.44v1.44h-1.44zM368.20 261.74h1.44v1.44h-1.44zM370.54 260.24h1.44v1.44h-1.44zM372.88 258.81h1.44v1.44h-1.44zM375.22 257.46h1.44v1.44h-1.44zM377.56 256.20h1.44v1.44h-1.44zM379.90 255.05h1.44v1.44h-1.44zM382.24 254.00h1.44v1.44h-1.44zM384.57 253.07h1.44v1.44h-1.44zM386.91 252.27h1.44v1.44h-1.44zM389.25 251.60h1.44v1.44h-1.44zM391.59 251.06h1.44v1.44h-1.44zM393.93 250.68h1.44v1.44h-1.44zM396.27 250.45h1.44v1.44h-1.44zM398.61 250.37h1.44v1.44h-1.44zM400.95 250.46h1.44v1.44h-1.44zM403.29 250.71h1.44v1.44h-1.44zM405.62 251.12h1.44v1.44h-1.44zM407.96 251.71h1.44v1.44h-1.44zM410.30 252.46h1.44v1.44h-1.44zM412.64 253.38h1.44v1.44h-1.44zM414.98 254.47h1.44v1.44h-1.44zM417.32 255.72h1.44v1.44h-1.44zM419.66 257.14h1.44v1.44h-1.44zM422.00 258.71h1.44v1.44h-1.44zM424.34 260.43h1.44v1.44h-1.44zM426.67 262.30h1.44v1.44h-1.44zM429.01 264.30h1.44v1.44h-1.44zM431.35 266.43h1.44v1.44h-1.44zM433.69 268.69h1.44v1.44h-1.44zM436.03 271.05h1.44v1.44h-1.44zM438.37 273.50h1.44v1.44h-1.44zM440.71 276.04h1.44v1.44h-1.44zM443.05 278.66h1.44v1.44h-1.44zM445.39 281.33h1.44v1.44h-1.44zM447.72 284.04h1.44v1.44h-1.44zM450.06 286.78h1.44v1.44h-1.44zM330.78 286.78h1.44v1.44h-1.44zM333.12 285.93h1.44v1.44h-1.44zM335.46 284.80h1.44v1.44h-1.44zM337.80 283.53h1.44v1.44h-1.44zM340.14 282.16h1.44v1.44h-1.44zM342.47 280.72h1.44v1.44h-1.44zM344.81 279.22h1.44v1.44h-1.44zM347.15 277.69h1.44v1.44h-1.44zM349.49 276.12h1.44v1.44h-1.44zM351.83 274.54h1.44v1.44h-1.44zM354.17 272.95h1.44v1.44h-1.44zM356.51 271.36h1.44v1.44h-1.44zM358.85 269.78h1.44v1.44h-1.44zM361.19 268.22h1.44v1.44h-1.44zM363.52 266.70h1.44v1.44h-1.44zM365.86 265.21h1.44v1.44h-1.44zM368.20 263.77h1.44v1.44h-1.44zM370.54 262.39h1.44v1.44h-1.44zM372.88 261.07h1.44v1.44h-1.44zM375.22 259.84h1.44v1.44h-1.44zM377.56 258.68h1.44v1.44h-1.44zM379.90 257.62h1.44v1.44h-1.44zM382.24 256.66h1.44v1.44h-1.44zM384.57 255.80h1.44v1.44h-1.44zM386.91 255.06h1.44v1.44h-1.44zM389.25 254.45h1.44v1.44h-1.44zM391.59 253.96h1.44v1.44h-1.44zM393.93 253.61h1.44v1.44h-1.44zM396.27 253.39h1.44v1.44h-1.44zM398.61 253.32h1.44v1.44h-1.44zM400.95 253.40h1.44v1.44h-1.44zM403.29 253.63h1.44v1.44h-1.44zM405.62 254.01h1.44v1.44h-1.44zM407.96 254.55h1.44v1.44h-1.44zM410.30 255.24h1.44v1.44h-1.44zM412.64 256.09h1.44v1.44h-1.44zM414.98 257.09h1.44v1.44h-1.44zM417.32 258.24h1.44v1.44h-1.44zM419.66 259.54h1.44v1.44h-1.44zM422.00 260.98h1.44v1.44h-1.44zM424.34 262.57h1.44v1.44h-1.44zM426.67 264.28h1.44v1.44h-1.44zM429.01 266.12h1.44v1.44h-1.44zM431.35 268.08h1.44v1.44h-1.44zM433.69 270.15h1.44v1.44h-1.44zM436.03 272.32h1.44v1.44h-1.44zM438.37 274.58h1.44v1.44h-1.44zM440.71 276.91h1.44v1.44h-1.44zM443.05 279.31h1.44v1.44h-1.44zM445.39 281.77h1.44v1.44h-1.44zM447.72 284.26h1.44v1.44h-1.44zM450.06 286.78h1.44v1.44h-1.44zM452.40 290.48h1.44v1.44h-1.44zM457.08 296.70h1.44v1.44h-1.44zM461.76 299.77h1.44v1.44h-1.44zM466.44 298.71h1.44v1.44h-1.44zM471.11 293.87h1.44v1.44h-1.44zM330.78 286.78h1.44v1.44h-1.44zM333.12 286.04h1.44v1.44h-1.44zM335.46 285.04h1.44v1.44h-1.44zM337.80 283.92h1.44v1.44h-1.44zM340.14 282.72h1.44v1.44h-1.44zM342.47 281.45h1.44v1.44h-1.44zM344.81 280.14h1.44v1.44h-1.44zM347.15 278.79h1.44v1.44h-1.44zM349.49 277.42h1.44v1.44h-1.44zM351.83 276.03h1.44v1.44h-1.44zM354.17 274.63h1.44v1.44h-1.44zM356.51 273.23h1.44v1.44h-1.44zM358.85 271.85h1.44v1.44h-1.44zM361.19 270.48h1.44v1.44h-1.44zM363.52 269.14h1.44v1.44h-1.44zM365.86 267.83h1.44v1.44h-1.44zM368.20 266.57h1.44v1.44h-1.44zM370.54 265.35h1.44v1.44h-1.44zM372.88 264.20h1.44v1.44h-1.44zM375.22 263.11h1.44v1.44h-1.44zM377.56 262.10h1.44v1.44h-1.44zM379.90 261.16h1.44v1.44h-1.44zM382.24 260.32h1.44v1.44h-1.44zM384.57 259.57h1.44v1.44h-1.44zM386.91 258.92h1.44v1.44h-1.44zM389.25 258.38h1.44v1.44h-1.44zM391.59 257.95h1.44v1.44h-1.44zM393.93 257.64h1.44v1.44h-1.44zM396.27 257.45h1.44v1.44h-1.44zM398.61 257.39h1.44v1.44h-1.44zM400.95 257.46h1.44v1.44h-1.44zM403.29 257.66h1.44v1.44h-1.44zM405.62 258.00h1.44v1.44h-1.44zM407.96 258.47h1.44v1.44h-1.44zM410.30 259.08h1.44v1.44h-1.44zM412.64 259.82h1.44v1.44h-1.44zM414.98 260.70h1.44v1.44h-1.44zM417.32 261.71h1.44v1.44h-1.44zM419.66 262.85h1.44v1.44h-1.44zM422.00 264.12h1.44v1.44h-1.44zM424.34 265.51h1.44v1.44h-1.44zM426.67 267.02h1.44v1.44h-1.44zM429.01 268.63h1.44v1.44h-1.44zM431.35 270.36h1.44v1.44h-1.44zM433.69 272.17h1.44v1.44h-1.44zM436.03 274.08h1.44v1.44h-1.44zM438.37 276.06h1.44v1.44h-1.44zM440.71 278.11h1.44v1.44h-1.44zM443.05 280.22h1.44v1.44h-1.44zM445.39 282.38h1.44v1.44h-1.44zM447.72 284.57h1.44v1.44h-1.44zM450.06 286.78h1.44v1.44h-1.44zM330.78 286.78h1.44v1.44h-1.44zM333.12 286.16h1.44v1.44h-1.44zM335.46 285.34h1.44v1.44h-1.44zM337.80 284.42h1.44v1.44h-1.44zM340.14 283.42h1.44v1.44h-1.44zM342.47 282.38h1.44v1.44h-1.44zM344.81 281.29h1.44v1.44h-1.44zM347.15 280.17h1.44v1.44h-1.44zM349.49 279.04h1.44v1.44h-1.44zM351.83 277.89h1.44v1.44h-1.44zM354.17 276.73h1.44v1.44h-1.44zM356.51 275.58h1.44v1.44h-1.44zM358.85 274.43h1.44v1.44h-1.44zM361.19 273.30h1.44v1.44h-1.44zM363.52 272.19h1.44v1.44h-1.44zM365.86 271.11h1.44v1.44h-1.44zM368.20 270.06h1.44v1.44h-1.44zM370.54 269.06h1.44v1.44h-1.44zM372.88 268.11h1.44v1.44h-1.44zM375.22 267.21h1.44v1.44h-1.44zM377.56 266.37h1.44v1.44h-1.44zM379.90 265.59h1.44v1.44h-1.44zM382.24 264.90h1.44v1.44h-1.44zM384.57 264.28h1.44v1.44h-1.44zM386.91 263.74h1.44v1.44h-1.44zM389.25 263.29h1.44v1.44h-1.44zM391.59 262.94h1.44v1.44h-1.44zM393.93 262.68h1.44v1.44h-1.44zM396.27 262.53h1.44v1.44h-1.44zM398.61 262.48h1.44v1.44h-1.44zM400.95 262.53h1.44v1.44h-1.44zM403.29 262.70h1.44v1.44h-1.44zM405.62 262.98h1.44v1.44h-1.44zM407.96 263.37h1.44v1.44h-1.44zM410.30 263.87h1.44v1.44h-1.44zM412.64 264.48h1.44v1.44h-1.44zM414.98 265.21h1.44v1.44h-1.44zM417.32 266.05h1.44v1.44h-1.44zM419.66 266.99h1.44v1.44h-1.44zM422.00 268.04h1.44v1.44h-1.44zM424.34 269.19h1.44v1.44h-1.44zM426.67 270.44h1.44v1.44h-1.44zM429.01 271.77h1.44v1.44h-1.44zM431.35 273.20h1.44v1.44h-1.44zM433.69 274.70h1.44v1.44h-1.44zM436.03 276.28h1.44v1.44h-1.44zM438.37 277.92h1.44v1.44h-1.44zM440.71 279.61h1.44v1.44h-1.44zM443.05 281.36h1.44v1.44h-1.44zM445.39 283.14h1.44v1.44h-1.44zM447.72 284.95h1.44v1.44h-1.44zM450.06 286.78h1.44v1.44h-1.44zM330.78 286.78h1.44v1.44h-1.44zM333.12 286.31h1.44v1.44h-1.44zM335.46 285.68h1.44v1.44h-1.44zM337.80 284.98h1.44v1.44h-1.44zM340.14 284.22h1.44v1.44h-1.44zM342.47 283.43h1.44v1.44h-1.44zM344.81 282.60h1.44v1.44h-1.44zM347.15 281.75h1.44v1.44h-1.44zM349.49 280.89h1.44v1.44h-1.44zM351.83 280.01h1.44v1.44h-1.44zM354.17 279.13h1.44v1.44h-1.44zM356.51 278.25h1.44v1.44h-1.44zM358.85 277.38h1.44v1.44h-1.44zM361.19 276.52h1.44v1.44h-1.44zM363.52 275.67h1.44v1.44h-1.44zM365.86 274.85h1.44v1.44h-1.44zM368.20 274.06h1.44v1.44h-1.44zM370.54 273.29h1.44v1.44h-1.44zM372.88 272.57h1.44v1.44h-1.44zM375.22 271.88h1.44v1.44h-1.44zM377.56 271.24h1.44v1.44h-1.44zM379.90 270.66h1.44v1.44h-1.44zM382.24 270.12h1.44v1.44h-1.44zM384.57 269.65h1.44v1.44h-1.44zM386.91 269.24h1.44v1.44h-1.44zM389.25 268.90h1.44v1.44h-1.44zM391.59 268.63h1.44v1.44h-1.44zM393.93 268.44h1.44v1.44h-1.44zM396.27 268.32h1.44v1.44h-1.44zM398.61 268.28h1.44v1.44h-1.44zM400.95 268.32h1.44v1.44h-1.44zM403.29 268.45h1.44v1.44h-1.44zM405.62 268.66h1.44v1.44h-1.44zM407.96 268.96h1.44v1.44h-1.44zM410.30 269.34h1.44v1.44h-1.44zM412.64 269.81h1.44v1.44h-1.44zM414.98 270.36h1.44v1.44h-1.44zM417.32 271.00h1.44v1.44h-1.44zM419.66 271.72h1.44v1.44h-1.44zM422.00 272.52h1.44v1.44h-1.44zM424.34 273.39h1.44v1.44h-1.44zM426.67 274.34h1.44v1.44h-1.44zM429.01 275.36h1.44v1.44h-1.44zM431.35 276.44h1.44v1.44h-1.44zM433.69 277.59h1.44v1.44h-1.44zM436.03 278.78h1.44v1.44h-1.44zM438.37 280.03h1.44v1.44h-1.44zM440.71 281.32h1.44v1.44h-1.44zM443.05 282.65h1.44v1.44h-1.44zM445.39 284.01h1.44v1.44h-1.44zM447.72 285.39h1.44v1.44h-1.44zM450.06 286.78h1.44v1.44h-1.44zM452.40 289.39h1.44v1.44h-1.44zM457.08 293.77h1.44v1.44h-1.44zM461.76 295.94h1.44v1.44h-1.44zM466.44 295.19h1.44v1.44h-1.44zM471.11 291.78h1.44v1.44h-1.44zM330.78 286.78h1.44v1.44h-1.44zM333.12 286.45h1.44v1.44h-1.44zM335.46 286.00h1.44v1.44h-1.44zM337.80 285.50h1.44v1.44h-1.44zM340.14 284.97h1.44v1.44h-1.44zM342.47 284.40h1.44v1.44h-1.44zM344.81 283.82h1.44v1.44h-1.44zM347.15 283.21h1.44v1.44h-1.44zM349.49 282.60h1.44v1.44h-1.44zM351.83 281.98h1.44v1.44h-1.44zM354.17 281.36h1.44v1.44h-1.44zM356.51 280.73h1.44v1.44h-1.44zM358.85 280.11h1.44v1.44h-1.44zM361.19 279.50h1.44v1.44h-1.44zM363.52 278.90h1.44v1.44h-1.44zM365.86 278.32h1.44v1.44h-1.44zM368.20 277.76h1.44v1.44h-1.44zM370.54 277.21h1.44v1.44h-1.44zM372.88 276.70h1.44v1.44h-1.44zM375.22 276.21h1.44v1.44h-1.44zM377.56 275.76h1.44v1.44h-1.44zM379.90 275.34h1.44v1.44h-1.44zM382.24 274.97h1.44v1.44h-1.44zM384.57 274.63h1.44v1.44h-1.44zM386.91 274.34h1.44v1.44h-1.44zM389.25 274.10h1.44v1.44h-1.44zM391.59 273.91h1.44v1.44h-1.44zM393.93 273.77h1.44v1.44h-1.44zM396.27 273.69h1.44v1.44h-1.44zM398.61 273.66h1.44v1.44h-1.44zM400.95 273.69h1.44v1.44h-1.44zM403.29 273.78h1.44v1.44h-1.44zM405.62 273.93h1.44v1.44h-1.44zM407.96 274.14h1.44v1.44h-1.44zM410.30 274.41h1.44v1.44h-1.44zM412.64 274.74h1.44v1.44h-1.44zM414.98 275.14h1.44v1.44h-1.44zM417.32 275.59h1.44v1.44h-1.44zM419.66 276.10h1.44v1.44h-1.44zM422.00 276.66h1.44v1.44h-1.44zM424.34 277.28h1.44v1.44h-1.44zM426.67 277.96h1.44v1.44h-1.44zM429.01 278.68h1.44v1.44h-1.44zM431.35 279.45h1.44v1.44h-1.44zM433.69 280.26h1.44v1.44h-1.44zM436.03 281.11h1.44v1.44h-1.44zM438.37 282.00h1.44v1.44h-1.44zM440.71 282.91h1.44v1.44h-1.44zM443.05 283.85h1.44v1.44h-1.44zM445.39 284.81h1.44v1.44h-1.44zM447.72 285.79h1.44v1.44h-1.44zM450.06 286.78h1.44v1.44h-1.44zM330.78 286.78h1.44v1.44h-1.44zM333.12 286.57h1.44v1.44h-1.44zM335.46 286.29h1.44v1.44h-1.44zM337.80 285.98h1.44v1.44h-1.44zM340.14 285.65h1.44v1.44h-1.44zM342.47 285.29h1.44v1.44h-1.44zM344.81 284.93h1.44v1.44h-1.44zM347.15 284.55h1.44v1.44h-1.44zM349.49 284.17h1.44v1.44h-1.44zM351.83 283.78h1.44v1.44h-1.44zM354.17 283.39h1.44v1.44h-1.44zM356.51 283.00h1.44v1.44h-1.44zM358.85 282.61h1.44v1.44h-1.44zM361.19 282.23h1.44v1.44h-1.44zM363.52 281.86h1.44v1.44h-1.44zM365.86 281.49h1.44v1.44h-1.44zM368.20 281.14h1.44v1.44h-1.44zM370.54 280.80h1.44v1.44h-1.44zM372.88 280.48h1.44v1.44h-1.44zM375.22 280.18h1.44v1.44h-1.44zM377.56 279.89h1.44v1.44h-1.44zM379.90 279.63h1.44v1.44h-1.44zM382.24 279.40h1.44v1.44h-1.44zM384.57 279.19h1.44v1.44h-1.44zM386.91 279.01h1.44v1.44h-1.44zM389.25 278.86h1.44v1.44h-1.44zM391.59 278.74h1.44v1.44h-1.44zM393.93 278.65h1.44v1.44h-1.44zM396.27 278.60h1.44v1.44h-1.44zM398.61 278.58h1.44v1.44h-1.44zM400.95 278.60h1.44v1.44h-1.44zM403.29 278.66h1.44v1.44h-1.44zM405.62 278.75h1.44v1.44h-1.44zM407.96 278.88h1.44v1.44h-1.44zM410.30 279.05h1.44v1.44h-1.44zM412.64 279.26h1.44v1.44h-1.44zM414.98 279.50h1.44v1.44h-1.44zM417.32 279.78h1.44v1.44h-1.44zM419.66 280.10h1.44v1.44h-1.44zM422.00 280.46h1.44v1.44h-1.44zM424.34 280.85h1.44v1.44h-1.44zM426.67 281.27h1.44v1.44h-1.44zM429.01 281.72h1.44v1.44h-1.44zM431.35 282.20h1.44v1.44h-1.44zM433.69 282.70h1.44v1.44h-1.44zM436.03 283.24h1.44v1.44h-1.44zM438.37 283.79h1.44v1.44h-1.44zM440.71 284.36h1.44v1.44h-1.44zM443.05 284.95h1.44v1.44h-1.44zM445.39 285.55h1.44v1.44h-1.44zM447.72 286.16h1.44v1.44h-1.44zM450.06 286.78h1.44v1.44h-1.44zM330.78 286.78h1.44v1.44h-1.44zM333.12 286.70h1.44v1.44h-1.44zM335.46 286.59h1.44v1.44h-1.44zM337.80 286.46h1.44v1.44h-1.44zM340.14 286.33h1.44v1.44h-1.44zM342.47 286.19h1.44v1.44h-1.44zM344.81 286.04h1.44v1.44h-1.44zM347.15 285.89h1.44v1.44h-1.44zM349.49 285.74h1.44v1.44h-1.44zM351.83 285.58h1.44v1.44h-1.44zM354.17 285.42h1.44v1.44h-1.44zM356.51 285.27h1.44v1.44h-1.44zM358.85 285.11h1.44v1.44h-1.44zM361.19 284.96h1.44v1.44h-1.44zM363.52 284.81h1.44v1.44h-1.44zM365.86 284.67h1.44v1.44h-1.44zM368.20 284.52h1.44v1.44h-1.44zM370.54 284.39h1.44v1.44h-1.44zM372.88 284.26h1.44v1.44h-1.44zM375.22 284.14h1.44v1.44h-1.44zM377.56 284.03h1.44v1.44h-1.44zM379.90 283.92h1.44v1.44h-1.44zM382.24 283.83h1.44v1.44h-1.44zM384.57 283.74h1.44v1.44h-1.44zM386.91 283.67h1.44v1.44h-1.44zM389.25 283.61h1.44v1.44h-1.44zM391.59 283.56h1.44v1.44h-1.44zM393.93 283.53h1.44v1.44h-1.44zM396.27 283.51h1.44v1.44h-1.44zM398.61 283.50h1.44v1.44h-1.44zM400.95 283.51h1.44v1.44h-1.44zM403.29 283.53h1.44v1.44h-1.44zM405.62 283.57h1.44v1.44h-1.44zM407.96 283.62h1.44v1.44h-1.44zM410.30 283.69h1.44v1.44h-1.44zM412.64 283.77h1.44v1.44h-1.44zM414.98 283.87h1.44v1.44h-1.44zM417.32 283.98h1.44v1.44h-1.44zM419.66 284.11h1.44v1.44h-1.44zM422.00 284.25h1.44v1.44h-1.44zM424.34 284.41h1.44v1.44h-1.44zM426.67 284.57h1.44v1.44h-1.44zM429.01 284.75h1.44v1.44h-1.44zM431.35 284.95h1.44v1.44h-1.44zM433.69 285.15h1.44v1.44h-1.44zM436.03 285.36h1.44v1.44h-1.44zM438.37 285.58h1.44v1.44h-1.44zM440.71 285.81h1.44v1.44h-1.44zM443.05 286.05h1.44v1.44h-1.44zM445.39 286.29h1.44v1.44h-1.44zM447.72 286.53h1.44v1.44h-1.44zM450.06 286.78h1.44v1.44h-1.44zM452.40 287.24h1.44v1.44h-1.44zM457.08 288.02h1.44v1.44h-1.44zM461.76 288.40h1.44v1.44h-1.44zM466.44 288.27h1.44v1.44h-1.44zM471.11 287.67h1.44v1.44h-1.44zM470.65 250.70h1.44v1.44h-1.44zM474.86 260.21h1.44v1.44h-1.44zM472.28 255.62h1.44v1.44h-1.44zM476.96 267.10h1.44v1.44h-1.44zM453.57 293.67h1.44v1.44h-1.44zM463.16 296.29h1.44v1.44h-1.44zM465.73 301.21h1.44v1.44h-1.44zM470.65 291.37h1.44v1.44h-1.44zM459.42 290.06h1.44v1.44h-1.44zM466.44 293.34h1.44v1.44h-1.44z" fill="#9400d3"/>
<path d="M330.70 286.70h1.60v1.60h-1.60zM333.04 286.63h1.60v1.60h-1.60zM335.38 286.56h1.60v1.60h-1.60zM337.72 286.49h1.60v1.60h-1.60zM340.06 286.42h1.60v1.60h-1.60zM342.39 286.35h1.60v1.60h-1.60zM344.73 286.28h1.60v1.60h-1.60zM347.07 286.21h1.60v1.60h-1.60zM349.41 286.14h1.60v1.60h-1.60zM351.75 286.07h1.60v1.60h-1.60zM354.09 286.00h1.60v1.60h-1.60zM356.43 285.93h1.60v1.60h-1.60zM358.77 285.86h1.60v1.60h-1.60zM361.11 285.79h1.60v1.60h-1.60zM363.44 285.72h1.60v1.60h-1.60zM365.78 285.65h1.60v1.60h-1.60zM368.12 285.58h1.60v1.60h-1.60zM370.46 285.51h1.60v1.60h-1.60zM372.80 285.44h1.60v1.60h-1.60zM375.14 285.37h1.60v1.60h-1.60zM377.48 285.30h1.60v1.60h-1.60zM379.82 285.23h1.60v1.60h-1.60zM382.16 285.16h1.60v1.60h-1.60zM384.49 285.09h1.60v1.60h-1.60zM386.83 285.03h1.60v1.60h-1.60zM389.17 284.96h1.60v1.60h-1.60zM391.51 284.89h1.60v1.60h-1.60zM393.85 284.82h1.60v1.60h-1.60zM396.19 284.75h1.60v1.60h-1.60zM398.53 284.68h1.60v1.60h-1.60zM400.87 284.61h1.60v1.60h-1.60zM403.21 284.54h1.60v1.60h-1.60zM405.54 284.47h1.60v1.60h-1.60zM407.88 284.40h1.60v1.60h-1.60zM410.22 284.33h1.60v1.60h-1.60zM412.56 284.26h1.60v1.60h-1.60zM414.90 284.19h1.60v1.60h-1.60zM417.24 284.12h1.60v1.60h-1.60zM419.58 284.05h1.60v1.60h-1.60zM421.92 283.98h1.60v1.60h-1.60zM424.26 283.91h1.60v1.60h-1.60zM426.59 283.84h1.60v1.60h-1.60zM428.93 283.77h1.60v1.60h-1.60zM431.27 283.70h1.60v1.60h-1.60zM433.61 283.63h1.60v1.60h-1.60zM435.95 283.56h1.60v1.60h-1.60zM438.29 283.49h1.60v1.60h-1.60zM440.63 283.42h1.60v1.60h-1.60zM442.97 280.92h1.60v1.60h-1.60zM445.31 278.88h1.60v1.60h-1.60zM447.64 275.87h1.60v1.60h-1.60zM449.98 273.28h1.60v1.60h-1.60zM452.32 270.18h1.60v1.60h-1.60zM454.66 269.46h1.60v1.60h-1.60zM457.00 265.77h1.60v1.60h-1.60zM459.34 264.09h1.60v1.60h-1.60zM461.68 261.51h1.60v1.60h-1.60zM464.02 257.72h1.60v1.60h-1.60zM466.36 255.91h1.60v1.60h-1.60zM468.69 253.27h1.60v1.60h-1.60zM471.03 250.25h1.60v1.60h-1.60zM473.37 247.35h1.60v1.60h-1.60zM475.71 246.08h1.60v1.60h-1.60zM478.05 243.14h1.60v1.60h-1.60zM480.39 240.92h1.60v1.60h-1.60zM482.73 238.41h1.60v1.60h-1.60zM485.07 235.43h1.60v1.60h-1.60zM487.41 233.56h1.60v1.60h-1.60zM489.74 230.85h1.60v1.60h-1.60zM330.70 286.70h1.60v1.60h-1.60zM333.04 286.64h1.60v1.60h-1.60zM335.38 286.59h1.60v1.60h-1.60zM337.72 286.53h1.60v1.60h-1.60zM340.06 286.48h1.60v1.60h-1.60zM342.39 286.42h1.60v1.60h-1.60zM344.73 286.37h1.60v1.60h-1.60zM347.07 286.31h1.60v1.60h-1.60zM349.41 286.25h1.60v1.60h-1.60zM351.75 286.20h1.60v1.60h-1.60zM354.09 286.14h1.60v1.60h-1.60zM356.43 286.09h1.60v1.60h-1.60zM358.77 286.03h1.60v1.60h-1.60zM361.11 285.97h1.60v1.60h-1.60zM363.44 285.92h1.60v1.60h-1.60zM365.78 285.86h1.60v1.60h-1.60zM368.12 285.81h1.60v1.60h-1.60zM370.46 285.75h1.60v1.60h-1.60zM372.80 285.70h1.60v1.60h-1.60zM375.14 285.64h1.60v1.60h-1.60zM377.48 285.58h1.60v1.60h-1.60zM379.82 285.53h1.60v1.60h-1.60zM382.16 285.47h1.60v1.60h-1.60zM384.49 285.42h1.60v1.60h-1.60zM386.83 285.36h1.60v1.60h-1.60zM389.17 285.30h1.60v1.60h-1.60zM391.51 285.25h1.60v1.60h-1.60zM393.85 285.19h1.60v1.60h-1.60zM396.19 285.14h1.60v1.60h-1.60zM398.53 285.08h1.60v1.60h-1.60zM400.87 285.03h1.60v1.60h-1.60zM403.21 284.97h1.60v1.60h-1.60zM405.54 284.91h1.60v1.60h-1.60zM407.88 284.86h1.60v1.60h-1.60zM410.22 284.80h1.60v1.60h-1.60zM412.56 284.75h1.60v1.60h-1.60zM414.90 284.69h1.60v1.60h-1.60zM417.24 284.63h1.60v1.60h-1.60zM419.58 284.58h1.60v1.60h-1.60zM421.92 284.52h1.60v1.60h-1.60zM424.26 284.47h1.60v1.60h-1.60zM426.59 284.41h1.60v1.60h-1.60zM428.93 284.36h1.60v1.60h-1.60zM431.27 284.30h1.60v1.60h-1.60zM433.61 284.24h1.60v1.60h-1.60zM435.95 284.19h1.60v1.60h-1.60zM438.29 284.13h1.60v1.60h-1.60zM440.63 284.08h1.60v1.60h-1.60zM442.97 281.95h1.60v1.60h-1.60zM445.31 279.89h1.60v1.60h-1.60zM330.70 286.70h1.60v1.60h-1.60zM333.04 286.66h1.60v1.60h-1.60zM335.38 286.62h1.60v1.60h-1.60zM337.72 286.57h1.60v1.60h-1.60zM340.06 286.53h1.60v1.60h-1.60zM342.39 286.49h1.60v1.60h-1.60zM344.73 286.45h1.60v1.60h-1.60zM347.07 286.41h1.60v1.60h-1.60zM349.41 286.37h1.60v1.60h-1.60zM351.75 286.32h1.60v1.60h-1.60zM354.09 286.28h1.60v1.60h-1.60zM356.43 286.24h1.60v1.60h-1.60zM358.77 286.20h1.60v1.60h-1.60zM361.11 286.16h1.60v1.60h-1.60zM363.44 286.11h1.60v1.60h-1.60zM365.78 286.07h1.60v1.60h-1.60zM368.12 286.03h1.60v1.60h-1.60zM370.46 285.99h1.60v1.60h-1.60zM372.80 285.95h1.60v1.60h-1.60zM375.14 285.90h1.60v1.60h-1.60zM377.48 285.86h1.60v1.60h-1.60zM379.82 285.82h1.60v1.60h-1.60zM382.16 285.78h1.60v1.60h-1.60zM384.49 285.74h1.60v1.60h-1.60zM386.83 285.70h1.60v1.60h-1.60zM389.17 285.65h1.60v1.60h-1.60zM391.51 285.61h1.60v1.60h-1.60zM393.85 285.57h1.60v1.60h-1.60zM396.19 285.53h1.60v1.60h-1.60zM398.53 285.49h1.60v1.60h-1.60zM400.87 285.44h1.60v1.60h-1.60zM403.21 285.40h1.60v1.60h-1.60zM405.54 285.36h1.60v1.60h-1.60zM407.88 285.32h1.60v1.60h-1.60zM410.22 285.28h1.60v1.60h-1.60zM412.56 285.23h1.60v1.60h-1.60zM414.90 285.19h1.60v1.60h-1.60zM417.24 285.15h1.60v1.60h-1.60zM419.58 285.11h1.60v1.60h-1.60zM421.92 285.07h1.60v1.60h-1.60zM424.26 285.03h1.60v1.60h-1.60zM426.59 284.98h1.60v1.60h-1.60zM428.93 284.94h1.60v1.60h-1.60zM431.27 284.90h1.60v1.60h-1.60zM433.61 284.86h1.60v1.60h-1.60zM435.95 284.82h1.60v1.60h-1.60zM438.29 284.77h1.60v1.60h-1.60zM440.63 284.73h1.60v1.60h-1.60zM442.97 282.84h1.60v1.60h-1.60zM445.31 279.80h1.60v1.60h-1.60zM447.64 278.54h1.60v1.60h-1.60zM449.98 276.19h1.60v1.60h-1.60zM452.32 274.13h1.60v1.60h-1.60zM454.66 274.03h1.60v1.60h-1.60zM457.00 271.36h1.60v1.60h-1.60zM459.34 268.46h1.60v1.60h-1.60zM461.68 266.84h1.60v1.60h-1.60zM464.02 266.80h1.60v1.60h-1.60zM466.36 264.95h1.60v1.60h-1.60zM468.69 262.22h1.60v1.60h-1.60zM471.03 261.30h1.60v1.60h-1.60zM473.37 258.97h1.60v1.60h-1.60zM475.71 257.52h1.60v1.60h-1.60zM478.05 254.07h1.60v1.60h-1.60zM480.39 251.88h1.60v1.60h-1.60zM482.73 249.70h1.60v1.60h-1.60zM485.07 249.76h1.60v1.60h-1.60zM330.70 286.70h1.60v1.60h-1.60zM333.04 286.67h1.60v1.60h-1.60zM335.38 286.64h1.60v1.60h-1.60zM337.72 286.62h1.60v1.60h-1.60zM340.06 286.59h1.60v1.60h-1.60zM342.39 286.56h1.60v1.60h-1.60zM344.73 286.53h1.60v1.60h-1.60zM347.07 286.50h1.60v1.60h-1.60zM349.41 286.48h1.60v1.60h-1.60zM351.75 286.45h1.60v1.60h-1.60zM354.09 286.42h1.60v1.60h-1.60zM356.43 286.39h1.60v1.60h-1.60zM358.77 286.37h1.60v1.60h-1.60zM361.11 286.34h1.60v1.60h-1.60zM363.44 286.31h1.60v1.60h-1.60zM365.78 286.28h1.60v1.60h-1.60zM368.12 286.25h1.60v1.60h-1.60zM370.46 286.23h1.60v1.60h-1.60zM372.80 286.20h1.60v1.60h-1.60zM375.14 286.17h1.60v1.60h-1.60zM377.48 286.14h1.60v1.60h-1.60zM379.82 286.11h1.60v1.60h-1.60zM382.16 286.09h1.60v1.60h-1.60zM384.49 286.06h1.60v1.60h-1.60zM386.83 286.03h1.60v1.60h-1.60zM389.17 286.00h1.60v1.60h-1.60zM391.51 285.97h1.60v1.60h-1.60zM393.85 285.95h1.60v1.60h-1.60zM396.19 285.92h1.60v1.60h-1.60zM398.53 285.89h1.60v1.60h-1.60zM400.87 285.86h1.60v1.60h-1.60zM403.21 285.83h1.60v1.60h-1.60zM405.54 285.81h1.60v1.60h-1.60zM407.88 285.78h1.60v1.60h-1.60zM410.22 285.75h1.60v1.60h-1.60zM412.56 285.72h1.60v1.60h-1.60zM414.90 285.70h1.60v1.60h-1.60zM417.24 285.67h1.60v1.60h-1.60zM419.58 285.64h1.60v1.60h-1.60zM421.92 285.61h1.60v1.60h-1.60zM424.26 285.58h1.60v1.60h-1.60zM426.59 285.56h1.60v1.60h-1.60zM428.93 285.53h1.60v1.60h-1.60zM431.27 285.50h1.60v1.60h-1.60zM433.61 285.47h1.60v1.60h-1.60zM435.95 285.44h1.60v1.60h-1.60zM438.29 285.42h1.60v1.60h-1.60zM440.63 285.39h1.60v1.60h-1.60zM442.97 283.75h1.60v1.60h-1.60zM445.31 281.54h1.60v1.60h-1.60zM330.70 286.70h1.60v1.60h-1.60zM333.04 286.69h1.60v1.60h-1.60zM335.38 286.67h1.60v1.60h-1.60zM337.72 286.66h1.60v1.60h-1.60zM340.06 286.64h1.60v1.60h-1.60zM342.39 286.63h1.60v1.60h-1.60zM344.73 286.62h1.60v1.60h-1.60zM347.07 286.60h1.60v1.60h-1.60zM349.41 286.59h1.60v1.60h-1.60zM351.75 286.57h1.60v1.60h-1.60zM354.09 286.56h1.60v1.60h-1.60zM356.43 286.55h1.60v1.60h-1.60zM358.77 286.53h1.60v1.60h-1.60zM361.11 286.52h1.60v1.60h-1.60zM363.44 286.50h1.60v1.60h-1.60zM365.78 286.49h1.60v1.60h-1.60zM368.12 286.48h1.60v1.60h-1.60zM370.46 286.46h1.60v1.60h-1.60zM372.80 286.45h1.60v1.60h-1.60zM375.14 286.43h1.60v1.60h-1.60zM377.48 286.42h1.60v1.60h-1.60zM379.82 286.41h1.60v1.60h-1.60zM382.16 286.39h1.60v1.60h-1.60zM384.49 286.38h1.60v1.60h-1.60zM386.83 286.37h1.60v1.60h-1.60zM389.17 286.35h1.60v1.60h-1.60zM391.51 286.34h1.60v1.60h-1.60zM393.85 286.32h1.60v1.60h-1.60zM396.19 286.31h1.60v1.60h-1.60zM398.53 286.30h1.60v1.60h-1.60zM400.87 286.28h1.60v1.60h-1.60zM403.21 286.27h1.60v1.60h-1.60zM405.54 286.25h1.60v1.60h-1.60zM407.88 286.24h1.60v1.60h-1.60zM410.22 286.23h1.60v1.60h-1.60zM412.56 286.21h1.60v1.60h-1.60zM414.90 286.20h1.60v1.60h-1.60zM417.24 286.18h1.60v1.60h-1.60zM419.58 286.17h1.60v1.60h-1.60zM421.92 286.16h1.60v1.60h-1.60zM424.26 286.14h1.60v1.60h-1.60zM426.59 286.13h1.60v1.60h-1.60zM428.93 286.11h1.60v1.60h-1.60zM431.27 286.10h1.60v1.60h-1.60zM433.61 286.09h1.60v1.60h-1.60zM435.95 286.07h1.60v1.60h-1.60zM438.29 286.06h1.60v1.60h-1.60zM440.63 286.04h1.60v1.60h-1.60zM442.97 284.67h1.60v1.60h-1.60zM445.31 282.87h1.60v1.60h-1.60zM447.64 282.85h1.60v1.60h-1.60zM449.98 279.54h1.60v1.60h-1.60zM452.32 277.94h1.60v1.60h-1.60zM454.66 278.53h1.60v1.60h-1.60zM457.00 275.23h1.60v1.60h-1.60zM459.34 275.31h1.60v1.60h-1.60zM461.68 273.70h1.60v1.60h-1.60zM464.02 271.00h1.60v1.60h-1.60zM466.36 270.04h1.60v1.60h-1.60zM468.69 270.43h1.60v1.60h-1.60zM471.03 268.34h1.60v1.60h-1.60zM473.37 266.75h1.60v1.60h-1.60zM475.71 265.83h1.60v1.60h-1.60zM478.05 264.83h1.60v1.60h-1.60zM480.39 263.14h1.60v1.60h-1.60zM482.73 260.70h1.60v1.60h-1.60zM330.70 286.70h1.60v1.60h-1.60zM333.04 286.70h1.60v1.60h-1.60zM335.38 286.70h1.60v1.60h-1.60zM337.72 286.70h1.60v1.60h-1.60zM340.06 286.70h1.60v1.60h-1.60zM342.39 286.70h1.60v1.60h-1.60zM344.73 286.70h1.60v1.60h-1.60zM347.07 286.70h1.60v1.60h-1.60zM349.41 286.70h1.60v1.60h-1.60zM351.75 286.70h1.60v1.60h-1.60zM354.09 286.70h1.60v1.60h-1.60zM356.43 286.70h1.60v1.60h-1.60zM358.77 286.70h1.60v1.60h-1.60zM361.11 286.70h1.60v1.60h-1.60zM363.44 286.70h1.60v1.60h-1.60zM365.78 286.70h1.60v1.60h-1.60zM368.12 286.70h1.60v1.60h-1.60zM370.46 286.70h1.60v1.60h-1.60zM372.80 286.70h1.60v1.60h-1.60zM375.14 286.70h1.60v1.60h-1.60zM377.48 286.70h1.60v1.60h-1.60zM379.82 286.70h1.60v1.60h-1.60zM382.16 286.70h1.60v1.60h-1.60zM384.49 286.70h1.60v1.60h-1.60zM386.83 286.70h1.60v1.60h-1.60zM389.17 286.70h1.60v1.60h-1.60zM391.51 286.70h1.60v1.60h-1.60zM393.85 286.70h1.60v1.60h-1.60zM396.19 286.70h1.60v1.60h-1.60zM398.53 286.70h1.60v1.60h-1.60zM400.87 286.70h1.60v1.60h-1.60zM403.21 286.70h1.60v1.60h-1.60zM405.54 286.70h1.60v1.60h-1.60zM407.88 286.70h1.60v1.60h-1.60zM410.22 286.70h1.60v1.60h-1.60zM412.56 286.70h1.60v1.60h-1.60zM414.90 286.70h1.60v1.60h-1.60zM417.24 286.70h1.60v1.60h-1.60zM419.58 286.70h1.60v1.60h-1.60zM421.92 286.70h1.60v1.60h-1.60zM424.26 286.70h1.60v1.60h-1.60zM426.59 286.70h1.60v1.60h-1.60zM428.93 286.70h1.60v1.60h-1.60zM431.27 286.70h1.60v1.60h-1.60zM433.61 286.70h1.60v1.60h-1.60zM435.95 286.70h1.60v1.60h-1.60zM438.29 286.70h1.60v1.60h-1.60zM440.63 286.70h1.60v1.60h-1.60zM442.97 285.61h1.60v1.60h-1.60zM445.31 285.77h1.60v1.60h-1.60zM447.64 283.28h1.60v1.60h-1.60zM449.98 282.48h1.60v1.60h-1.60zM452.32 282.50h1.60v1.60h-1.60zM454.66 280.58h1.60v1.60h-1.60zM457.00 278.72h1.60v1.60h-1.60zM459.34 277.92h1.60v1.60h-1.60zM461.68 278.00h1.60v1.60h-1.60zM464.02 274.49h1.60v1.60h-1.60zM466.36 273.92h1.60v1.60h-1.60zM468.69 272.34h1.60v1.60h-1.60zM471.03 273.52h1.60v1.60h-1.60zM473.37 272.01h1.60v1.60h-1.60zM475.71 271.51h1.60v1.60h-1.60zM478.05 268.47h1.60v1.60h-1.60zM480.39 268.72h1.60v1.60h-1.60zM482.73 267.99h1.60v1.60h-1.60zM330.70 286.70h1.60v1.60h-1.60zM333.04 286.71h1.60v1.60h-1.60zM335.38 286.73h1.60v1.60h-1.60zM337.72 286.74h1.60v1.60h-1.60zM340.06 286.76h1.60v1.60h-1.60zM342.39 286.77h1.60v1.60h-1.60zM344.73 286.78h1.60v1.60h-1.60zM347.07 286.80h1.60v1.60h-1.60zM349.41 286.81h1.60v1.60h-1.60zM351.75 286.83h1.60v1.60h-1.60zM354.09 286.84h1.60v1.60h-1.60zM356.43 286.85h1.60v1.60h-1.60zM358.77 286.87h1.60v1.60h-1.60zM361.11 286.88h1.60v1.60h-1.60zM363.44 286.90h1.60v1.60h-1.60zM365.78 286.91h1.60v1.60h-1.60zM368.12 286.92h1.60v1.60h-1.60zM370.46 286.94h1.60v1.60h-1.60zM372.80 286.95h1.60v1.60h-1.60zM375.14 286.97h1.60v1.60h-1.60zM377.48 286.98h1.60v1.60h-1.60zM379.82 286.99h1.60v1.60h-1.60zM382.16 287.01h1.60v1.60h-1.60zM384.49 287.02h1.60v1.60h-1.60zM386.83 287.03h1.60v1.60h-1.60zM389.17 287.05h1.60v1.60h-1.60zM391.51 287.06h1.60v1.60h-1.60zM393.85 287.08h1.60v1.60h-1.60zM396.19 287.09h1.60v1.60h-1.60zM398.53 287.10h1.60v1.60h-1.60zM400.87 287.12h1.60v1.60h-1.60zM403.21 287.13h1.60v1.60h-1.60zM405.54 287.15h1.60v1.60h-1.60zM407.88 287.16h1.60v1.60h-1.60zM410.22 287.17h1.60v1.60h-1.60zM412.56 287.19h1.60v1.60h-1.60zM414.90 287.20h1.60v1.60h-1.60zM417.24 287.22h1.60v1.60h-1.60zM419.58 287.23h1.60v1.60h-1.60zM421.92 287.24h1.60v1.60h-1.60zM424.26 287.26h1.60v1.60h-1.60zM426.59 287.27h1.60v1.60h-1.60zM428.93 287.29h1.60v1.60h-1.60zM431.27 287.30h1.60v1.60h-1.60zM433.61 287.31h1.60v1.60h-1.60zM435.95 287.33h1.60v1.60h-1.60zM438.29 287.34h1.60v1.60h-1.60zM440.63 287.36h1.60v1.60h-1.60zM442.97 286.47h1.60v1.60h-1.60zM445.31 285.79h1.60v1.60h-1.60zM330.70 286.70h1.60v1.60h-1.60zM333.04 286.72h1.60v1.60h-1.60zM335.38 286.74h1.60v1.60h-1.60zM337.72 286.76h1.60v1.60h-1.60zM340.06 286.78h1.60v1.60h-1.60zM342.39 286.80h1.60v1.60h-1.60zM344.73 286.83h1.60v1.60h-1.60zM347.07 286.85h1.60v1.60h-1.60zM349.41 286.87h1.60v1.60h-1.60zM351.75 286.89h1.60v1.60h-1.60zM354.09 286.91h1.60v1.60h-1.60zM356.43 286.93h1.60v1.60h-1.60zM358.77 286.95h1.60v1.60h-1.60zM361.11 286.97h1.60v1.60h-1.60zM363.44 286.99h1.60v1.60h-1.60zM365.78 287.01h1.60v1.60h-1.60zM368.12 287.03h1.60v1.60h-1.60zM370.46 287.06h1.60v1.60h-1.60zM372.80 287.08h1.60v1.60h-1.60zM375.14 287.10h1.60v1.60h-1.60zM377.48 287.12h1.60v1.60h-1.60zM379.82 287.14h1.60v1.60h-1.60zM382.16 287.16h1.60v1.60h-1.60zM384.49 287.18h1.60v1.60h-1.60zM386.83 287.20h1.60v1.60h-1.60zM389.17 287.22h1.60v1.60h-1.60zM391.51 287.24h1.60v1.60h-1.60zM393.85 287.27h1.60v1.60h-1.60zM396.19 287.29h1.60v1.60h-1.60zM398.53 287.31h1.60v1.60h-1.60zM400.87 287.33h1.60v1.60h-1.60zM403.21 287.35h1.60v1.60h-1.60zM405.54 287.37h1.60v1.60h-1.60zM407.88 287.39h1.60v1.60h-1.60zM410.22 287.41h1.60v1.60h-1.60zM412.56 287.43h1.60v1.60h-1.60zM414.90 287.45h1.60v1.60h-1.60zM417.24 287.47h1.60v1.60h-1.60zM419.58 287.50h1.60v1.60h-1.60zM421.92 287.52h1.60v1.60h-1.60zM424.26 287.54h1.60v1.60h-1.60zM426.59 287.56h1.60v1.60h-1.60zM428.93 287.58h1.60v1.60h-1.60zM431.27 287.60h1.60v1.60h-1.60zM433.61 287.62h1.60v1.60h-1.60zM435.95 287.64h1.60v1.60h-1.60zM438.29 287.66h1.60v1.60h-1.60zM440.63 287.68h1.60v1.60h-1.60zM442.97 287.04h1.60v1.60h-1.60zM445.31 285.32h1.60v1.60h-1.60zM447.64 284.91h1.60v1.60h-1.60zM449.98 285.74h1.60v1.60h-1.60zM452.32 285.38h1.60v1.60h-1.60zM454.66 282.72h1.60v1.60h-1.60zM457.00 282.99h1.60v1.60h-1.60zM459.34 282.00h1.60v1.60h-1.60zM461.68 282.96h1.60v1.60h-1.60zM464.02 282.40h1.60v1.60h-1.60zM466.36 280.10h1.60v1.60h-1.60zM468.69 280.15h1.60v1.60h-1.60zM471.03 280.43h1.60v1.60h-1.60zM473.37 277.51h1.60v1.60h-1.60zM475.71 277.67h1.60v1.60h-1.60zM478.05 276.58h1.60v1.60h-1.60zM330.70 286.70h1.60v1.60h-1.60zM333.04 286.73h1.60v1.60h-1.60zM335.38 286.76h1.60v1.60h-1.60zM337.72 286.78h1.60v1.60h-1.60zM340.06 286.81h1.60v1.60h-1.60zM342.39 286.84h1.60v1.60h-1.60zM344.73 286.87h1.60v1.60h-1.60zM347.07 286.90h1.60v1.60h-1.60zM349.41 286.92h1.60v1.60h-1.60zM351.75 286.95h1.60v1.60h-1.60zM354.09 286.98h1.60v1.60h-1.60zM356.43 287.01h1.60v1.60h-1.60zM358.77 287.03h1.60v1.60h-1.60zM361.11 287.06h1.60v1.60h-1.60zM363.44 287.09h1.60v1.60h-1.60zM365.78 287.12h1.60v1.60h-1.60zM368.12 287.15h1.60v1.60h-1.60zM370.46 287.17h1.60v1.60h-1.60zM372.80 287.20h1.60v1.60h-1.60zM375.14 287.23h1.60v1.60h-1.60zM377.48 287.26h1.60v1.60h-1.60zM379.82 287.29h1.60v1.60h-1.60zM382.16 287.31h1.60v1.60h-1.60zM384.49 287.34h1.60v1.60h-1.60zM386.83 287.37h1.60v1.60h-1.60zM389.17 287.40h1.60v1.60h-1.60zM391.51 287.43h1.60v1.60h-1.60zM393.85 287.45h1.60v1.60h-1.60zM396.19 287.48h1.60v1.60h-1.60zM398.53 287.51h1.60v1.60h-1.60zM400.87 287.54h1.60v1.60h-1.60zM403.21 287.57h1.60v1.60h-1.60zM405.54 287.59h1.60v1.60h-1.60zM407.88 287.62h1.60v1.60h-1.60zM410.22 287.65h1.60v1.60h-1.60zM412.56 287.68h1.60v1.60h-1.60zM414.90 287.70h1.60v1.60h-1.60zM417.24 287.73h1.60v1.60h-1.60zM419.58 287.76h1.60v1.60h-1.60zM421.92 287.79h1.60v1.60h-1.60zM424.26 287.82h1.60v1.60h-1.60zM426.59 287.84h1.60v1.60h-1.60zM428.93 287.87h1.60v1.60h-1.60zM431.27 287.90h1.60v1.60h-1.60zM433.61 287.93h1.60v1.60h-1.60zM435.95 287.96h1.60v1.60h-1.60zM438.29 287.98h1.60v1.60h-1.60zM440.63 288.01h1.60v1.60h-1.60zM442.97 287.53h1.60v1.60h-1.60zM445.31 288.13h1.60v1.60h-1.60zM330.70 286.70h1.60v1.60h-1.60zM333.04 286.73h1.60v1.60h-1.60zM335.38 286.77h1.60v1.60h-1.60zM337.72 286.80h1.60v1.60h-1.60zM340.06 286.84h1.60v1.60h-1.60zM342.39 286.87h1.60v1.60h-1.60zM344.73 286.91h1.60v1.60h-1.60zM347.07 286.94h1.60v1.60h-1.60zM349.41 286.98h1.60v1.60h-1.60zM351.75 287.01h1.60v1.60h-1.60zM354.09 287.05h1.60v1.60h-1.60zM356.43 287.08h1.60v1.60h-1.60zM358.77 287.12h1.60v1.60h-1.60zM361.11 287.15h1.60v1.60h-1.60zM363.44 287.19h1.60v1.60h-1.60zM365.78 287.22h1.60v1.60h-1.60zM368.12 287.26h1.60v1.60h-1.60zM370.46 287.29h1.60v1.60h-1.60zM372.80 287.33h1.60v1.60h-1.60zM375.14 287.36h1.60v1.60h-1.60zM377.48 287.40h1.60v1.60h-1.60zM379.82 287.43h1.60v1.60h-1.60zM382.16 287.47h1.60v1.60h-1.60zM384.49 287.50h1.60v1.60h-1.60zM386.83 287.54h1.60v1.60h-1.60zM389.17 287.57h1.60v1.60h-1.60zM391.51 287.61h1.60v1.60h-1.60zM393.85 287.64h1.60v1.60h-1.60zM396.19 287.68h1.60v1.60h-1.60zM398.53 287.71h1.60v1.60h-1.60zM400.87 287.75h1.60v1.60h-1.60zM403.21 287.78h1.60v1.60h-1.60zM405.54 287.82h1.60v1.60h-1.60zM407.88 287.85h1.60v1.60h-1.60zM410.22 287.89h1.60v1.60h-1.60zM412.56 287.92h1.60v1.60h-1.60zM414.90 287.96h1.60v1.60h-1.60zM417.24 287.99h1.60v1.60h-1.60zM419.58 288.03h1.60v1.60h-1.60zM421.92 288.06h1.60v1.60h-1.60zM424.26 288.10h1.60v1.60h-1.60zM426.59 288.13h1.60v1.60h-1.60zM428.93 288.17h1.60v1.60h-1.60zM431.27 288.20h1.60v1.60h-1.60zM433.61 288.24h1.60v1.60h-1.60zM435.95 288.27h1.60v1.60h-1.60zM438.29 288.31h1.60v1.60h-1.60zM440.63 288.34h1.60v1.60h-1.60zM442.97 288.02h1.60v1.60h-1.60zM445.31 286.77h1.60v1.60h-1.60zM447.64 288.53h1.60v1.60h-1.60zM449.98 286.13h1.60v1.60h-1.60zM452.32 286.88h1.60v1.60h-1.60zM454.66 286.87h1.60v1.60h-1.60zM457.00 285.99h1.60v1.60h-1.60zM459.34 284.70h1.60v1.60h-1.60zM461.68 286.11h1.60v1.60h-1.60zM464.02 286.16h1.60v1.60h-1.60zM466.36 284.80h1.60v1.60h-1.60zM468.69 285.24h1.60v1.60h-1.60zM471.03 285.26h1.60v1.60h-1.60zM473.37 284.81h1.60v1.60h-1.60zM475.71 284.79h1.60v1.60h-1.60zM484.60 253.70h1.60v1.60h-1.60zM493.49 249.15h1.60v1.60h-1.60zM486.94 275.40h1.60v1.60h-1.60zM497.70 282.41h1.60v1.60h-1.60zM476.18 245.92h1.60v1.60h-1.60zM480.39 242.42h1.60v1.60h-1.60z" fill="#009e73"/>
<path d="M330.70 286.70h1.60v1.60h-1.60zM333.04 286.32h1.60v1.60h-1.60zM335.38 285.93h1.60v1.60h-1.60zM337.72 285.55h1.60v1.60h-1.60zM340.06 285.16h1.60v1.60h-1.60zM342.39 284.78h1.60v1.60h-1.60zM344.73 284.40h1.60v1.60h-1.60zM347.07 284.01h1.60v1.60h-1.60zM349.41 283.63h1.60v1.60h-1.60zM351.75 283.25h1.60v1.60h-1.60zM354.09 282.86h1.60v1.60h-1.60zM356.43 282.48h1.60v1.60h-1.60zM358.77 282.09h1.60v1.60h-1.60zM361.11 281.71h1.60v1.60h-1.60zM363.44 281.33h1.60v1.60h-1.60zM365.78 280.94h1.60v1.60h-1.60zM368.12 280.56h1.60v1.60h-1.60zM370.46 280.17h1.60v1.60h-1.60zM372.80 279.79h1.60v1.60h-1.60zM375.14 279.41h1.60v1.60h-1.60zM377.48 279.02h1.60v1.60h-1.60zM379.82 278.64h1.60v1.60h-1.60zM382.16 278.26h1.60v1.60h-1.60zM384.49 277.87h1.60v1.60h-1.60zM386.83 277.49h1.60v1.60h-1.60zM389.17 277.10h1.60v1.60h-1.60zM391.51 276.72h1.60v1.60h-1.60zM393.85 276.34h1.60v1.60h-1.60zM396.19 275.95h1.60v1.60h-1.60zM398.53 275.57h1.60v1.60h-1.60zM400.87 275.19h1.60v1.60h-1.60zM403.21 274.80h1.60v1.60h-1.60zM405.54 274.42h1.60v1.60h-1.60zM407.88 274.03h1.60v1.60h-1.60zM410.22 273.65h1.60v1.60h-1.60zM412.56 273.27h1.60v1.60h-1.60zM414.90 272.88h1.60v1.60h-1.60zM417.24 272.50h1.60v1.60h-1.60zM419.58 272.11h1.60v1.60h-1.60zM421.92 271.73h1.60v1.60h-1.60zM424.26 271.35h1.60v1.60h-1.60zM426.59 270.96h1.60v1.60h-1.60zM428.93 270.58h1.60v1.60h-1.60zM431.27 270.20h1.60v1.60h-1.60zM433.61 269.81h1.60v1.60h-1.60zM435.95 269.43h1.60v1.60h-1.60zM438.29 269.04h1.60v1.60h-1.60zM440.63 268.66h1.60v1.60h-1.60zM442.97 264.83h1.60v1.60h-1.60zM445.31 262.27h1.60v1.60h-1.60zM447.64 257.78h1.60v1.60h-1.60zM449.98 255.25h1.60v1.60h-1.60zM452.32 250.51h1.60v1.60h-1.60zM454.66 247.61h1.60v1.60h-1.60zM457.00 240.96h1.60v1.60h-1.60zM459.34 237.85h1.60v1.60h-1.60zM461.68 235.44h1.60v1.60h-1.60zM464.02 230.49h1.60v1.60h-1.60zM466.36 224.86h1.60v1.60h-1.60zM468.69 224.29h1.60v1.60h-1.60zM471.03 217.66h1.60v1.60h-1.60zM473.37 215.35h1.60v1.60h-1.60zM475.71 211.28h1.60v1.60h-1.60zM478.05 206.12h1.60v1.60h-1.60zM480.39 204.03h1.60v1.60h-1.60zM482.73 199.75h1.60v1.60h-1.60zM485.07 195.21h1.60v1.60h-1.60zM487.41 190.23h1.60v1.60h-1.60zM489.74 188.92h1.60v1.60h-1.60zM330.70 286.70h1.60v1.60h-1.60zM333.04 286.35h1.60v1.60h-1.60zM335.38 286.00h1.60v1.60h-1.60zM337.72 285.65h1.60v1.60h-1.60zM340.06 285.30h1.60v1.60h-1.60zM342.39 284.96h1.60v1.60h-1.60zM344.73 284.61h1.60v1.60h-1.60zM347.07 284.26h1.60v1.60h-1.60zM349.41 283.91h1.60v1.60h-1.60zM351.75 283.56h1.60v1.60h-1.60zM354.09 283.21h1.60v1.60h-1.60zM356.43 282.86h1.60v1.60h-1.60zM358.77 282.51h1.60v1.60h-1.60zM361.11 282.16h1.60v1.60h-1.60zM363.44 281.81h1.60v1.60h-1.60zM365.78 281.47h1.60v1.60h-1.60zM368.12 281.12h1.60v1.60h-1.60zM370.46 280.77h1.60v1.60h-1.60zM372.80 280.42h1.60v1.60h-1.60zM375.14 280.07h1.60v1.60h-1.60zM377.48 279.72h1.60v1.60h-1.60zM379.82 279.37h1.60v1.60h-1.60zM382.16 279.02h1.60v1.60h-1.60zM384.49 278.67h1.60v1.60h-1.60zM386.83 278.33h1.60v1.60h-1.60zM389.17 277.98h1.60v1.60h-1.60zM391.51 277.63h1.60v1.60h-1.60zM393.85 277.28h1.60v1.60h-1.60zM396.19 276.93h1.60v1.60h-1.60zM398.53 276.58h1.60v1.60h-1.60zM400.87 276.23h1.60v1.60h-1.60zM403.21 275.88h1.60v1.60h-1.60zM405.54 275.53h1.60v1.60h-1.60zM407.88 275.19h1.60v1.60h-1.60zM410.22 274.84h1.60v1.60h-1.60zM412.56 274.49h1.60v1.60h-1.60zM414.90 274.14h1.60v1.60h-1.60zM417.24 273.79h1.60v1.60h-1.60zM419.58 273.44h1.60v1.60h-1.60zM421.92 273.09h1.60v1.60h-1.60zM424.26 272.74h1.60v1.60h-1.60zM426.59 272.39h1.60v1.60h-1.60zM428.93 272.04h1.60v1.60h-1.60zM431.27 271.70h1.60v1.60h-1.60zM433.61 271.35h1.60v1.60h-1.60zM435.95 271.00h1.60v1.60h-1.60zM438.29 270.65h1.60v1.60h-1.60zM440.63 270.30h1.60v1.60h-1.60zM442.97 266.94h1.60v1.60h-1.60zM445.31 262.27h1.60v1.60h-1.60zM330.70 286.70h1.60v1.60h-1.60zM333.04 286.39h1.60v1.60h-1.60zM335.38 286.07h1.60v1.60h-1.60zM337.72 285.76h1.60v1.60h-1.60zM340.06 285.44h1.60v1.60h-1.60zM342.39 285.13h1.60v1.60h-1.60zM344.73 284.82h1.60v1.60h-1.60zM347.07 284.50h1.60v1.60h-1.60zM349.41 284.19h1.60v1.60h-1.60zM351.75 283.87h1.60v1.60h-1.60zM354.09 283.56h1.60v1.60h-1.60zM356.43 283.25h1.60v1.60h-1.60zM358.77 282.93h1.60v1.60h-1.60zM361.11 282.62h1.60v1.60h-1.60zM363.44 282.30h1.60v1.60h-1.60zM365.78 281.99h1.60v1.60h-1.60zM368.12 281.68h1.60v1.60h-1.60zM370.46 281.36h1.60v1.60h-1.60zM372.80 281.05h1.60v1.60h-1.60zM375.14 280.73h1.60v1.60h-1.60zM377.48 280.42h1.60v1.60h-1.60zM379.82 280.11h1.60v1.60h-1.60zM382.16 279.79h1.60v1.60h-1.60zM384.49 279.48h1.60v1.60h-1.60zM386.83 279.16h1.60v1.60h-1.60zM389.17 278.85h1.60v1.60h-1.60zM391.51 278.53h1.60v1.60h-1.60zM393.85 278.22h1.60v1.60h-1.60zM396.19 277.91h1.60v1.60h-1.60zM398.53 277.59h1.60v1.60h-1.60zM400.87 277.28h1.60v1.60h-1.60zM403.21 276.96h1.60v1.60h-1.60zM405.54 276.65h1.60v1.60h-1.60zM407.88 276.34h1.60v1.60h-1.60zM410.22 276.02h1.60v1.60h-1.60zM412.56 275.71h1.60v1.60h-1.60zM414.90 275.39h1.60v1.60h-1.60zM417.24 275.08h1.60v1.60h-1.60zM419.58 274.77h1.60v1.60h-1.60zM421.92 274.45h1.60v1.60h-1.60zM424.26 274.14h1.60v1.60h-1.60zM426.59 273.82h1.60v1.60h-1.60zM428.93 273.51h1.60v1.60h-1.60zM431.27 273.20h1.60v1.60h-1.60zM433.61 272.88h1.60v1.60h-1.60zM435.95 272.57h1.60v1.60h-1.60zM438.29 272.25h1.60v1.60h-1.60zM440.63 271.94h1.60v1.60h-1.60zM442.97 269.07h1.60v1.60h-1.60zM445.31 265.39h1.60v1.60h-1.60zM447.64 262.79h1.60v1.60h-1.60zM449.98 260.84h1.60v1.60h-1.60zM452.32 258.19h1.60v1.60h-1.60zM454.66 256.47h1.60v1.60h-1.60zM457.00 253.31h1.60v1.60h-1.60zM459.34 250.67h1.60v1.60h-1.60zM461.68 245.16h1.60v1.60h-1.60zM464.02 244.20h1.60v1.60h-1.60zM466.36 241.70h1.60v1.60h-1.60zM468.69 239.14h1.60v1.60h-1.60zM471.03 233.29h1.60v1.60h-1.60zM473.37 230.30h1.60v1.60h-1.60zM475.71 228.22h1.60v1.60h-1.60zM478.05 226.88h1.60v1.60h-1.60zM480.39 224.16h1.60v1.60h-1.60zM482.73 221.09h1.60v1.60h-1.60zM485.07 217.57h1.60v1.60h-1.60zM487.41 215.89h1.60v1.60h-1.60zM330.70 286.70h1.60v1.60h-1.60zM333.04 286.42h1.60v1.60h-1.60zM335.38 286.14h1.60v1.60h-1.60zM337.72 285.86h1.60v1.60h-1.60zM340.06 285.58h1.60v1.60h-1.60zM342.39 285.30h1.60v1.60h-1.60zM344.73 285.03h1.60v1.60h-1.60zM347.07 284.75h1.60v1.60h-1.60zM349.41 284.47h1.60v1.60h-1.60zM351.75 284.19h1.60v1.60h-1.60zM354.09 283.91h1.60v1.60h-1.60zM356.43 283.63h1.60v1.60h-1.60zM358.77 283.35h1.60v1.60h-1.60zM361.11 283.07h1.60v1.60h-1.60zM363.44 282.79h1.60v1.60h-1.60zM365.78 282.51h1.60v1.60h-1.60zM368.12 282.23h1.60v1.60h-1.60zM370.46 281.95h1.60v1.60h-1.60zM372.80 281.68h1.60v1.60h-1.60zM375.14 281.40h1.60v1.60h-1.60zM377.48 281.12h1.60v1.60h-1.60zM379.82 280.84h1.60v1.60h-1.60zM382.16 280.56h1.60v1.60h-1.60zM384.49 280.28h1.60v1.60h-1.60zM386.83 280.00h1.60v1.60h-1.60zM389.17 279.72h1.60v1.60h-1.60zM391.51 279.44h1.60v1.60h-1.60zM393.85 279.16h1.60v1.60h-1.60zM396.19 278.88h1.60v1.60h-1.60zM398.53 278.60h1.60v1.60h-1.60zM400.87 278.33h1.60v1.60h-1.60zM403.21 278.05h1.60v1.60h-1.60zM405.54 277.77h1.60v1.60h-1.60zM407.88 277.49h1.60v1.60h-1.60zM410.22 277.21h1.60v1.60h-1.60zM412.56 276.93h1.60v1.60h-1.60zM414.90 276.65h1.60v1.60h-1.60zM417.24 276.37h1.60v1.60h-1.60zM419.58 276.09h1.60v1.60h-1.60zM421.92 275.81h1.60v1.60h-1.60zM424.26 275.53h1.60v1.60h-1.60zM426.59 275.25h1.60v1.60h-1.60zM428.93 274.98h1.60v1.60h-1.60zM431.27 274.70h1.60v1.60h-1.60zM433.61 274.42h1.60v1.60h-1.60zM435.95 274.14h1.60v1.60h-1.60zM438.29 273.86h1.60v1.60h-1.60zM440.63 273.58h1.60v1.60h-1.60zM442.97 271.06h1.60v1.60h-1.60zM445.31 268.75h1.60v1.60h-1.60zM330.70 286.70h1.60v1.60h-1.60zM333.04 286.46h1.60v1.60h-1.60zM335.38 286.21h1.60v1.60h-1.60zM337.72 285.97h1.60v1.60h-1.60zM340.06 285.72h1.60v1.60h-1.60zM342.39 285.48h1.60v1.60h-1.60zM344.73 285.23h1.60v1.60h-1.60zM347.07 284.99h1.60v1.60h-1.60zM349.41 284.75h1.60v1.60h-1.60zM351.75 284.50h1.60v1.60h-1.60zM354.09 284.26h1.60v1.60h-1.60zM356.43 284.01h1.60v1.60h-1.60zM358.77 283.77h1.60v1.60h-1.60zM361.11 283.52h1.60v1.60h-1.60zM363.44 283.28h1.60v1.60h-1.60zM365.78 283.04h1.60v1.60h-1.60zM368.12 282.79h1.60v1.60h-1.60zM370.46 282.55h1.60v1.60h-1.60zM372.80 282.30h1.60v1.60h-1.60zM375.14 282.06h1.60v1.60h-1.60zM377.48 281.81h1.60v1.60h-1.60zM379.82 281.57h1.60v1.60h-1.60zM382.16 281.33h1.60v1.60h-1.60zM384.49 281.08h1.60v1.60h-1.60zM386.83 280.84h1.60v1.60h-1.60zM389.17 280.59h1.60v1.60h-1.60zM391.51 280.35h1.60v1.60h-1.60zM393.85 280.11h1.60v1.60h-1.60zM396.19 279.86h1.60v1.60h-1.60zM398.53 279.62h1.60v1.60h-1.60zM400.87 279.37h1.60v1.60h-1.60zM403.21 279.13h1.60v1.60h-1.60zM405.54 278.88h1.60v1.60h-1.60zM407.88 278.64h1.60v1.60h-1.60zM410.22 278.40h1.60v1.60h-1.60zM412.56 278.15h1.60v1.60h-1.60zM414.90 277.91h1.60v1.60h-1.60zM417.24 277.66h1.60v1.60h-1.60zM419.58 277.42h1.60v1.60h-1.60zM421.92 277.17h1.60v1.60h-1.60zM424.26 276.93h1.60v1.60h-1.60zM426.59 276.69h1.60v1.60h-1.60zM428.93 276.44h1.60v1.60h-1.60zM431.27 276.20h1.60v1.60h-1.60zM433.61 275.95h1.60v1.60h-1.60zM435.95 275.71h1.60v1.60h-1.60zM438.29 275.46h1.60v1.60h-1.60zM440.63 275.22h1.60v1.60h-1.60zM442.97 273.06h1.60v1.60h-1.60zM445.31 271.84h1.60v1.60h-1.60zM447.64 266.93h1.60v1.60h-1.60zM449.98 264.73h1.60v1.60h-1.60zM452.32 264.25h1.60v1.60h-1.60zM454.66 263.28h1.60v1.60h-1.60zM457.00 258.28h1.60v1.60h-1.60zM459.34 258.71h1.60v1.60h-1.60zM461.68 256.36h1.60v1.60h-1.60zM464.02 255.60h1.60v1.60h-1.60zM466.36 251.95h1.60v1.60h-1.60zM468.69 249.43h1.60v1.60h-1.60zM471.03 247.16h1.60v1.60h-1.60zM473.37 246.19h1.60v1.60h-1.60zM475.71 242.83h1.60v1.60h-1.60zM478.05 242.64h1.60v1.60h-1.60zM480.39 239.46h1.60v1.60h-1.60zM482.73 237.99h1.60v1.60h-1.60zM485.07 234.62h1.60v1.60h-1.60zM330.70 286.70h1.60v1.60h-1.60zM333.04 286.49h1.60v1.60h-1.60zM335.38 286.28h1.60v1.60h-1.60zM337.72 286.07h1.60v1.60h-1.60zM340.06 285.86h1.60v1.60h-1.60zM342.39 285.65h1.60v1.60h-1.60zM344.73 285.44h1.60v1.60h-1.60zM347.07 285.23h1.60v1.60h-1.60zM349.41 285.03h1.60v1.60h-1.60zM351.75 284.82h1.60v1.60h-1.60zM354.09 284.61h1.60v1.60h-1.60zM356.43 284.40h1.60v1.60h-1.60zM358.77 284.19h1.60v1.60h-1.60zM361.11 283.98h1.60v1.60h-1.60zM363.44 283.77h1.60v1.60h-1.60zM365.78 283.56h1.60v1.60h-1.60zM368.12 283.35h1.60v1.60h-1.60zM370.46 283.14h1.60v1.60h-1.60zM372.80 282.93h1.60v1.60h-1.60zM375.14 282.72h1.60v1.60h-1.60zM377.48 282.51h1.60v1.60h-1.60zM379.82 282.30h1.60v1.60h-1.60zM382.16 282.09h1.60v1.60h-1.60zM384.49 281.88h1.60v1.60h-1.60zM386.83 281.68h1.60v1.60h-1.60zM389.17 281.47h1.60v1.60h-1.60zM391.51 281.26h1.60v1.60h-1.60zM393.85 281.05h1.60v1.60h-1.60zM396.19 280.84h1.60v1.60h-1.60zM398.53 280.63h1.60v1.60h-1.60zM400.87 280.42h1.60v1.60h-1.60zM403.21 280.21h1.60v1.60h-1.60zM405.54 280.00h1.60v1.60h-1.60zM407.88 279.79h1.60v1.60h-1.60zM410.22 279.58h1.60v1.60h-1.60zM412.56 279.37h1.60v1.60h-1.60zM414.90 279.16h1.60v1.60h-1.60zM417.24 278.95h1.60v1.60h-1.60zM419.58 278.74h1.60v1.60h-1.60zM421.92 278.53h1.60v1.60h-1.60zM424.26 278.33h1.60v1.60h-1.60zM426.59 278.12h1.60v1.60h-1.60zM428.93 277.91h1.60v1.60h-1.60zM431.27 277.70h1.60v1.60h-1.60zM433.61 277.49h1.60v1.60h-1.60zM435.95 277.28h1.60v1.60h-1.60zM438.29 277.07h1.60v1.60h-1.60zM440.63 276.86h1.60v1.60h-1.60zM442.97 275.09h1.60v1.60h-1.60zM445.31 275.12h1.60v1.60h-1.60zM330.70 286.70h1.60v1.60h-1.60zM333.04 286.53h1.60v1.60h-1.60zM335.38 286.37h1.60v1.60h-1.60zM337.72 286.20h1.60v1.60h-1.60zM340.06 286.03h1.60v1.60h-1.60zM342.39 285.86h1.60v1.60h-1.60zM344.73 285.70h1.60v1.60h-1.60zM347.07 285.53h1.60v1.60h-1.60zM349.41 285.36h1.60v1.60h-1.60zM351.75 285.19h1.60v1.60h-1.60zM354.09 285.03h1.60v1.60h-1.60zM356.43 284.86h1.60v1.60h-1.60zM358.77 284.69h1.60v1.60h-1.60zM361.11 284.52h1.60v1.60h-1.60zM363.44 284.36h1.60v1.60h-1.60zM365.78 284.19h1.60v1.60h-1.60zM368.12 284.02h1.60v1.60h-1.60zM370.46 283.85h1.60v1.60h-1.60zM372.80 283.69h1.60v1.60h-1.60zM375.14 283.52h1.60v1.60h-1.60zM377.48 283.35h1.60v1.60h-1.60zM379.82 283.18h1.60v1.60h-1.60zM382.16 283.02h1.60v1.60h-1.60zM384.49 282.85h1.60v1.60h-1.60zM386.83 282.68h1.60v1.60h-1.60zM389.17 282.51h1.60v1.60h-1.60zM391.51 282.35h1.60v1.60h-1.60zM393.85 282.18h1.60v1.60h-1.60zM396.19 282.01h1.60v1.60h-1.60zM398.53 281.84h1.60v1.60h-1.60zM400.87 281.68h1.60v1.60h-1.60zM403.21 281.51h1.60v1.60h-1.60zM405.54 281.34h1.60v1.60h-1.60zM407.88 281.17h1.60v1.60h-1.60zM410.22 281.01h1.60v1.60h-1.60zM412.56 280.84h1.60v1.60h-1.60zM414.90 280.67h1.60v1.60h-1.60zM417.24 280.50h1.60v1.60h-1.60zM419.58 280.34h1.60v1.60h-1.60zM421.92 280.17h1.60v1.60h-1.60zM424.26 280.00h1.60v1.60h-1.60zM426.59 279.83h1.60v1.60h-1.60zM428.93 279.67h1.60v1.60h-1.60zM431.27 279.50h1.60v1.60h-1.60zM433.61 279.33h1.60v1.60h-1.60zM435.95 279.16h1.60v1.60h-1.60zM438.29 279.00h1.60v1.60h-1.60zM440.63 278.83h1.60v1.60h-1.60zM442.97 277.44h1.60v1.60h-1.60zM445.31 277.94h1.60v1.60h-1.60zM447.64 275.44h1.60v1.60h-1.60zM449.98 274.34h1.60v1.60h-1.60zM452.32 271.57h1.60v1.60h-1.60zM454.66 270.40h1.60v1.60h-1.60zM457.00 268.15h1.60v1.60h-1.60zM459.34 267.13h1.60v1.60h-1.60zM461.68 265.51h1.60v1.60h-1.60zM464.02 263.49h1.60v1.60h-1.60zM466.36 264.03h1.60v1.60h-1.60zM468.69 262.89h1.60v1.60h-1.60zM471.03 258.92h1.60v1.60h-1.60zM473.37 260.82h1.60v1.60h-1.60zM475.71 257.17h1.60v1.60h-1.60zM478.05 256.11h1.60v1.60h-1.60zM480.39 257.08h1.60v1.60h-1.60zM482.73 252.58h1.60v1.60h-1.60zM330.70 286.70h1.60v1.60h-1.60zM333.04 286.57h1.60v1.60h-1.60zM335.38 286.45h1.60v1.60h-1.60zM337.72 286.32h1.60v1.60h-1.60zM340.06 286.20h1.60v1.60h-1.60zM342.39 286.07h1.60v1.60h-1.60zM344.73 285.95h1.60v1.60h-1.60zM347.07 285.82h1.60v1.60h-1.60zM349.41 285.70h1.60v1.60h-1.60zM351.75 285.57h1.60v1.60h-1.60zM354.09 285.44h1.60v1.60h-1.60zM356.43 285.32h1.60v1.60h-1.60zM358.77 285.19h1.60v1.60h-1.60zM361.11 285.07h1.60v1.60h-1.60zM363.44 284.94h1.60v1.60h-1.60zM365.78 284.82h1.60v1.60h-1.60zM368.12 284.69h1.60v1.60h-1.60zM370.46 284.56h1.60v1.60h-1.60zM372.80 284.44h1.60v1.60h-1.60zM375.14 284.31h1.60v1.60h-1.60zM377.48 284.19h1.60v1.60h-1.60zM379.82 284.06h1.60v1.60h-1.60zM382.16 283.94h1.60v1.60h-1.60zM384.49 283.81h1.60v1.60h-1.60zM386.83 283.69h1.60v1.60h-1.60zM389.17 283.56h1.60v1.60h-1.60zM391.51 283.43h1.60v1.60h-1.60zM393.85 283.31h1.60v1.60h-1.60zM396.19 283.18h1.60v1.60h-1.60zM398.53 283.06h1.60v1.60h-1.60zM400.87 282.93h1.60v1.60h-1.60zM403.21 282.81h1.60v1.60h-1.60zM405.54 282.68h1.60v1.60h-1.60zM407.88 282.55h1.60v1.60h-1.60zM410.22 282.43h1.60v1.60h-1.60zM412.56 282.30h1.60v1.60h-1.60zM414.90 282.18h1.60v1.60h-1.60zM417.24 282.05h1.60v1.60h-1.60zM419.58 281.93h1.60v1.60h-1.60zM421.92 281.80h1.60v1.60h-1.60zM424.26 281.68h1.60v1.60h-1.60zM426.59 281.55h1.60v1.60h-1.60zM428.93 281.42h1.60v1.60h-1.60zM431.27 281.30h1.60v1.60h-1.60zM433.61 281.17h1.60v1.60h-1.60zM435.95 281.05h1.60v1.60h-1.60zM438.29 280.92h1.60v1.60h-1.60zM440.63 280.80h1.60v1.60h-1.60zM442.97 279.63h1.60v1.60h-1.60zM445.31 276.93h1.60v1.60h-1.60zM447.64 276.81h1.60v1.60h-1.60zM449.98 275.23h1.60v1.60h-1.60zM452.32 273.76h1.60v1.60h-1.60zM454.66 275.24h1.60v1.60h-1.60zM457.00 272.57h1.60v1.60h-1.60zM459.34 271.48h1.60v1.60h-1.60zM461.68 269.02h1.60v1.60h-1.60zM464.02 267.98h1.60v1.60h-1.60zM466.36 266.73h1.60v1.60h-1.60zM468.69 266.52h1.60v1.60h-1.60zM471.03 264.14h1.60v1.60h-1.60zM473.37 263.81h1.60v1.60h-1.60zM475.71 262.60h1.60v1.60h-1.60zM478.05 263.27h1.60v1.60h-1.60zM480.39 262.89h1.60v1.60h-1.60zM330.70 286.70h1.60v1.60h-1.60zM333.04 286.62h1.60v1.60h-1.60zM335.38 286.53h1.60v1.60h-1.60zM337.72 286.45h1.60v1.60h-1.60zM340.06 286.37h1.60v1.60h-1.60zM342.39 286.28h1.60v1.60h-1.60zM344.73 286.20h1.60v1.60h-1.60zM347.07 286.11h1.60v1.60h-1.60zM349.41 286.03h1.60v1.60h-1.60zM351.75 285.95h1.60v1.60h-1.60zM354.09 285.86h1.60v1.60h-1.60zM356.43 285.78h1.60v1.60h-1.60zM358.77 285.70h1.60v1.60h-1.60zM361.11 285.61h1.60v1.60h-1.60zM363.44 285.53h1.60v1.60h-1.60zM365.78 285.44h1.60v1.60h-1.60zM368.12 285.36h1.60v1.60h-1.60zM370.46 285.28h1.60v1.60h-1.60zM372.80 285.19h1.60v1.60h-1.60zM375.14 285.11h1.60v1.60h-1.60zM377.48 285.03h1.60v1.60h-1.60zM379.82 284.94h1.60v1.60h-1.60zM382.16 284.86h1.60v1.60h-1.60zM384.49 284.77h1.60v1.60h-1.60zM386.83 284.69h1.60v1.60h-1.60zM389.17 284.61h1.60v1.60h-1.60zM391.51 284.52h1.60v1.60h-1.60zM393.85 284.44h1.60v1.60h-1.60zM396.19 284.36h1.60v1.60h-1.60zM398.53 284.27h1.60v1.60h-1.60zM400.87 284.19h1.60v1.60h-1.60zM403.21 284.10h1.60v1.60h-1.60zM405.54 284.02h1.60v1.60h-1.60zM407.88 283.94h1.60v1.60h-1.60zM410.22 283.85h1.60v1.60h-1.60zM412.56 283.77h1.60v1.60h-1.60zM414.90 283.69h1.60v1.60h-1.60zM417.24 283.60h1.60v1.60h-1.60zM419.58 283.52h1.60v1.60h-1.60zM421.92 283.43h1.60v1.60h-1.60zM424.26 283.35h1.60v1.60h-1.60zM426.59 283.27h1.60v1.60h-1.60zM428.93 283.18h1.60v1.60h-1.60zM431.27 283.10h1.60v1.60h-1.60zM433.61 283.02h1.60v1.60h-1.60zM435.95 282.93h1.60v1.60h-1.60zM438.29 282.85h1.60v1.60h-1.60zM440.63 282.76h1.60v1.60h-1.60zM442.97 281.84h1.60v1.60h-1.60zM445.31 282.36h1.60v1.60h-1.60zM330.70 286.70h1.60v1.60h-1.60zM333.04 286.66h1.60v1.60h-1.60zM335.38 286.62h1.60v1.60h-1.60zM337.72 286.57h1.60v1.60h-1.60zM340.06 286.53h1.60v1.60h-1.60zM342.39 286.49h1.60v1.60h-1.60zM344.73 286.45h1.60v1.60h-1.60zM347.07 286.41h1.60v1.60h-1.60zM349.41 286.37h1.60v1.60h-1.60zM351.75 286.32h1.60v1.60h-1.60zM354.09 286.28h1.60v1.60h-1.60zM356.43 286.24h1.60v1.60h-1.60zM358.77 286.20h1.60v1.60h-1.60zM361.11 286.16h1.60v1.60h-1.60zM363.44 286.11h1.60v1.60h-1.60zM365.78 286.07h1.60v1.60h-1.60zM368.12 286.03h1.60v1.60h-1.60zM370.46 285.99h1.60v1.60h-1.60zM372.80 285.95h1.60v1.60h-1.60zM375.14 285.90h1.60v1.60h-1.60zM377.48 285.86h1.60v1.60h-1.60zM379.82 285.82h1.60v1.60h-1.60zM382.16 285.78h1.60v1.60h-1.60zM384.49 285.74h1.60v1.60h-1.60zM386.83 285.70h1.60v1.60h-1.60zM389.17 285.65h1.60v1.60h-1.60zM391.51 285.61h1.60v1.60h-1.60zM393.85 285.57h1.60v1.60h-1.60zM396.19 285.53h1.60v1.60h-1.60zM398.53 285.49h1.60v1.60h-1.60zM400.87 285.44h1.60v1.60h-1.60zM403.21 285.40h1.60v1.60h-1.60zM405.54 285.36h1.60v1.60h-1.60zM407.88 285.32h1.60v1.60h-1.60zM410.22 285.28h1.60v1.60h-1.60zM412.56 285.23h1.60v1.60h-1.60zM414.90 285.19h1.60v1.60h-1.60zM417.24 285.15h1.60v1.60h-1.60zM419.58 285.11h1.60v1.60h-1.60zM421.92 285.07h1.60v1.60h-1.60zM424.26 285.03h1.60v1.60h-1.60zM426.59 284.98h1.60v1.60h-1.60zM428.93 284.94h1.60v1.60h-1.60zM431.27 284.90h1.60v1.60h-1.60zM433.61 284.86h1.60v1.60h-1.60zM435.95 284.82h1.60v1.60h-1.60zM438.29 284.77h1.60v1.60h-1.60zM440.63 284.73h1.60v1.60h-1.60zM442.97 284.06h1.60v1.60h-1.60zM445.31 283.93h1.60v1.60h-1.60zM447.64 284.26h1.60v1.60h-1.60zM449.98 280.71h1.60v1.60h-1.60zM452.32 281.12h1.60v1.60h-1.60zM454.66 280.17h1.60v1.60h-1.60zM457.00 279.50h1.60v1.60h-1.60zM459.34 278.61h1.60v1.60h-1.60zM461.68 278.69h1.60v1.60h-1.60zM464.02 279.93h1.60v1.60h-1.60zM466.36 276.13h1.60v1.60h-1.60zM468.69 275.64h1.60v1.60h-1.60zM471.03 275.93h1.60v1.60h-1.60zM473.37 275.13h1.60v1.60h-1.60zM475.71 273.97h1.60v1.60h-1.60zM478.05 275.63h1.60v1.60h-1.60zM496.06 209.34h1.60v1.60h-1.60zM503.08 202.72h1.60v1.60h-1.60zM500.27 208.01h1.60v1.60h-1.60zM507.99 220.71h1.60v1.60h-1.60zM510.09 232.33h1.60v1.60h-1.60zM512.67 246.86h1.60v1.60h-1.60zM515.00 258.86h1.60v1.60h-1.60zM517.34 267.44h1.60v1.60h-1.60zM519.68 284.76h1.60v1.60h-1.60zM497.93 228.12h1.60v1.60h-1.60zM504.95 240.86h1.60v1.60h-1.60zM493.25 190.86h1.60v1.60h-1.60z" fill="#56b4e9"/>
<path d="M42.30 137.60v-2.6M42.30 6.30v2.6M63.62 137.60v-2.6M63.62 6.30v2.6M84.94 137.60v-2.6M84.94 6.30v2.6M106.26 137.60v-2.6M106.26 6.30v2.6M127.58 137.60v-2.6M127.58 6.30v2.6M148.90 137.60v-2.6M148.90 6.30v2.6M170.22 137.60v-2.6M170.22 6.30v2.6M191.54 137.60v-2.6M191.54 6.30v2.6M212.86 137.60v-2.6M212.86 6.30v2.6M234.18 137.60v-2.6M234.18 6.30v2.6M255.50 137.60v-2.6M255.50 6.30v2.6M42.30 137.60h2.6M255.50 137.60h-2.6M42.30 121.19h2.6M255.50 121.19h-2.6M42.30 104.78h2.6M255.50 104.78h-2.6M42.30 88.36h2.6M255.50 88.36h-2.6M42.30 71.95h2.6M255.50 71.95h-2.6M42.30 55.54h2.6M255.50 55.54h-2.6M42.30 39.12h2.6M255.50 39.12h-2.6M42.30 22.71h2.6M255.50 22.71h-2.6M42.30 6.30h2.6M255.50 6.30h-2.6" stroke="#505050" stroke-width="0.8" fill="none"/>
<rect x="42.30" y="6.30" width="213.20" height="131.30" stroke="#505050" stroke-width="1.0" fill="none"/>
<text x="43.10" y="146.80" text-anchor="middle" font-size="6.0">-10</text>
<text x="64.42" y="146.80" text-anchor="middle" font-size="6.0">-8</text>
<text x="85.74" y="146.80" text-anchor="middle" font-size="6.0">-6</text>
<text x="107.06" y="146.80" text-anchor="middle" font-size="6.0">-4</text>
<text x="128.38" y="146.80" text-anchor="middle" font-size="6.0">-2</text>
<text x="149.70" y="146.80" text-anchor="middle" font-size="6.0">0</text>
<text x="171.02" y="146.80" text-anchor="middle" font-size="6.0">2</text>
<text x="192.34" y="146.80" text-anchor="middle" font-size="6.0">4</text>
<text x="213.66" y="146.80" text-anchor="middle" font-size="6.0">6</text>
<text x="234.98" y="146.80" text-anchor="middle" font-size="6.0">8</text>
<text x="256.30" y="146.80" text-anchor="middle" font-size="6.0">10</text>
<text x="39.00" y="140.40" text-anchor="end" font-size="6.0">-0.003</text>
<text x="39.00" y="123.99" text-anchor="end" font-size="6.0">-0.0025</text>
<text x="39.00" y="107.58" text-anchor="end" font-size="6.0">-0.002</text>
<text x="39.00" y="91.16" text-anchor="end" font-size="6.0">-0.0015</text>
<text x="39.00" y="74.75" text-anchor="end" font-size="6.0">-0.001</text>
<text x="39.00" y="58.34" text-anchor="end" font-size="6.0">-0.0005</text>
<text x="39.00" y="41.92" text-anchor="end" font-size="6.0">0</text>
<text x="39.00" y="25.51" text-anchor="end" font-size="6.0">0.0005</text>
<text x="39.00" y="9.10" text-anchor="end" font-size="6.0">0.001</text>
<text x="149.70" y="157.80" text-anchor="middle" font-size="6.0">y-coordinate (l.u)</text>
<text transform="translate(8.00,71.05) rotate(-90)" text-anchor="middle" font-size="6.0">err(ux)</text>
<path d="M331.50 137.20v-2.6M331.50 6.50v2.6M352.50 137.20v-2.6M352.50 6.50v2.6M373.50 137.20v-2.6M373.50 6.50v2.6M394.50 137.20v-2.6M394.50 6.50v2.6M415.50 137.20v-2.6M415.50 6.50v2.6M436.50 137.20v-2.6M436.50 6.50v2.6M457.50 137.20v-2.6M457.50 6.50v2.6M478.50 137.20v-2.6M478.50 6.50v2.6M499.50 137.20v-2.6M499.50 6.50v2.6M520.50 137.20v-2.6M520.50 6.50v2.6M541.50 137.20v-2.6M541.50 6.50v2.6M331.50 137.20h2.6M541.50 137.20h-2.6M331.50 120.86h2.6M541.50 120.86h-2.6M331.50 104.52h2.6M541.50 104.52h-2.6M331.50 88.19h2.6M541.50 88.19h-2.6M331.50 71.85h2.6M541.50 71.85h-2.6M331.50 55.51h2.6M541.50 55.51h-2.6M331.50 39.17h2.6M541.50 39.17h-2.6M331.50 22.84h2.6M541.50 22.84h-2.6M331.50 6.50h2.6M541.50 6.50h-2.6" stroke="#505050" stroke-width="0.8" fill="none"/>
<rect x="331.50" y="6.50" width="210.00" height="130.70" stroke="#505050" stroke-width="1.0" fill="none"/>
<text x="332.30" y="146.40" text-anchor="middle" font-size="6.0">-10</text>
<text x="353.30" y="146.40" text-anchor="middle" font-size="6.0">-8</text>
<text x="374.30" y="146.40" text-anchor="middle" font-size="6.0">-6</text>
<text x="395.30" y="146.40" text-anchor="middle" font-size="6.0">-4</text>
<text x="416.30" y="146.40" text-anchor="middle" font-size="6.0">-2</text>
<text x="437.30" y="146.40" text-anchor="middle" font-size="6.0">0</text>
<text x="458.30" y="146.40" text-anchor="middle" font-size="6.0">2</text>
<text x="479.30" y="146.40" text-anchor="middle" font-size="6.0">4</text>
<text x="500.30" y="146.40" text-anchor="middle" font-size="6.0">6</text>
<text x="521.30" y="146.40" text-anchor="middle" font-size="6.0">8</text>
<text x="542.30" y="146.40" text-anchor="middle" font-size="6.0">10</text>
<text x="328.20" y="140.00" text-anchor="end" font-size="6.0">-5x10<tspan dy="-2.3" font-size="4.6">-5</tspan></text>
<text x="328.20" y="123.66" text-anchor="end" font-size="6.0">0</text>
<text x="328.20" y="107.32" text-anchor="end" font-size="6.0">5x10<tspan dy="-2.3" font-size="4.6">-5</tspan></text>
<text x="328.20" y="90.99" text-anchor="end" font-size="6.0">0.0001</text>
<text x="328.20" y="74.65" text-anchor="end" font-size="6.0">0.00015</text>
<text x="328.20" y="58.31" text-anchor="end" font-size="6.0">0.0002</text>
<text x="328.20" y="41.97" text-anchor="end" font-size="6.0">0.00025</text>
<text x="328.20" y="25.64" text-anchor="end" font-size="6.0">0.0003</text>
<text x="328.20" y="9.30" text-anchor="end" font-size="6.0">0.00035</text>
<text x="437.30" y="157.40" text-anchor="middle" font-size="6.0">y-coordinate (l.u)</text>
<text transform="translate(293.60,70.95) rotate(-90)" text-anchor="middle" font-size="6.0">err(ux)</text>
<path d="M42.40 303.90v-2.6M42.40 172.70v2.6M66.00 303.90v-2.6M66.00 172.70v2.6M89.60 303.90v-2.6M89.60 172.70v2.6M113.20 303.90v-2.6M113.20 172.70v2.6M136.80 303.90v-2.6M136.80 172.70v2.6M160.40 303.90v-2.6M160.40 172.70v2.6M184.00 303.90v-2.6M184.00 172.70v2.6M207.60 303.90v-2.6M207.60 172.70v2.6M231.20 303.90v-2.6M231.20 172.70v2.6M254.80 303.90v-2.6M254.80 172.70v2.6M42.40 303.90h2.6M254.80 303.90h-2.6M42.40 287.50h2.6M254.80 287.50h-2.6M42.40 271.10h2.6M254.80 271.10h-2.6M42.40 254.70h2.6M254.80 254.70h-2.6M42.40 238.30h2.6M254.80 238.30h-2.6M42.40 221.90h2.6M254.80 221.90h-2.6M42.40 205.50h2.6M254.80 205.50h-2.6M42.40 189.10h2.6M254.80 189.10h-2.6M42.40 172.70h2.6M254.80 172.70h-2.6" stroke="#505050" stroke-width="0.8" fill="none"/>
<rect x="42.40" y="172.70" width="212.40" height="131.20" stroke="#505050" stroke-width="1.0" fill="none"/>
<text x="43.20" y="313.10" text-anchor="middle" font-size="6.0">0</text>
<text x="66.80" y="313.10" text-anchor="middle" font-size="6.0">10</text>
<text x="90.40" y="313.10" text-anchor="middle" font-size="6.0">20</text>
<text x="114.00" y="313.10" text-anchor="middle" font-size="6.0">30</text>
<text x="137.60" y="313.10" text-anchor="middle" font-size="6.0">40</text>
<text x="161.20" y="313.10" text-anchor="middle" font-size="6.0">50</text>
<text x="184.80" y="313.10" text-anchor="middle" font-size="6.0">60</text>
<text x="208.40" y="313.10" text-anchor="middle" font-size="6.0">70</text>
<text x="232.00" y="313.10" text-anchor="middle" font-size="6.0">80</text>
<text x="255.60" y="313.10" text-anchor="middle" font-size="6.0">90</text>
<text x="39.10" y="306.70" text-anchor="end" font-size="6.0">-0.003</text>
<text x="39.10" y="290.30" text-anchor="end" font-size="6.0">-0.0025</text>
<text x="39.10" y="273.90" text-anchor="end" font-size="6.0">-0.002</text>
<text x="39.10" y="257.50" text-anchor="end" font-size="6.0">-0.0015</text>
<text x="39.10" y="241.10" text-anchor="end" font-size="6.0">-0.001</text>
<text x="39.10" y="224.70" text-anchor="end" font-size="6.0">-0.0005</text>
<text x="39.10" y="208.30" text-anchor="end" font-size="6.0">0</text>
<text x="39.10" y="191.90" text-anchor="end" font-size="6.0">0.0005</text>
<text x="39.10" y="175.50" text-anchor="end" font-size="6.0">0.001</text>
<text x="149.40" y="324.10" text-anchor="middle" font-size="6.0">x-coordinate (l.u)</text>
<text transform="translate(8.00,237.40) rotate(-90)" text-anchor="middle" font-size="6.0">err(ux)</text>
<path d="M331.50 303.90v-2.6M331.50 172.70v2.6M354.89 303.90v-2.6M354.89 172.70v2.6M378.28 303.90v-2.6M378.28 172.70v2.6M401.67 303.90v-2.6M401.67 172.70v2.6M425.06 303.90v-2.6M425.06 172.70v2.6M448.44 303.90v-2.6M448.44 172.70v2.6M471.83 303.90v-2.6M471.83 172.70v2.6M495.22 303.90v-2.6M495.22 172.70v2.6M518.61 303.90v-2.6M518.61 172.70v2.6M542.00 303.90v-2.6M542.00 172.70v2.6M331.50 303.90h2.6M542.00 303.90h-2.6M331.50 287.50h2.6M542.00 287.50h-2.6M331.50 271.10h2.6M542.00 271.10h-2.6M331.50 254.70h2.6M542.00 254.70h-2.6M331.50 238.30h2.6M542.00 238.30h-2.6M331.50 221.90h2.6M542.00 221.90h-2.6M331.50 205.50h2.6M542.00 205.50h-2.6M331.50 189.10h2.6M542.00 189.10h-2.6M331.50 172.70h2.6M542.00 172.70h-2.6" stroke="#505050" stroke-width="0.8" fill="none"/>
<rect x="331.50" y="172.70" width="210.50" height="131.20" stroke="#505050" stroke-width="1.0" fill="none"/>
<text x="332.30" y="313.10" text-anchor="middle" font-size="6.0">0</text>
<text x="355.69" y="313.10" text-anchor="middle" font-size="6.0">10</text>
<text x="379.08" y="313.10" text-anchor="middle" font-size="6.0">20</text>
<text x="402.47" y="313.10" text-anchor="middle" font-size="6.0">30</text>
<text x="425.86" y="313.10" text-anchor="middle" font-size="6.0">40</text>
<text x="449.24" y="313.10" text-anchor="middle" font-size="6.0">50</text>
<text x="472.63" y="313.10" text-anchor="middle" font-size="6.0">60</text>
<text x="496.02" y="313.10" text-anchor="middle" font-size="6.0">70</text>
<text x="519.41" y="313.10" text-anchor="middle" font-size="6.0">80</text>
<text x="542.80" y="313.10" text-anchor="middle" font-size="6.0">90</text>
<text x="328.20" y="306.70" text-anchor="end" font-size="6.0">-5x10<tspan dy="-2.3" font-size="4.6">-5</tspan></text>
<text x="328.20" y="290.30" text-anchor="end" font-size="6.0">0</text>
<text x="328.20" y="273.90" text-anchor="end" font-size="6.0">5x10<tspan dy="-2.3" font-size="4.6">-5</tspan></text>
<text x="328.20" y="257.50" text-anchor="end" font-size="6.0">0.0001</text>
<text x="328.20" y="241.10" text-anchor="end" font-size="6.0">0.00015</text>
<text x="328.20" y="224.70" text-anchor="end" font-size="6.0">0.0002</text>
<text x="328.20" y="208.30" text-anchor="end" font-size="6.0">0.00025</text>
<text x="328.20" y="191.90" text-anchor="end" font-size="6.0">0.0003</text>
<text x="328.20" y="175.50" text-anchor="end" font-size="6.0">0.00035</text>
<text x="437.55" y="324.10" text-anchor="middle" font-size="6.0">x-coordinate (l.u)</text>
<text transform="translate(293.60,237.40) rotate(-90)" text-anchor="middle" font-size="6.0">err(ux)</text>
<path d="M34.60 470.00v-2.6M34.60 339.00v2.6M59.13 470.00v-2.6M59.13 339.00v2.6M83.67 470.00v-2.6M83.67 339.00v2.6M108.20 470.00v-2.6M108.20 339.00v2.6M132.73 470.00v-2.6M132.73 339.00v2.6M157.27 470.00v-2.6M157.27 339.00v2.6M181.80 470.00v-2.6M181.80 339.00v2.6M206.33 470.00v-2.6M206.33 339.00v2.6M230.87 470.00v-2.6M230.87 339.00v2.6M255.40 470.00v-2.6M255.40 339.00v2.6M34.60 470.00h2.6M255.40 470.00h-2.6M34.60 451.29h2.6M255.40 451.29h-2.6M34.60 432.57h2.6M255.40 432.57h-2.6M34.60 413.86h2.6M255.40 413.86h-2.6M34.60 395.14h2.6M255.40 395.14h-2.6M34.60 376.43h2.6M255.40 376.43h-2.6M34.60 357.71h2.6M255.40 357.71h-2.6M34.60 339.00h2.6M255.40 339.00h-2.6" stroke="#505050" stroke-width="0.8" fill="none"/>
<rect x="34.60" y="339.00" width="220.80" height="131.00" stroke="#505050" stroke-width="1.0" fill="none"/>
<text x="35.40" y="479.20" text-anchor="middle" font-size="6.0">0</text>
<text x="59.93" y="479.20" text-anchor="middle" font-size="6.0">10</text>
<text x="84.47" y="479.20" text-anchor="middle" font-size="6.0">20</text>
<text x="109.00" y="479.20" text-anchor="middle" font-size="6.0">30</text>
<text x="133.53" y="479.20" text-anchor="middle" font-size="6.0">40</text>
<text x="158.07" y="479.20" text-anchor="middle" font-size="6.0">50</text>
<text x="182.60" y="479.20" text-anchor="middle" font-size="6.0">60</text>
<text x="207.13" y="479.20" text-anchor="middle" font-size="6.0">70</text>
<text x="231.67" y="479.20" text-anchor="middle" font-size="6.0">80</text>
<text x="256.20" y="479.20" text-anchor="middle" font-size="6.0">90</text>
<text x="31.30" y="472.80" text-anchor="end" font-size="6.0">-0.02</text>
<text x="31.30" y="454.09" text-anchor="end" font-size="6.0">0</text>
<text x="31.30" y="435.37" text-anchor="end" font-size="6.0">0.02</text>
<text x="31.30" y="416.66" text-anchor="end" font-size="6.0">0.04</text>
<text x="31.30" y="397.94" text-anchor="end" font-size="6.0">0.06</text>
<text x="31.30" y="379.23" text-anchor="end" font-size="6.0">0.08</text>
<text x="31.30" y="360.51" text-anchor="end" font-size="6.0">0.1</text>
<text x="31.30" y="341.80" text-anchor="end" font-size="6.0">0.12</text>
<text x="145.80" y="490.20" text-anchor="middle" font-size="6.0">x-coordinate (l.u)</text>
<text transform="translate(8.00,403.60) rotate(-90)" text-anchor="middle" font-size="6.0">err(pressure)</text>
<path d="M324.50 470.50v-2.6M324.50 339.00v2.6M348.61 470.50v-2.6M348.61 339.00v2.6M372.72 470.50v-2.6M372.72 339.00v2.6M396.83 470.50v-2.6M396.83 339.00v2.6M420.94 470.50v-2.6M420.94 339.00v2.6M445.06 470.50v-2.6M445.06 339.00v2.6M469.17 470.50v-2.6M469.17 339.00v2.6M493.28 470.50v-2.6M493.28 339.00v2.6M517.39 470.50v-2.6M517.39 339.00v2.6M541.50 470.50v-2.6M541.50 339.00v2.6M324.50 470.50h2.6M541.50 470.50h-2.6M324.50 454.06h2.6M541.50 454.06h-2.6M324.50 437.62h2.6M541.50 437.62h-2.6M324.50 421.19h2.6M541.50 421.19h-2.6M324.50 404.75h2.6M541.50 404.75h-2.6M324.50 388.31h2.6M541.50 388.31h-2.6M324.50 371.88h2.6M541.50 371.88h-2.6M324.50 355.44h2.6M541.50 355.44h-2.6M324.50 339.00h2.6M541.50 339.00h-2.6" stroke="#505050" stroke-width="0.8" fill="none"/>
<rect x="324.50" y="339.00" width="217.00" height="131.50" stroke="#505050" stroke-width="1.0" fill="none"/>
<text x="325.30" y="479.70" text-anchor="middle" font-size="6.0">0</text>
<text x="349.41" y="479.70" text-anchor="middle" font-size="6.0">10</text>
<text x="373.52" y="479.70" text-anchor="middle" font-size="6.0">20</text>
<text x="397.63" y="479.70" text-anchor="middle" font-size="6.0">30</text>
<text x="421.74" y="479.70" text-anchor="middle" font-size="6.0">40</text>
<text x="445.86" y="479.70" text-anchor="middle" font-size="6.0">50</text>
<text x="469.97" y="479.70" text-anchor="middle" font-size="6.0">60</text>
<text x="494.08" y="479.70" text-anchor="middle" font-size="6.0">70</text>
<text x="518.19" y="479.70" text-anchor="middle" font-size="6.0">80</text>
<text x="542.30" y="479.70" text-anchor="middle" font-size="6.0">90</text>
<text x="321.20" y="473.30" text-anchor="end" font-size="6.0">-0.014</text>
<text x="321.20" y="456.86" text-anchor="end" font-size="6.0">-0.012</text>
<text x="321.20" y="440.43" text-anchor="end" font-size="6.0">-0.01</text>
<text x="321.20" y="423.99" text-anchor="end" font-size="6.0">-0.008</text>
<text x="321.20" y="407.55" text-anchor="end" font-size="6.0">-0.006</text>
<text x="321.20" y="391.11" text-anchor="end" font-size="6.0">-0.004</text>
<text x="321.20" y="374.68" text-anchor="end" font-size="6.0">-0.002</text>
<text x="321.20" y="358.24" text-anchor="end" font-size="6.0">0</text>
<text x="321.20" y="341.80" text-anchor="end" font-size="6.0">0.002</text>
<text x="433.80" y="490.70" text-anchor="middle" font-size="6.0">x-coordinate (l.u)</text>
<text transform="translate(293.60,403.85) rotate(-90)" text-anchor="middle" font-size="6.0">err(pressure)</text>
<path d="M38.20 636.50v-2.6M38.20 505.50v2.6M81.52 636.50v-2.6M81.52 505.50v2.6M124.84 636.50v-2.6M124.84 505.50v2.6M168.16 636.50v-2.6M168.16 505.50v2.6M211.48 636.50v-2.6M211.48 505.50v2.6M254.80 636.50v-2.6M254.80 505.50v2.6M38.20 636.50h2.6M254.80 636.50h-2.6M38.20 623.40h2.6M254.80 623.40h-2.6M38.20 610.30h2.6M254.80 610.30h-2.6M38.20 597.20h2.6M254.80 597.20h-2.6M38.20 584.10h2.6M254.80 584.10h-2.6M38.20 571.00h2.6M254.80 571.00h-2.6M38.20 557.90h2.6M254.80 557.90h-2.6M38.20 544.80h2.6M254.80 544.80h-2.6M38.20 531.70h2.6M254.80 531.70h-2.6M38.20 518.60h2.6M254.80 518.60h-2.6M38.20 505.50h2.6M254.80 505.50h-2.6" stroke="#505050" stroke-width="0.8" fill="none"/>
<rect x="38.20" y="505.50" width="216.60" height="131.00" stroke="#505050" stroke-width="1.0" fill="none"/>
<text x="39.00" y="645.70" text-anchor="middle" font-size="6.0">300</text>
<text x="82.32" y="645.70" text-anchor="middle" font-size="6.0">400</text>
<text x="125.64" y="645.70" text-anchor="middle" font-size="6.0">500</text>
<text x="168.96" y="645.70" text-anchor="middle" font-size="6.0">600</text>
<text x="212.28" y="645.70" text-anchor="middle" font-size="6.0">700</text>
<text x="255.60" y="645.70" text-anchor="middle" font-size="6.0">800</text>
<text x="34.90" y="639.30" text-anchor="end" font-size="6.0">0</text>
<text x="34.90" y="626.20" text-anchor="end" font-size="6.0">0.005</text>
<text x="34.90" y="613.10" text-anchor="end" font-size="6.0">0.01</text>
<text x="34.90" y="600.00" text-anchor="end" font-size="6.0">0.015</text>
<text x="34.90" y="586.90" text-anchor="end" font-size="6.0">0.02</text>
<text x="34.90" y="573.80" text-anchor="end" font-size="6.0">0.025</text>
<text x="34.90" y="560.70" text-anchor="end" font-size="6.0">0.03</text>
<text x="34.90" y="547.60" text-anchor="end" font-size="6.0">0.035</text>
<text x="34.90" y="534.50" text-anchor="end" font-size="6.0">0.04</text>
<text x="34.90" y="521.40" text-anchor="end" font-size="6.0">0.045</text>
<text x="34.90" y="508.30" text-anchor="end" font-size="6.0">0.05</text>
<text x="147.30" y="656.70" text-anchor="middle" font-size="6.0">time [l.u]</text>
<text transform="translate(8.00,570.10) rotate(-90)" text-anchor="middle" font-size="6.0">errors L<tspan dy="1.5" font-size="4.6">2</tspan></text>
<path d="M324.40 636.70v-2.6M324.40 505.50v2.6M367.82 636.70v-2.6M367.82 505.50v2.6M411.24 636.70v-2.6M411.24 505.50v2.6M454.66 636.70v-2.6M454.66 505.50v2.6M498.08 636.70v-2.6M498.08 505.50v2.6M541.50 636.70v-2.6M541.50 505.50v2.6M324.40 636.70h2.6M541.50 636.70h-2.6M324.40 614.83h2.6M541.50 614.83h-2.6M324.40 592.97h2.6M541.50 592.97h-2.6M324.40 571.10h2.6M541.50 571.10h-2.6M324.40 549.23h2.6M541.50 549.23h-2.6M324.40 527.37h2.6M541.50 527.37h-2.6M324.40 505.50h2.6M541.50 505.50h-2.6" stroke="#505050" stroke-width="0.8" fill="none"/>
<rect x="324.40" y="505.50" width="217.10" height="131.20" stroke="#505050" stroke-width="1.0" fill="none"/>
<text x="325.20" y="645.90" text-anchor="middle" font-size="6.0">300</text>
<text x="368.62" y="645.90" text-anchor="middle" font-size="6.0">400</text>
<text x="412.04" y="645.90" text-anchor="middle" font-size="6.0">500</text>
<text x="455.46" y="645.90" text-anchor="middle" font-size="6.0">600</text>
<text x="498.88" y="645.90" text-anchor="middle" font-size="6.0">700</text>
<text x="542.30" y="645.90" text-anchor="middle" font-size="6.0">800</text>
<text x="321.10" y="639.50" text-anchor="end" font-size="6.0">0</text>
<text x="321.10" y="617.63" text-anchor="end" font-size="6.0">0.001</text>
<text x="321.10" y="595.77" text-anchor="end" font-size="6.0">0.002</text>
<text x="321.10" y="573.90" text-anchor="end" font-size="6.0">0.003</text>
<text x="321.10" y="552.03" text-anchor="end" font-size="6.0">0.004</text>
<text x="321.10" y="530.17" text-anchor="end" font-size="6.0">0.005</text>
<text x="321.10" y="508.30" text-anchor="end" font-size="6.0">0.006</text>
<text x="433.75" y="656.90" text-anchor="middle" font-size="6.0">time [l.u]</text>
<text transform="translate(293.80,570.20) rotate(-90)" text-anchor="middle" font-size="6.0">errors L<tspan dy="1.5" font-size="4.6">2</tspan></text>
<text x="226.00" y="15.10" text-anchor="end" font-size="6.0">u<tspan dy="1.3" font-size="4.6">x</tspan><tspan dy="-1.3">,</tspan> t=300 (l.u)</text>
<path d="M237.85 12.15h1.70v1.70h-1.70z" fill="#9400d3"/>
<text x="226.00" y="22.10" text-anchor="end" font-size="6.0">u<tspan dy="1.3" font-size="4.6">x</tspan><tspan dy="-1.3">,</tspan> t=500 (l.u)</text>
<path d="M237.85 19.15h1.70v1.70h-1.70z" fill="#009e73"/>
<text x="226.00" y="29.10" text-anchor="end" font-size="6.0">u<tspan dy="1.3" font-size="4.6">x</tspan><tspan dy="-1.3">,</tspan> t=700 (l.u)</text>
<path d="M237.85 26.15h1.70v1.70h-1.70z" fill="#56b4e9"/>
<text x="512.00" y="15.30" text-anchor="end" font-size="6.0">u<tspan dy="1.3" font-size="4.6">x</tspan><tspan dy="-1.3">,</tspan> t=300 (l.u)</text>
<path d="M523.85 12.35h1.70v1.70h-1.70z" fill="#9400d3"/>
<text x="512.00" y="22.30" text-anchor="end" font-size="6.0">u<tspan dy="1.3" font-size="4.6">x</tspan><tspan dy="-1.3">,</tspan> t=500 (l.u)</text>
<path d="M523.85 19.35h1.70v1.70h-1.70z" fill="#009e73"/>
<text x="512.00" y="29.30" text-anchor="end" font-size="6.0">u<tspan dy="1.3" font-size="4.6">x</tspan><tspan dy="-1.3">,</tspan> t=700 (l.u)</text>
<path d="M523.85 26.35h1.70v1.70h-1.70z" fill="#56b4e9"/>
<text x="225.30" y="181.50" text-anchor="end" font-size="6.0">u<tspan dy="1.3" font-size="4.6">x</tspan><tspan dy="-1.3">,</tspan> t=300 (l.u)</text>
<path d="M237.15 178.55h1.70v1.70h-1.70z" fill="#9400d3"/>
<text x="225.30" y="188.50" text-anchor="end" font-size="6.0">u<tspan dy="1.3" font-size="4.6">x</tspan><tspan dy="-1.3">,</tspan> t=500 (l.u)</text>
<path d="M237.15 185.55h1.70v1.70h-1.70z" fill="#009e73"/>
<text x="225.30" y="195.50" text-anchor="end" font-size="6.0">u<tspan dy="1.3" font-size="4.6">x</tspan><tspan dy="-1.3">,</tspan> t=700 (l.u)</text>
<path d="M237.15 192.55h1.70v1.70h-1.70z" fill="#56b4e9"/>
<text x="512.50" y="181.50" text-anchor="end" font-size="6.0">u<tspan dy="1.3" font-size="4.6">x</tspan><tspan dy="-1.3">,</tspan> t=300 (l.u)</text>
<path d="M524.35 178.55h1.70v1.70h-1.70z" fill="#9400d3"/>
<text x="512.50" y="188.50" text-anchor="end" font-size="6.0">u<tspan dy="1.3" font-size="4.6">x</tspan><tspan dy="-1.3">,</tspan> t=500 (l.u)</text>
<path d="M524.35 185.55h1.70v1.70h-1.70z" fill="#009e73"/>
<text x="512.50" y="195.50" text-anchor="end" font-size="6.0">u<tspan dy="1.3" font-size="4.6">x</tspan><tspan dy="-1.3">,</tspan> t=700 (l.u)</text>
<path d="M524.35 192.55h1.70v1.70h-1.70z" fill="#56b4e9"/>
<text x="225.90" y="347.80" text-anchor="end" font-size="6.0">P, t=300 (l.u)</text>
<path d="M237.75 344.85h1.70v1.70h-1.70z" fill="#9400d3"/>
<text x="225.90" y="354.80" text-anchor="end" font-size="6.0">P, t=500 (l.u)</text>
<path d="M237.75 351.85h1.70v1.70h-1.70z" fill="#009e73"/>
<text x="225.90" y="361.80" text-anchor="end" font-size="6.0">P, t=700 (l.u)</text>
<path d="M237.75 358.85h1.70v1.70h-1.70z" fill="#56b4e9"/>
<text x="512.00" y="347.80" text-anchor="end" font-size="6.0">P, t=300 (l.u)</text>
<path d="M523.85 344.85h1.70v1.70h-1.70z" fill="#9400d3"/>
<text x="512.00" y="354.80" text-anchor="end" font-size="6.0">P, t=500 (l.u)</text>
<path d="M523.85 351.85h1.70v1.70h-1.70z" fill="#009e73"/>
<text x="512.00" y="361.80" text-anchor="end" font-size="6.0">P, t=700 (l.u)</text>
<path d="M523.85 358.85h1.70v1.70h-1.70z" fill="#56b4e9"/>
<text x="225.80" y="514.10" text-anchor="end" font-size="6.0">L<tspan dy="1.3" font-size="4.6">2</tspan><tspan dy="-1.3">(u</tspan><tspan dy="1.3" font-size="4.6">x</tspan><tspan dy="-1.3">)</tspan></text>
<path d="M229.20 512.00H247.20" stroke="#009e73" stroke-width="1.1"/>
<path d="M237.65 511.45h1.10v1.10h-1.10z" fill="#009e73"/>
<text x="225.80" y="521.00" text-anchor="end" font-size="6.0">L<tspan dy="1.3" font-size="4.6">2</tspan><tspan dy="-1.3">(p)</tspan></text>
<path d="M229.20 518.90H247.20" stroke="#56b4e9" stroke-width="1.1"/>
<path d="M237.65 518.35h1.10v1.10h-1.10z" fill="#56b4e9"/>
<text x="512.50" y="514.10" text-anchor="end" font-size="6.0">L<tspan dy="1.3" font-size="4.6">2</tspan><tspan dy="-1.3">(u</tspan><tspan dy="1.3" font-size="4.6">x</tspan><tspan dy="-1.3">)</tspan></text>
<path d="M515.90 512.00H533.90" stroke="#009e73" stroke-width="1.1"/>
<path d="M524.35 511.45h1.10v1.10h-1.10z" fill="#009e73"/>
<text x="512.50" y="521.00" text-anchor="end" font-size="6.0">L<tspan dy="1.3" font-size="4.6">2</tspan><tspan dy="-1.3">(p)</tspan></text>
<path d="M515.90 518.90H533.90" stroke="#56b4e9" stroke-width="1.1"/>
<path d="M524.35 518.35h1.10v1.10h-1.10z" fill="#56b4e9"/>
</svg></body></html>
